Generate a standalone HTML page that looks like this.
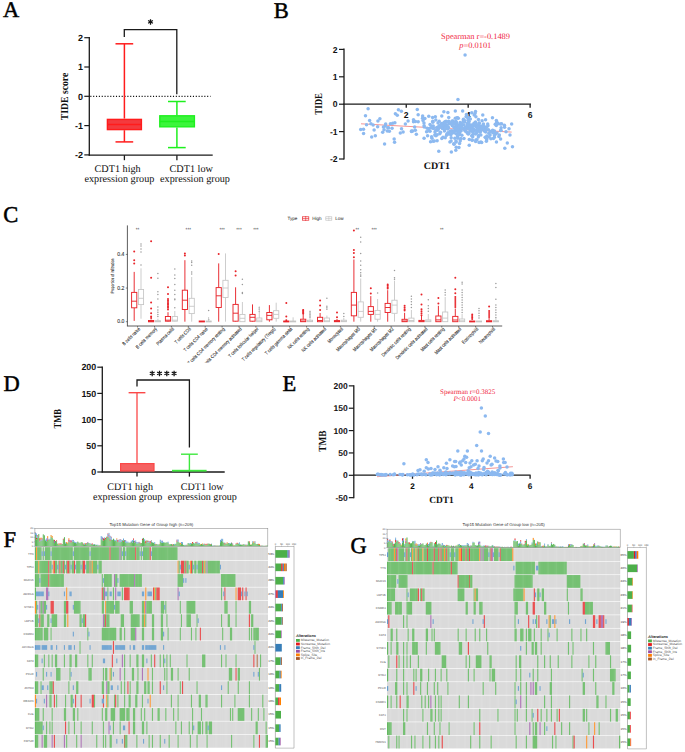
<!DOCTYPE html>
<html><head><meta charset="utf-8"><title>Figure</title>
<style>html,body{margin:0;padding:0;background:#fff;width:685px;height:752px;overflow:hidden}svg{display:block}text{text-rendering:geometricPrecision}</style>
</head><body>
<svg width="685" height="752" viewBox="0 0 685 752"><text x="2.90" y="17.20" font-family='"Liberation Serif", serif' font-size="22.5" font-weight="normal" text-anchor="start" fill="#000" stroke="#000" stroke-width="0.5">A</text>
<line x1="89.30" y1="37.00" x2="89.30" y2="155.80" stroke="#1a1a1a" stroke-width="1.3"/>
<line x1="88.70" y1="155.20" x2="212.70" y2="155.20" stroke="#1a1a1a" stroke-width="1.3"/>
<line x1="84.30" y1="37.70" x2="89.30" y2="37.70" stroke="#1a1a1a" stroke-width="1.2"/>
<text x="83.00" y="40.94" font-family='"Liberation Sans", sans-serif' font-size="9.0" font-weight="bold" text-anchor="end" fill="#111">2</text>
<line x1="84.30" y1="67.00" x2="89.30" y2="67.00" stroke="#1a1a1a" stroke-width="1.2"/>
<text x="83.00" y="70.24" font-family='"Liberation Sans", sans-serif' font-size="9.0" font-weight="bold" text-anchor="end" fill="#111">1</text>
<line x1="84.30" y1="96.30" x2="89.30" y2="96.30" stroke="#1a1a1a" stroke-width="1.2"/>
<text x="83.00" y="99.54" font-family='"Liberation Sans", sans-serif' font-size="9.0" font-weight="bold" text-anchor="end" fill="#111">0</text>
<line x1="84.30" y1="125.60" x2="89.30" y2="125.60" stroke="#1a1a1a" stroke-width="1.2"/>
<text x="83.00" y="128.84" font-family='"Liberation Sans", sans-serif' font-size="9.0" font-weight="bold" text-anchor="end" fill="#111">-1</text>
<line x1="84.30" y1="154.90" x2="89.30" y2="154.90" stroke="#1a1a1a" stroke-width="1.2"/>
<text x="83.00" y="158.14" font-family='"Liberation Sans", sans-serif' font-size="9.0" font-weight="bold" text-anchor="end" fill="#111">-2</text>
<line x1="124.40" y1="155.20" x2="124.40" y2="160.20" stroke="#1a1a1a" stroke-width="1.3"/>
<line x1="176.90" y1="155.20" x2="176.90" y2="160.20" stroke="#1a1a1a" stroke-width="1.3"/>
<line x1="90.30" y1="96.30" x2="210.50" y2="96.30" stroke="#111" stroke-width="1.2" stroke-dasharray="1.1 1.75"/>
<polyline points="124.3,36.9 124.3,29.6 176.8,29.6 176.8,94.3" fill="none" stroke="#1a1a1a" stroke-width="1.3"/>
<path d="M150.50 19.15L150.50 24.65M152.88 20.52L148.12 23.27M152.88 23.27L148.12 20.52" stroke="#111" stroke-width="1.25" stroke-linecap="butt"/>
<line x1="124.40" y1="43.80" x2="124.40" y2="118.60" stroke="#ff1c1c" stroke-width="1.5"/>
<line x1="124.40" y1="130.20" x2="124.40" y2="141.90" stroke="#ff1c1c" stroke-width="1.5"/>
<line x1="115.50" y1="43.80" x2="133.20" y2="43.80" stroke="#ff1c1c" stroke-width="1.5"/>
<line x1="115.50" y1="141.90" x2="133.20" y2="141.90" stroke="#ff1c1c" stroke-width="1.5"/>
<rect x="107.40" y="119.40" width="34.00" height="10.20" fill="#f43a3e" stroke="#ff1c1c" stroke-width="1.4"/>
<line x1="107.40" y1="124.40" x2="141.40" y2="124.40" stroke="#ff1c1c" stroke-width="1.5"/>
<line x1="176.90" y1="101.50" x2="176.90" y2="115.20" stroke="#1ef01e" stroke-width="1.5"/>
<line x1="176.90" y1="127.50" x2="176.90" y2="147.60" stroke="#1ef01e" stroke-width="1.5"/>
<line x1="168.00" y1="101.50" x2="185.70" y2="101.50" stroke="#1ef01e" stroke-width="1.5"/>
<line x1="168.00" y1="147.60" x2="185.70" y2="147.60" stroke="#1ef01e" stroke-width="1.5"/>
<rect x="159.80" y="115.80" width="34.60" height="11.00" fill="#3cf53c" stroke="#1ef01e" stroke-width="1.4"/>
<line x1="159.80" y1="121.60" x2="194.40" y2="121.60" stroke="#1ef01e" stroke-width="1.5"/>
<g transform="translate(64.20 96.50) rotate(-90) scale(0.915 1)"><text x="0.00" y="3.50" font-family='"Liberation Serif", serif' font-size="10.6" font-weight="bold" text-anchor="middle" fill="#111">TIDE score</text></g>
<text x="117.60" y="171.60" font-family='"Liberation Serif", serif' font-size="10.2" font-weight="normal" text-anchor="middle" fill="#111">CDT1 high</text>
<text x="119.40" y="182.30" font-family='"Liberation Serif", serif' font-size="10.2" font-weight="normal" text-anchor="middle" fill="#111">expression group</text>
<text x="191.20" y="171.60" font-family='"Liberation Serif", serif' font-size="10.2" font-weight="normal" text-anchor="middle" fill="#111">CDT1 low</text>
<text x="195.00" y="182.30" font-family='"Liberation Serif", serif' font-size="10.2" font-weight="normal" text-anchor="middle" fill="#111">expression group</text>
<text x="273.80" y="17.50" font-family='"Liberation Serif", serif' font-size="22.5" font-weight="normal" text-anchor="start" fill="#000" stroke="#000" stroke-width="0.5">B</text>
<line x1="344.00" y1="48.60" x2="344.00" y2="159.50" stroke="#1a1a1a" stroke-width="1.3"/>
<line x1="343.40" y1="104.20" x2="531.00" y2="104.20" stroke="#1a1a1a" stroke-width="1.3"/>
<line x1="339.00" y1="49.40" x2="344.00" y2="49.40" stroke="#1a1a1a" stroke-width="1.2"/>
<text x="337.60" y="52.50" font-family='"Liberation Sans", sans-serif' font-size="8.6" font-weight="bold" text-anchor="end" fill="#111">2</text>
<line x1="339.00" y1="76.80" x2="344.00" y2="76.80" stroke="#1a1a1a" stroke-width="1.2"/>
<text x="337.60" y="79.90" font-family='"Liberation Sans", sans-serif' font-size="8.6" font-weight="bold" text-anchor="end" fill="#111">1</text>
<line x1="339.00" y1="104.20" x2="344.00" y2="104.20" stroke="#1a1a1a" stroke-width="1.2"/>
<text x="337.60" y="107.30" font-family='"Liberation Sans", sans-serif' font-size="8.6" font-weight="bold" text-anchor="end" fill="#111">0</text>
<line x1="339.00" y1="131.60" x2="344.00" y2="131.60" stroke="#1a1a1a" stroke-width="1.2"/>
<text x="337.60" y="134.70" font-family='"Liberation Sans", sans-serif' font-size="8.6" font-weight="bold" text-anchor="end" fill="#111">-1</text>
<line x1="339.00" y1="159.00" x2="344.00" y2="159.00" stroke="#1a1a1a" stroke-width="1.2"/>
<text x="337.60" y="162.10" font-family='"Liberation Sans", sans-serif' font-size="8.6" font-weight="bold" text-anchor="end" fill="#111">-2</text>
<line x1="406.24" y1="104.20" x2="406.24" y2="107.80" stroke="#1a1a1a" stroke-width="1.3"/>
<text x="406.24" y="117.90" font-family='"Liberation Sans", sans-serif' font-size="8.6" font-weight="bold" text-anchor="middle" fill="#111">2</text>
<line x1="468.18" y1="104.20" x2="468.18" y2="107.80" stroke="#1a1a1a" stroke-width="1.3"/>
<text x="468.18" y="117.90" font-family='"Liberation Sans", sans-serif' font-size="8.6" font-weight="bold" text-anchor="middle" fill="#111">4</text>
<line x1="530.12" y1="104.20" x2="530.12" y2="107.80" stroke="#1a1a1a" stroke-width="1.3"/>
<text x="530.12" y="117.90" font-family='"Liberation Sans", sans-serif' font-size="8.6" font-weight="bold" text-anchor="middle" fill="#111">6</text>
<g transform="translate(318.30 103.90) rotate(-90) scale(0.83 1)"><text x="0.00" y="3.50" font-family='"Liberation Serif", serif' font-size="10.6" font-weight="bold" text-anchor="middle" fill="#111">TIDE</text></g>
<text x="436.90" y="168.70" font-family='"Liberation Serif", serif' font-size="10.0" font-weight="bold" text-anchor="middle" fill="#111">CDT1</text>
<text x="475.50" y="39.40" font-family='"Liberation Serif", serif' font-size="8.4" font-weight="normal" text-anchor="middle" fill="#f0263e">Spearman r=-0.1489</text>
<text x="475.3" y="48.3" font-family='"Liberation Serif", serif' font-size="8.4" text-anchor="middle" fill="#f0263e"><tspan font-style="italic">p</tspan>=0.0101</text>
<line x1="361.00" y1="123.80" x2="511.70" y2="132.10" stroke="#f07a7a" stroke-width="0.8"/>
<circle cx="379.89" cy="118.70" r="1.75" fill="#8cb9f0"/>
<circle cx="365.48" cy="115.79" r="1.75" fill="#8cb9f0"/>
<circle cx="392.04" cy="128.13" r="1.75" fill="#8cb9f0"/>
<circle cx="390.41" cy="123.86" r="1.75" fill="#8cb9f0"/>
<circle cx="363.48" cy="129.17" r="1.75" fill="#8cb9f0"/>
<circle cx="366.53" cy="124.77" r="1.75" fill="#8cb9f0"/>
<circle cx="385.66" cy="124.03" r="1.75" fill="#8cb9f0"/>
<circle cx="374.12" cy="130.11" r="1.75" fill="#8cb9f0"/>
<circle cx="397.28" cy="115.23" r="1.75" fill="#8cb9f0"/>
<circle cx="384.06" cy="129.83" r="1.75" fill="#8cb9f0"/>
<circle cx="417.27" cy="109.52" r="1.75" fill="#8cb9f0"/>
<circle cx="377.93" cy="121.12" r="1.75" fill="#8cb9f0"/>
<circle cx="369.60" cy="120.56" r="1.75" fill="#8cb9f0"/>
<circle cx="408.09" cy="121.04" r="1.75" fill="#8cb9f0"/>
<circle cx="371.69" cy="137.03" r="1.75" fill="#8cb9f0"/>
<circle cx="382.67" cy="132.26" r="1.75" fill="#8cb9f0"/>
<circle cx="392.72" cy="123.28" r="1.75" fill="#8cb9f0"/>
<circle cx="373.13" cy="124.94" r="1.75" fill="#8cb9f0"/>
<circle cx="400.32" cy="132.96" r="1.75" fill="#8cb9f0"/>
<circle cx="394.88" cy="122.77" r="1.75" fill="#8cb9f0"/>
<circle cx="387.30" cy="130.92" r="1.75" fill="#8cb9f0"/>
<circle cx="401.38" cy="111.28" r="1.75" fill="#8cb9f0"/>
<circle cx="375.32" cy="135.67" r="1.75" fill="#8cb9f0"/>
<circle cx="411.47" cy="130.94" r="1.75" fill="#8cb9f0"/>
<circle cx="403.13" cy="131.92" r="1.75" fill="#8cb9f0"/>
<circle cx="368.10" cy="108.86" r="1.75" fill="#8cb9f0"/>
<circle cx="385.29" cy="125.89" r="1.75" fill="#8cb9f0"/>
<circle cx="389.35" cy="131.15" r="1.75" fill="#8cb9f0"/>
<circle cx="363.58" cy="133.45" r="1.75" fill="#8cb9f0"/>
<circle cx="394.16" cy="139.11" r="1.75" fill="#8cb9f0"/>
<circle cx="411.49" cy="131.39" r="1.75" fill="#8cb9f0"/>
<circle cx="395.39" cy="113.67" r="1.75" fill="#8cb9f0"/>
<circle cx="394.56" cy="142.27" r="1.75" fill="#8cb9f0"/>
<circle cx="415.46" cy="121.56" r="1.75" fill="#8cb9f0"/>
<circle cx="388.50" cy="127.71" r="1.75" fill="#8cb9f0"/>
<circle cx="401.53" cy="128.78" r="1.75" fill="#8cb9f0"/>
<circle cx="398.41" cy="109.85" r="1.75" fill="#8cb9f0"/>
<circle cx="377.64" cy="126.83" r="1.75" fill="#8cb9f0"/>
<circle cx="383.44" cy="127.04" r="1.75" fill="#8cb9f0"/>
<circle cx="387.79" cy="127.75" r="1.75" fill="#8cb9f0"/>
<circle cx="370.96" cy="123.85" r="1.75" fill="#8cb9f0"/>
<circle cx="405.35" cy="124.07" r="1.75" fill="#8cb9f0"/>
<circle cx="472.97" cy="125.59" r="1.75" fill="#8cb9f0"/>
<circle cx="422.55" cy="118.34" r="1.75" fill="#8cb9f0"/>
<circle cx="483.51" cy="126.18" r="1.75" fill="#8cb9f0"/>
<circle cx="412.76" cy="131.02" r="1.75" fill="#8cb9f0"/>
<circle cx="480.78" cy="142.10" r="1.75" fill="#8cb9f0"/>
<circle cx="455.99" cy="121.61" r="1.75" fill="#8cb9f0"/>
<circle cx="428.76" cy="116.36" r="1.75" fill="#8cb9f0"/>
<circle cx="473.77" cy="130.41" r="1.75" fill="#8cb9f0"/>
<circle cx="468.29" cy="124.69" r="1.75" fill="#8cb9f0"/>
<circle cx="463.35" cy="121.07" r="1.75" fill="#8cb9f0"/>
<circle cx="444.46" cy="130.93" r="1.75" fill="#8cb9f0"/>
<circle cx="485.60" cy="129.72" r="1.75" fill="#8cb9f0"/>
<circle cx="439.17" cy="121.37" r="1.75" fill="#8cb9f0"/>
<circle cx="495.84" cy="133.40" r="1.75" fill="#8cb9f0"/>
<circle cx="427.10" cy="128.24" r="1.75" fill="#8cb9f0"/>
<circle cx="456.84" cy="130.67" r="1.75" fill="#8cb9f0"/>
<circle cx="494.37" cy="137.33" r="1.75" fill="#8cb9f0"/>
<circle cx="490.89" cy="138.83" r="1.75" fill="#8cb9f0"/>
<circle cx="441.43" cy="123.62" r="1.75" fill="#8cb9f0"/>
<circle cx="487.70" cy="124.11" r="1.75" fill="#8cb9f0"/>
<circle cx="468.78" cy="128.19" r="1.75" fill="#8cb9f0"/>
<circle cx="464.12" cy="125.01" r="1.75" fill="#8cb9f0"/>
<circle cx="456.18" cy="126.70" r="1.75" fill="#8cb9f0"/>
<circle cx="474.27" cy="129.40" r="1.75" fill="#8cb9f0"/>
<circle cx="478.89" cy="125.73" r="1.75" fill="#8cb9f0"/>
<circle cx="509.01" cy="128.71" r="1.75" fill="#8cb9f0"/>
<circle cx="450.11" cy="130.89" r="1.75" fill="#8cb9f0"/>
<circle cx="460.12" cy="122.45" r="1.75" fill="#8cb9f0"/>
<circle cx="452.31" cy="125.79" r="1.75" fill="#8cb9f0"/>
<circle cx="504.82" cy="148.32" r="1.75" fill="#8cb9f0"/>
<circle cx="433.29" cy="125.92" r="1.75" fill="#8cb9f0"/>
<circle cx="470.06" cy="127.58" r="1.75" fill="#8cb9f0"/>
<circle cx="450.02" cy="123.84" r="1.75" fill="#8cb9f0"/>
<circle cx="467.25" cy="132.67" r="1.75" fill="#8cb9f0"/>
<circle cx="469.02" cy="132.97" r="1.75" fill="#8cb9f0"/>
<circle cx="458.04" cy="130.23" r="1.75" fill="#8cb9f0"/>
<circle cx="458.92" cy="147.41" r="1.75" fill="#8cb9f0"/>
<circle cx="448.68" cy="121.36" r="1.75" fill="#8cb9f0"/>
<circle cx="432.21" cy="128.00" r="1.75" fill="#8cb9f0"/>
<circle cx="483.47" cy="123.95" r="1.75" fill="#8cb9f0"/>
<circle cx="496.46" cy="142.04" r="1.75" fill="#8cb9f0"/>
<circle cx="451.90" cy="130.75" r="1.75" fill="#8cb9f0"/>
<circle cx="475.49" cy="121.98" r="1.75" fill="#8cb9f0"/>
<circle cx="486.74" cy="139.87" r="1.75" fill="#8cb9f0"/>
<circle cx="476.94" cy="139.74" r="1.75" fill="#8cb9f0"/>
<circle cx="464.69" cy="120.80" r="1.75" fill="#8cb9f0"/>
<circle cx="456.83" cy="127.32" r="1.75" fill="#8cb9f0"/>
<circle cx="479.69" cy="128.67" r="1.75" fill="#8cb9f0"/>
<circle cx="458.30" cy="118.19" r="1.75" fill="#8cb9f0"/>
<circle cx="485.76" cy="131.92" r="1.75" fill="#8cb9f0"/>
<circle cx="432.73" cy="121.30" r="1.75" fill="#8cb9f0"/>
<circle cx="454.02" cy="127.60" r="1.75" fill="#8cb9f0"/>
<circle cx="477.47" cy="128.02" r="1.75" fill="#8cb9f0"/>
<circle cx="475.86" cy="139.94" r="1.75" fill="#8cb9f0"/>
<circle cx="423.97" cy="122.97" r="1.75" fill="#8cb9f0"/>
<circle cx="437.17" cy="134.79" r="1.75" fill="#8cb9f0"/>
<circle cx="424.92" cy="118.55" r="1.75" fill="#8cb9f0"/>
<circle cx="478.47" cy="119.50" r="1.75" fill="#8cb9f0"/>
<circle cx="437.78" cy="127.78" r="1.75" fill="#8cb9f0"/>
<circle cx="432.89" cy="122.33" r="1.75" fill="#8cb9f0"/>
<circle cx="498.83" cy="136.59" r="1.75" fill="#8cb9f0"/>
<circle cx="498.13" cy="123.69" r="1.75" fill="#8cb9f0"/>
<circle cx="456.14" cy="142.11" r="1.75" fill="#8cb9f0"/>
<circle cx="494.42" cy="130.95" r="1.75" fill="#8cb9f0"/>
<circle cx="445.88" cy="125.41" r="1.75" fill="#8cb9f0"/>
<circle cx="470.34" cy="118.97" r="1.75" fill="#8cb9f0"/>
<circle cx="435.79" cy="119.92" r="1.75" fill="#8cb9f0"/>
<circle cx="496.37" cy="120.43" r="1.75" fill="#8cb9f0"/>
<circle cx="456.07" cy="133.70" r="1.75" fill="#8cb9f0"/>
<circle cx="485.04" cy="129.09" r="1.75" fill="#8cb9f0"/>
<circle cx="463.44" cy="119.17" r="1.75" fill="#8cb9f0"/>
<circle cx="454.07" cy="144.24" r="1.75" fill="#8cb9f0"/>
<circle cx="451.08" cy="141.08" r="1.75" fill="#8cb9f0"/>
<circle cx="480.22" cy="127.49" r="1.75" fill="#8cb9f0"/>
<circle cx="445.67" cy="128.20" r="1.75" fill="#8cb9f0"/>
<circle cx="480.55" cy="129.14" r="1.75" fill="#8cb9f0"/>
<circle cx="492.48" cy="130.63" r="1.75" fill="#8cb9f0"/>
<circle cx="485.57" cy="119.69" r="1.75" fill="#8cb9f0"/>
<circle cx="499.33" cy="135.11" r="1.75" fill="#8cb9f0"/>
<circle cx="481.69" cy="142.58" r="1.75" fill="#8cb9f0"/>
<circle cx="434.27" cy="141.08" r="1.75" fill="#8cb9f0"/>
<circle cx="486.26" cy="138.37" r="1.75" fill="#8cb9f0"/>
<circle cx="460.13" cy="130.09" r="1.75" fill="#8cb9f0"/>
<circle cx="459.75" cy="132.81" r="1.75" fill="#8cb9f0"/>
<circle cx="466.08" cy="116.77" r="1.75" fill="#8cb9f0"/>
<circle cx="461.51" cy="125.20" r="1.75" fill="#8cb9f0"/>
<circle cx="484.61" cy="131.22" r="1.75" fill="#8cb9f0"/>
<circle cx="430.01" cy="131.25" r="1.75" fill="#8cb9f0"/>
<circle cx="486.37" cy="141.22" r="1.75" fill="#8cb9f0"/>
<circle cx="446.00" cy="121.25" r="1.75" fill="#8cb9f0"/>
<circle cx="479.59" cy="129.59" r="1.75" fill="#8cb9f0"/>
<circle cx="479.89" cy="128.52" r="1.75" fill="#8cb9f0"/>
<circle cx="431.96" cy="138.24" r="1.75" fill="#8cb9f0"/>
<circle cx="445.00" cy="121.79" r="1.75" fill="#8cb9f0"/>
<circle cx="446.78" cy="134.37" r="1.75" fill="#8cb9f0"/>
<circle cx="441.81" cy="138.46" r="1.75" fill="#8cb9f0"/>
<circle cx="457.60" cy="136.75" r="1.75" fill="#8cb9f0"/>
<circle cx="469.23" cy="145.35" r="1.75" fill="#8cb9f0"/>
<circle cx="468.36" cy="133.54" r="1.75" fill="#8cb9f0"/>
<circle cx="413.52" cy="121.75" r="1.75" fill="#8cb9f0"/>
<circle cx="453.78" cy="143.77" r="1.75" fill="#8cb9f0"/>
<circle cx="439.30" cy="125.86" r="1.75" fill="#8cb9f0"/>
<circle cx="449.36" cy="122.96" r="1.75" fill="#8cb9f0"/>
<circle cx="478.50" cy="125.03" r="1.75" fill="#8cb9f0"/>
<circle cx="468.33" cy="120.00" r="1.75" fill="#8cb9f0"/>
<circle cx="476.38" cy="126.41" r="1.75" fill="#8cb9f0"/>
<circle cx="482.10" cy="120.78" r="1.75" fill="#8cb9f0"/>
<circle cx="453.27" cy="131.69" r="1.75" fill="#8cb9f0"/>
<circle cx="507.31" cy="142.91" r="1.75" fill="#8cb9f0"/>
<circle cx="471.76" cy="112.69" r="1.75" fill="#8cb9f0"/>
<circle cx="438.03" cy="123.08" r="1.75" fill="#8cb9f0"/>
<circle cx="506.01" cy="131.63" r="1.75" fill="#8cb9f0"/>
<circle cx="473.99" cy="123.21" r="1.75" fill="#8cb9f0"/>
<circle cx="438.56" cy="128.43" r="1.75" fill="#8cb9f0"/>
<circle cx="467.51" cy="123.45" r="1.75" fill="#8cb9f0"/>
<circle cx="459.60" cy="130.09" r="1.75" fill="#8cb9f0"/>
<circle cx="435.89" cy="130.16" r="1.75" fill="#8cb9f0"/>
<circle cx="481.98" cy="129.05" r="1.75" fill="#8cb9f0"/>
<circle cx="439.83" cy="133.64" r="1.75" fill="#8cb9f0"/>
<circle cx="487.97" cy="125.64" r="1.75" fill="#8cb9f0"/>
<circle cx="475.45" cy="126.16" r="1.75" fill="#8cb9f0"/>
<circle cx="501.12" cy="127.66" r="1.75" fill="#8cb9f0"/>
<circle cx="458.81" cy="125.14" r="1.75" fill="#8cb9f0"/>
<circle cx="413.47" cy="119.64" r="1.75" fill="#8cb9f0"/>
<circle cx="468.29" cy="133.95" r="1.75" fill="#8cb9f0"/>
<circle cx="492.46" cy="117.81" r="1.75" fill="#8cb9f0"/>
<circle cx="426.56" cy="131.86" r="1.75" fill="#8cb9f0"/>
<circle cx="467.47" cy="127.85" r="1.75" fill="#8cb9f0"/>
<circle cx="450.81" cy="135.04" r="1.75" fill="#8cb9f0"/>
<circle cx="511.66" cy="123.95" r="1.75" fill="#8cb9f0"/>
<circle cx="431.59" cy="136.73" r="1.75" fill="#8cb9f0"/>
<circle cx="501.58" cy="123.84" r="1.75" fill="#8cb9f0"/>
<circle cx="504.43" cy="125.19" r="1.75" fill="#8cb9f0"/>
<circle cx="439.37" cy="126.07" r="1.75" fill="#8cb9f0"/>
<circle cx="442.37" cy="128.40" r="1.75" fill="#8cb9f0"/>
<circle cx="473.07" cy="134.33" r="1.75" fill="#8cb9f0"/>
<circle cx="457.44" cy="125.52" r="1.75" fill="#8cb9f0"/>
<circle cx="469.54" cy="124.82" r="1.75" fill="#8cb9f0"/>
<circle cx="465.49" cy="131.23" r="1.75" fill="#8cb9f0"/>
<circle cx="479.50" cy="129.30" r="1.75" fill="#8cb9f0"/>
<circle cx="440.48" cy="132.20" r="1.75" fill="#8cb9f0"/>
<circle cx="460.43" cy="129.54" r="1.75" fill="#8cb9f0"/>
<circle cx="464.23" cy="128.96" r="1.75" fill="#8cb9f0"/>
<circle cx="464.69" cy="129.90" r="1.75" fill="#8cb9f0"/>
<circle cx="430.04" cy="124.56" r="1.75" fill="#8cb9f0"/>
<circle cx="485.89" cy="126.94" r="1.75" fill="#8cb9f0"/>
<circle cx="455.87" cy="125.53" r="1.75" fill="#8cb9f0"/>
<circle cx="437.11" cy="140.75" r="1.75" fill="#8cb9f0"/>
<circle cx="461.88" cy="135.23" r="1.75" fill="#8cb9f0"/>
<circle cx="478.31" cy="137.01" r="1.75" fill="#8cb9f0"/>
<circle cx="435.33" cy="116.87" r="1.75" fill="#8cb9f0"/>
<circle cx="451.21" cy="137.76" r="1.75" fill="#8cb9f0"/>
<circle cx="442.00" cy="124.41" r="1.75" fill="#8cb9f0"/>
<circle cx="472.44" cy="128.11" r="1.75" fill="#8cb9f0"/>
<circle cx="496.28" cy="125.54" r="1.75" fill="#8cb9f0"/>
<circle cx="459.93" cy="124.68" r="1.75" fill="#8cb9f0"/>
<circle cx="500.41" cy="123.91" r="1.75" fill="#8cb9f0"/>
<circle cx="485.17" cy="137.30" r="1.75" fill="#8cb9f0"/>
<circle cx="456.85" cy="123.63" r="1.75" fill="#8cb9f0"/>
<circle cx="453.28" cy="121.15" r="1.75" fill="#8cb9f0"/>
<circle cx="474.84" cy="123.21" r="1.75" fill="#8cb9f0"/>
<circle cx="455.31" cy="111.12" r="1.75" fill="#8cb9f0"/>
<circle cx="490.39" cy="131.59" r="1.75" fill="#8cb9f0"/>
<circle cx="462.63" cy="111.11" r="1.75" fill="#8cb9f0"/>
<circle cx="452.15" cy="122.44" r="1.75" fill="#8cb9f0"/>
<circle cx="484.12" cy="129.79" r="1.75" fill="#8cb9f0"/>
<circle cx="432.24" cy="126.26" r="1.75" fill="#8cb9f0"/>
<circle cx="469.12" cy="121.44" r="1.75" fill="#8cb9f0"/>
<circle cx="479.35" cy="129.46" r="1.75" fill="#8cb9f0"/>
<circle cx="481.06" cy="126.01" r="1.75" fill="#8cb9f0"/>
<circle cx="465.41" cy="128.63" r="1.75" fill="#8cb9f0"/>
<circle cx="454.56" cy="123.83" r="1.75" fill="#8cb9f0"/>
<circle cx="434.97" cy="131.97" r="1.75" fill="#8cb9f0"/>
<circle cx="460.56" cy="138.82" r="1.75" fill="#8cb9f0"/>
<circle cx="449.91" cy="142.09" r="1.75" fill="#8cb9f0"/>
<circle cx="443.94" cy="124.17" r="1.75" fill="#8cb9f0"/>
<circle cx="474.12" cy="129.77" r="1.75" fill="#8cb9f0"/>
<circle cx="454.83" cy="138.25" r="1.75" fill="#8cb9f0"/>
<circle cx="504.59" cy="127.21" r="1.75" fill="#8cb9f0"/>
<circle cx="486.85" cy="136.00" r="1.75" fill="#8cb9f0"/>
<circle cx="455.96" cy="141.06" r="1.75" fill="#8cb9f0"/>
<circle cx="479.29" cy="123.22" r="1.75" fill="#8cb9f0"/>
<circle cx="414.60" cy="127.12" r="1.75" fill="#8cb9f0"/>
<circle cx="475.66" cy="141.54" r="1.75" fill="#8cb9f0"/>
<circle cx="416.34" cy="134.14" r="1.75" fill="#8cb9f0"/>
<circle cx="445.24" cy="137.73" r="1.75" fill="#8cb9f0"/>
<circle cx="461.20" cy="127.12" r="1.75" fill="#8cb9f0"/>
<circle cx="475.75" cy="124.66" r="1.75" fill="#8cb9f0"/>
<circle cx="496.74" cy="122.42" r="1.75" fill="#8cb9f0"/>
<circle cx="428.75" cy="130.85" r="1.75" fill="#8cb9f0"/>
<circle cx="434.83" cy="135.03" r="1.75" fill="#8cb9f0"/>
<circle cx="458.47" cy="128.67" r="1.75" fill="#8cb9f0"/>
<circle cx="472.28" cy="140.19" r="1.75" fill="#8cb9f0"/>
<circle cx="430.54" cy="127.63" r="1.75" fill="#8cb9f0"/>
<circle cx="455.62" cy="130.71" r="1.75" fill="#8cb9f0"/>
<circle cx="458.91" cy="133.93" r="1.75" fill="#8cb9f0"/>
<circle cx="477.38" cy="127.11" r="1.75" fill="#8cb9f0"/>
<circle cx="458.32" cy="133.30" r="1.75" fill="#8cb9f0"/>
<circle cx="456.23" cy="147.25" r="1.75" fill="#8cb9f0"/>
<circle cx="436.73" cy="127.49" r="1.75" fill="#8cb9f0"/>
<circle cx="424.10" cy="125.82" r="1.75" fill="#8cb9f0"/>
<circle cx="464.00" cy="138.39" r="1.75" fill="#8cb9f0"/>
<circle cx="454.38" cy="130.67" r="1.75" fill="#8cb9f0"/>
<circle cx="471.55" cy="125.09" r="1.75" fill="#8cb9f0"/>
<circle cx="459.56" cy="134.58" r="1.75" fill="#8cb9f0"/>
<circle cx="456.95" cy="129.09" r="1.75" fill="#8cb9f0"/>
<circle cx="478.18" cy="127.56" r="1.75" fill="#8cb9f0"/>
<circle cx="442.98" cy="137.30" r="1.75" fill="#8cb9f0"/>
<circle cx="451.42" cy="133.46" r="1.75" fill="#8cb9f0"/>
<circle cx="433.58" cy="128.40" r="1.75" fill="#8cb9f0"/>
<circle cx="448.57" cy="127.54" r="1.75" fill="#8cb9f0"/>
<circle cx="473.08" cy="132.18" r="1.75" fill="#8cb9f0"/>
<circle cx="452.67" cy="120.90" r="1.75" fill="#8cb9f0"/>
<circle cx="463.38" cy="121.28" r="1.75" fill="#8cb9f0"/>
<circle cx="442.28" cy="126.30" r="1.75" fill="#8cb9f0"/>
<circle cx="474.99" cy="113.43" r="1.75" fill="#8cb9f0"/>
<circle cx="468.23" cy="120.37" r="1.75" fill="#8cb9f0"/>
<circle cx="478.95" cy="123.12" r="1.75" fill="#8cb9f0"/>
<circle cx="472.76" cy="130.41" r="1.75" fill="#8cb9f0"/>
<circle cx="472.74" cy="136.72" r="1.75" fill="#8cb9f0"/>
<circle cx="488.98" cy="137.02" r="1.75" fill="#8cb9f0"/>
<circle cx="466.46" cy="114.53" r="1.75" fill="#8cb9f0"/>
<circle cx="455.04" cy="128.42" r="1.75" fill="#8cb9f0"/>
<circle cx="488.53" cy="129.85" r="1.75" fill="#8cb9f0"/>
<circle cx="440.93" cy="126.16" r="1.75" fill="#8cb9f0"/>
<circle cx="474.50" cy="124.55" r="1.75" fill="#8cb9f0"/>
<circle cx="441.78" cy="115.96" r="1.75" fill="#8cb9f0"/>
<circle cx="500.70" cy="130.45" r="1.75" fill="#8cb9f0"/>
<circle cx="466.93" cy="132.01" r="1.75" fill="#8cb9f0"/>
<circle cx="494.60" cy="135.13" r="1.75" fill="#8cb9f0"/>
<circle cx="476.72" cy="132.80" r="1.75" fill="#8cb9f0"/>
<circle cx="443.67" cy="123.13" r="1.75" fill="#8cb9f0"/>
<circle cx="492.66" cy="130.29" r="1.75" fill="#8cb9f0"/>
<circle cx="444.07" cy="122.51" r="1.75" fill="#8cb9f0"/>
<circle cx="459.24" cy="126.61" r="1.75" fill="#8cb9f0"/>
<circle cx="497.22" cy="122.67" r="1.75" fill="#8cb9f0"/>
<circle cx="447.88" cy="112.59" r="1.75" fill="#8cb9f0"/>
<circle cx="460.52" cy="123.41" r="1.75" fill="#8cb9f0"/>
<circle cx="444.80" cy="128.41" r="1.75" fill="#8cb9f0"/>
<circle cx="418.16" cy="114.68" r="1.75" fill="#8cb9f0"/>
<circle cx="493.43" cy="138.58" r="1.75" fill="#8cb9f0"/>
<circle cx="424.08" cy="138.29" r="1.75" fill="#8cb9f0"/>
<circle cx="488.84" cy="133.20" r="1.75" fill="#8cb9f0"/>
<circle cx="458.98" cy="130.87" r="1.75" fill="#8cb9f0"/>
<circle cx="457.51" cy="136.12" r="1.75" fill="#8cb9f0"/>
<circle cx="461.02" cy="138.67" r="1.75" fill="#8cb9f0"/>
<circle cx="458.71" cy="126.60" r="1.75" fill="#8cb9f0"/>
<circle cx="471.73" cy="130.88" r="1.75" fill="#8cb9f0"/>
<circle cx="438.61" cy="126.73" r="1.75" fill="#8cb9f0"/>
<circle cx="448.73" cy="117.55" r="1.75" fill="#8cb9f0"/>
<circle cx="478.98" cy="130.40" r="1.75" fill="#8cb9f0"/>
<circle cx="449.06" cy="133.10" r="1.75" fill="#8cb9f0"/>
<circle cx="437.80" cy="130.21" r="1.75" fill="#8cb9f0"/>
<circle cx="467.56" cy="125.58" r="1.75" fill="#8cb9f0"/>
<circle cx="474.18" cy="115.02" r="1.75" fill="#8cb9f0"/>
<circle cx="443.41" cy="127.95" r="1.75" fill="#8cb9f0"/>
<circle cx="415.34" cy="130.37" r="1.75" fill="#8cb9f0"/>
<circle cx="464.53" cy="127.92" r="1.75" fill="#8cb9f0"/>
<circle cx="470.29" cy="130.86" r="1.75" fill="#8cb9f0"/>
<circle cx="469.28" cy="128.82" r="1.75" fill="#8cb9f0"/>
<circle cx="479.07" cy="142.58" r="1.75" fill="#8cb9f0"/>
<circle cx="439.06" cy="127.86" r="1.75" fill="#8cb9f0"/>
<circle cx="435.51" cy="134.84" r="1.75" fill="#8cb9f0"/>
<circle cx="475.60" cy="133.91" r="1.75" fill="#8cb9f0"/>
<circle cx="475.77" cy="124.36" r="1.75" fill="#8cb9f0"/>
<circle cx="467.84" cy="125.64" r="1.75" fill="#8cb9f0"/>
<circle cx="457.91" cy="138.33" r="1.75" fill="#8cb9f0"/>
<circle cx="459.71" cy="125.65" r="1.75" fill="#8cb9f0"/>
<circle cx="447.65" cy="128.91" r="1.75" fill="#8cb9f0"/>
<circle cx="478.54" cy="135.61" r="1.75" fill="#8cb9f0"/>
<circle cx="475.90" cy="116.72" r="1.75" fill="#8cb9f0"/>
<circle cx="447.04" cy="127.20" r="1.75" fill="#8cb9f0"/>
<circle cx="456.80" cy="118.08" r="1.75" fill="#8cb9f0"/>
<circle cx="468.08" cy="122.98" r="1.75" fill="#8cb9f0"/>
<circle cx="443.77" cy="128.16" r="1.75" fill="#8cb9f0"/>
<circle cx="460.20" cy="140.95" r="1.75" fill="#8cb9f0"/>
<circle cx="495.24" cy="124.17" r="1.75" fill="#8cb9f0"/>
<circle cx="418.18" cy="121.82" r="1.75" fill="#8cb9f0"/>
<circle cx="457.27" cy="125.58" r="1.75" fill="#8cb9f0"/>
<circle cx="469.29" cy="139.45" r="1.75" fill="#8cb9f0"/>
<circle cx="455.32" cy="118.34" r="1.75" fill="#8cb9f0"/>
<circle cx="446.55" cy="135.18" r="1.75" fill="#8cb9f0"/>
<circle cx="427.59" cy="135.70" r="1.75" fill="#8cb9f0"/>
<circle cx="468.54" cy="117.56" r="1.75" fill="#8cb9f0"/>
<circle cx="470.81" cy="127.57" r="1.75" fill="#8cb9f0"/>
<circle cx="447.89" cy="132.85" r="1.75" fill="#8cb9f0"/>
<circle cx="473.20" cy="125.60" r="1.75" fill="#8cb9f0"/>
<circle cx="435.93" cy="135.72" r="1.75" fill="#8cb9f0"/>
<circle cx="467.47" cy="127.41" r="1.75" fill="#8cb9f0"/>
<circle cx="428.87" cy="128.78" r="1.75" fill="#8cb9f0"/>
<circle cx="447.33" cy="125.06" r="1.75" fill="#8cb9f0"/>
<circle cx="457.62" cy="129.26" r="1.75" fill="#8cb9f0"/>
<circle cx="451.90" cy="121.20" r="1.75" fill="#8cb9f0"/>
<circle cx="494.03" cy="132.79" r="1.75" fill="#8cb9f0"/>
<circle cx="480.88" cy="134.89" r="1.75" fill="#8cb9f0"/>
<circle cx="462.18" cy="123.73" r="1.75" fill="#8cb9f0"/>
<circle cx="497.02" cy="133.03" r="1.75" fill="#8cb9f0"/>
<circle cx="458.65" cy="127.37" r="1.75" fill="#8cb9f0"/>
<circle cx="424.25" cy="127.08" r="1.75" fill="#8cb9f0"/>
<circle cx="444.11" cy="125.52" r="1.75" fill="#8cb9f0"/>
<circle cx="433.14" cy="141.13" r="1.75" fill="#8cb9f0"/>
<circle cx="461.36" cy="127.05" r="1.75" fill="#8cb9f0"/>
<circle cx="447.18" cy="122.12" r="1.75" fill="#8cb9f0"/>
<circle cx="453.84" cy="132.65" r="1.75" fill="#8cb9f0"/>
<circle cx="471.98" cy="140.04" r="1.75" fill="#8cb9f0"/>
<circle cx="444.07" cy="128.21" r="1.75" fill="#8cb9f0"/>
<circle cx="480.94" cy="130.81" r="1.75" fill="#8cb9f0"/>
<circle cx="467.89" cy="133.61" r="1.75" fill="#8cb9f0"/>
<circle cx="467.73" cy="117.72" r="1.75" fill="#8cb9f0"/>
<circle cx="443.86" cy="111.85" r="1.75" fill="#8cb9f0"/>
<circle cx="444.88" cy="127.99" r="1.75" fill="#8cb9f0"/>
<circle cx="464.62" cy="121.96" r="1.75" fill="#8cb9f0"/>
<circle cx="430.56" cy="141.86" r="1.75" fill="#8cb9f0"/>
<circle cx="475.08" cy="123.99" r="1.75" fill="#8cb9f0"/>
<circle cx="475.50" cy="111.44" r="1.75" fill="#8cb9f0"/>
<circle cx="465.39" cy="127.27" r="1.75" fill="#8cb9f0"/>
<circle cx="482.88" cy="127.26" r="1.75" fill="#8cb9f0"/>
<circle cx="500.63" cy="139.05" r="1.75" fill="#8cb9f0"/>
<circle cx="451.37" cy="151.99" r="1.75" fill="#8cb9f0"/>
<circle cx="480.06" cy="132.21" r="1.75" fill="#8cb9f0"/>
<circle cx="482.76" cy="115.02" r="1.75" fill="#8cb9f0"/>
<circle cx="460.29" cy="130.53" r="1.75" fill="#8cb9f0"/>
<circle cx="448.37" cy="134.00" r="1.75" fill="#8cb9f0"/>
<circle cx="445.21" cy="123.74" r="1.75" fill="#8cb9f0"/>
<circle cx="461.33" cy="128.38" r="1.75" fill="#8cb9f0"/>
<circle cx="456.25" cy="122.34" r="1.75" fill="#8cb9f0"/>
<circle cx="472.37" cy="130.29" r="1.75" fill="#8cb9f0"/>
<circle cx="476.49" cy="130.54" r="1.75" fill="#8cb9f0"/>
<circle cx="432.59" cy="117.59" r="1.75" fill="#8cb9f0"/>
<circle cx="471.68" cy="135.85" r="1.75" fill="#8cb9f0"/>
<circle cx="486.50" cy="127.58" r="1.75" fill="#8cb9f0"/>
<circle cx="422.65" cy="116.09" r="1.75" fill="#8cb9f0"/>
<circle cx="468.49" cy="123.04" r="1.75" fill="#8cb9f0"/>
<circle cx="465.22" cy="130.03" r="1.75" fill="#8cb9f0"/>
<circle cx="423.04" cy="120.48" r="1.75" fill="#8cb9f0"/>
<circle cx="461.17" cy="130.79" r="1.75" fill="#8cb9f0"/>
<circle cx="468.91" cy="128.63" r="1.75" fill="#8cb9f0"/>
<circle cx="476.76" cy="132.05" r="1.75" fill="#8cb9f0"/>
<circle cx="459.56" cy="143.40" r="1.75" fill="#8cb9f0"/>
<circle cx="450.21" cy="123.71" r="1.75" fill="#8cb9f0"/>
<circle cx="492.73" cy="132.71" r="1.75" fill="#8cb9f0"/>
<circle cx="457.51" cy="117.82" r="1.75" fill="#8cb9f0"/>
<circle cx="452.57" cy="123.42" r="1.75" fill="#8cb9f0"/>
<circle cx="500.98" cy="130.31" r="1.75" fill="#8cb9f0"/>
<circle cx="490.08" cy="134.97" r="1.75" fill="#8cb9f0"/>
<circle cx="465.08" cy="54.88" r="1.75" fill="#8cb9f0"/>
<circle cx="457.96" cy="99.54" r="1.75" fill="#8cb9f0"/>
<circle cx="512.47" cy="146.67" r="1.75" fill="#8cb9f0"/>
<circle cx="360.71" cy="129.41" r="1.75" fill="#8cb9f0"/>
<circle cx="384.56" cy="143.93" r="1.75" fill="#8cb9f0"/>
<circle cx="438.76" cy="151.33" r="1.75" fill="#8cb9f0"/>
<circle cx="455.79" cy="150.23" r="1.75" fill="#8cb9f0"/>
<circle cx="509.99" cy="134.89" r="1.75" fill="#8cb9f0"/>
<text x="3.30" y="221.90" font-family='"Liberation Serif", serif' font-size="22.5" font-weight="normal" text-anchor="start" fill="#000" stroke="#000" stroke-width="0.5">C</text>
<line x1="127.40" y1="225.40" x2="127.40" y2="326.40" stroke="#333" stroke-width="0.8"/>
<line x1="127.40" y1="326.00" x2="502.20" y2="326.00" stroke="#333" stroke-width="0.8"/>
<line x1="125.80" y1="321.70" x2="127.40" y2="321.70" stroke="#333" stroke-width="0.6"/>
<g transform="translate(124.4 323.45) scale(1 1.12)"><text x="0.00" y="0.00" font-family='"Liberation Sans", sans-serif' font-size="5.1" font-weight="normal" text-anchor="end" fill="#333" stroke="#333" stroke-width="0.1">0.0</text></g>
<line x1="125.80" y1="288.06" x2="127.40" y2="288.06" stroke="#333" stroke-width="0.6"/>
<g transform="translate(124.4 289.81) scale(1 1.12)"><text x="0.00" y="0.00" font-family='"Liberation Sans", sans-serif' font-size="5.1" font-weight="normal" text-anchor="end" fill="#333" stroke="#333" stroke-width="0.1">0.2</text></g>
<line x1="125.80" y1="254.42" x2="127.40" y2="254.42" stroke="#333" stroke-width="0.6"/>
<g transform="translate(124.4 256.17) scale(1 1.12)"><text x="0.00" y="0.00" font-family='"Liberation Sans", sans-serif' font-size="5.1" font-weight="normal" text-anchor="end" fill="#333" stroke="#333" stroke-width="0.1">0.4</text></g>
<g transform="translate(113.8 276.0) rotate(-90) scale(1 1.35)"><text x="0.00" y="0.00" font-family='"Liberation Sans", sans-serif' font-size="3.4" font-weight="normal" text-anchor="middle" fill="#1a1a1a" stroke="#1a1a1a" stroke-width="0.08">Proportion of infiltration</text></g>
<text x="287.40" y="219.90" font-family='"Liberation Sans", sans-serif' font-size="4.6" font-weight="normal" text-anchor="start" fill="#222">Type</text>
<rect x="302.60" y="216.80" width="6.20" height="3.40" fill="#fff" stroke="#e8242a" stroke-width="0.7"/>
<line x1="305.70" y1="216.00" x2="305.70" y2="221.00" stroke="#e8242a" stroke-width="0.6"/>
<line x1="302.60" y1="218.50" x2="308.80" y2="218.50" stroke="#e8242a" stroke-width="0.6"/>
<text x="312.20" y="219.90" font-family='"Liberation Sans", sans-serif' font-size="4.6" font-weight="normal" text-anchor="start" fill="#222">High</text>
<rect x="325.80" y="216.80" width="6.00" height="3.40" fill="#fff" stroke="#c4c4c4" stroke-width="0.7"/>
<line x1="328.80" y1="216.00" x2="328.80" y2="221.00" stroke="#c4c4c4" stroke-width="0.6"/>
<line x1="325.80" y1="218.50" x2="331.80" y2="218.50" stroke="#c4c4c4" stroke-width="0.6"/>
<text x="335.20" y="219.90" font-family='"Liberation Sans", sans-serif' font-size="4.6" font-weight="normal" text-anchor="start" fill="#222">Low</text>
<circle cx="141.00" cy="265.00" r="0.75" fill="#9a9a9a"/>
<circle cx="141.00" cy="252.00" r="0.75" fill="#9a9a9a"/>
<circle cx="141.00" cy="249.00" r="0.75" fill="#9a9a9a"/>
<circle cx="141.00" cy="246.00" r="0.75" fill="#9a9a9a"/>
<circle cx="141.00" cy="244.00" r="0.75" fill="#9a9a9a"/>
<line x1="141.00" y1="268.30" x2="141.00" y2="289.50" stroke="#c4c4c4" stroke-width="0.85"/>
<line x1="141.00" y1="304.60" x2="141.00" y2="318.70" stroke="#c4c4c4" stroke-width="0.85"/>
<rect x="138.40" y="289.50" width="5.20" height="15.10" fill="#fff" stroke="#c4c4c4" stroke-width="0.85"/>
<line x1="138.40" y1="298.30" x2="143.60" y2="298.30" stroke="#c4c4c4" stroke-width="0.85"/>
<circle cx="134.20" cy="251.50" r="1.0" fill="#e8242a"/>
<circle cx="134.20" cy="260.20" r="1.0" fill="#e8242a"/>
<circle cx="134.20" cy="263.60" r="1.0" fill="#e8242a"/>
<line x1="134.20" y1="271.90" x2="134.20" y2="292.40" stroke="#e8242a" stroke-width="0.95"/>
<line x1="134.20" y1="307.80" x2="134.20" y2="320.90" stroke="#e8242a" stroke-width="0.95"/>
<rect x="131.60" y="292.40" width="5.20" height="15.40" fill="#fff" stroke="#e8242a" stroke-width="0.95"/>
<line x1="131.60" y1="301.20" x2="136.80" y2="301.20" stroke="#e8242a" stroke-width="0.95"/>
<line x1="137.60" y1="326.00" x2="137.60" y2="327.60" stroke="#333" stroke-width="0.6"/>
<text x="137.60" y="230.60" font-family='"Liberation Sans", sans-serif' font-size="4.6" font-weight="normal" text-anchor="middle" fill="#333">**</text>
<circle cx="157.90" cy="273.40" r="0.75" fill="#9a9a9a"/>
<circle cx="157.90" cy="278.20" r="0.75" fill="#9a9a9a"/>
<circle cx="157.90" cy="291.70" r="0.75" fill="#9a9a9a"/>
<circle cx="157.90" cy="294.60" r="0.75" fill="#9a9a9a"/>
<circle cx="157.90" cy="299.00" r="0.75" fill="#9a9a9a"/>
<circle cx="157.90" cy="307.00" r="0.75" fill="#9a9a9a"/>
<circle cx="157.90" cy="310.00" r="0.75" fill="#9a9a9a"/>
<circle cx="157.90" cy="312.20" r="0.75" fill="#9a9a9a"/>
<circle cx="157.90" cy="314.40" r="0.75" fill="#9a9a9a"/>
<circle cx="157.90" cy="316.50" r="0.75" fill="#9a9a9a"/>
<line x1="157.90" y1="318.70" x2="157.90" y2="320.70" stroke="#c4c4c4" stroke-width="0.85"/>
<line x1="157.90" y1="321.80" x2="157.90" y2="321.70" stroke="#c4c4c4" stroke-width="0.85"/>
<rect x="155.30" y="320.70" width="5.20" height="1.10" fill="#fff" stroke="#c4c4c4" stroke-width="0.85"/>
<line x1="155.30" y1="321.40" x2="160.50" y2="321.40" stroke="#c4c4c4" stroke-width="0.85"/>
<circle cx="151.10" cy="241.20" r="1.0" fill="#e8242a"/>
<circle cx="151.10" cy="277.80" r="1.0" fill="#e8242a"/>
<circle cx="151.10" cy="302.40" r="1.0" fill="#e8242a"/>
<circle cx="151.10" cy="308.50" r="1.0" fill="#e8242a"/>
<circle cx="151.10" cy="313.30" r="1.0" fill="#e8242a"/>
<circle cx="151.10" cy="316.50" r="1.0" fill="#e8242a"/>
<circle cx="151.10" cy="318.00" r="1.0" fill="#e8242a"/>
<line x1="151.10" y1="319.50" x2="151.10" y2="320.50" stroke="#e8242a" stroke-width="0.95"/>
<line x1="151.10" y1="321.80" x2="151.10" y2="321.70" stroke="#e8242a" stroke-width="0.95"/>
<rect x="148.50" y="320.50" width="5.20" height="1.30" fill="#fff" stroke="#e8242a" stroke-width="0.95"/>
<line x1="148.50" y1="321.40" x2="153.70" y2="321.40" stroke="#e8242a" stroke-width="0.95"/>
<line x1="154.50" y1="326.00" x2="154.50" y2="327.60" stroke="#333" stroke-width="0.6"/>
<circle cx="174.80" cy="269.00" r="0.75" fill="#9a9a9a"/>
<circle cx="174.80" cy="274.90" r="0.75" fill="#9a9a9a"/>
<circle cx="174.80" cy="278.50" r="0.75" fill="#9a9a9a"/>
<circle cx="174.80" cy="284.40" r="0.75" fill="#9a9a9a"/>
<circle cx="174.80" cy="290.20" r="0.75" fill="#9a9a9a"/>
<circle cx="174.80" cy="294.60" r="0.75" fill="#9a9a9a"/>
<circle cx="174.80" cy="299.00" r="0.75" fill="#9a9a9a"/>
<circle cx="174.80" cy="299.70" r="0.75" fill="#9a9a9a"/>
<circle cx="174.80" cy="307.80" r="0.75" fill="#9a9a9a"/>
<line x1="174.80" y1="311.00" x2="174.80" y2="316.50" stroke="#c4c4c4" stroke-width="0.85"/>
<line x1="174.80" y1="321.20" x2="174.80" y2="321.70" stroke="#c4c4c4" stroke-width="0.85"/>
<rect x="172.20" y="316.50" width="5.20" height="4.70" fill="#fff" stroke="#c4c4c4" stroke-width="0.85"/>
<line x1="172.20" y1="320.20" x2="177.40" y2="320.20" stroke="#c4c4c4" stroke-width="0.85"/>
<circle cx="168.00" cy="287.30" r="1.0" fill="#e8242a"/>
<circle cx="168.00" cy="293.90" r="1.0" fill="#e8242a"/>
<circle cx="168.00" cy="299.00" r="1.0" fill="#e8242a"/>
<circle cx="168.00" cy="300.50" r="1.0" fill="#e8242a"/>
<circle cx="168.00" cy="301.90" r="1.0" fill="#e8242a"/>
<circle cx="168.00" cy="303.40" r="1.0" fill="#e8242a"/>
<circle cx="168.00" cy="304.80" r="1.0" fill="#e8242a"/>
<circle cx="168.00" cy="306.30" r="1.0" fill="#e8242a"/>
<circle cx="168.00" cy="307.80" r="1.0" fill="#e8242a"/>
<circle cx="168.00" cy="309.50" r="1.0" fill="#e8242a"/>
<line x1="168.00" y1="312.20" x2="168.00" y2="316.50" stroke="#e8242a" stroke-width="0.95"/>
<line x1="168.00" y1="321.20" x2="168.00" y2="321.70" stroke="#e8242a" stroke-width="0.95"/>
<rect x="165.40" y="316.50" width="5.20" height="4.70" fill="#fff" stroke="#e8242a" stroke-width="0.95"/>
<line x1="165.40" y1="320.20" x2="170.60" y2="320.20" stroke="#e8242a" stroke-width="0.95"/>
<line x1="171.40" y1="326.00" x2="171.40" y2="327.60" stroke="#333" stroke-width="0.6"/>
<circle cx="191.70" cy="261.00" r="0.75" fill="#9a9a9a"/>
<circle cx="191.70" cy="262.40" r="0.75" fill="#9a9a9a"/>
<circle cx="191.70" cy="265.30" r="0.75" fill="#9a9a9a"/>
<circle cx="191.70" cy="272.00" r="0.75" fill="#9a9a9a"/>
<circle cx="191.70" cy="274.10" r="0.75" fill="#9a9a9a"/>
<line x1="191.70" y1="277.00" x2="191.70" y2="298.30" stroke="#c4c4c4" stroke-width="0.85"/>
<line x1="191.70" y1="313.60" x2="191.70" y2="321.70" stroke="#c4c4c4" stroke-width="0.85"/>
<rect x="189.10" y="298.30" width="5.20" height="15.30" fill="#fff" stroke="#c4c4c4" stroke-width="0.85"/>
<line x1="189.10" y1="306.30" x2="194.30" y2="306.30" stroke="#c4c4c4" stroke-width="0.85"/>
<circle cx="184.90" cy="253.60" r="1.0" fill="#e8242a"/>
<circle cx="184.90" cy="255.50" r="1.0" fill="#e8242a"/>
<line x1="184.90" y1="260.20" x2="184.90" y2="290.20" stroke="#e8242a" stroke-width="0.95"/>
<line x1="184.90" y1="309.50" x2="184.90" y2="321.70" stroke="#e8242a" stroke-width="0.95"/>
<rect x="182.30" y="290.20" width="5.20" height="19.30" fill="#fff" stroke="#e8242a" stroke-width="0.95"/>
<line x1="182.30" y1="300.20" x2="187.50" y2="300.20" stroke="#e8242a" stroke-width="0.95"/>
<line x1="188.30" y1="326.00" x2="188.30" y2="327.60" stroke="#333" stroke-width="0.6"/>
<text x="188.30" y="230.60" font-family='"Liberation Sans", sans-serif' font-size="4.6" font-weight="normal" text-anchor="middle" fill="#333">***</text>
<circle cx="208.60" cy="310.40" r="0.75" fill="#9a9a9a"/>
<circle cx="208.60" cy="319.50" r="0.75" fill="#9a9a9a"/>
<line x1="208.60" y1="317.00" x2="208.60" y2="321.00" stroke="#c4c4c4" stroke-width="0.85"/>
<line x1="208.60" y1="321.90" x2="208.60" y2="321.70" stroke="#c4c4c4" stroke-width="0.85"/>
<rect x="206.00" y="321.00" width="5.20" height="0.90" fill="#fff" stroke="#c4c4c4" stroke-width="0.85"/>
<line x1="206.00" y1="321.50" x2="211.20" y2="321.50" stroke="#c4c4c4" stroke-width="0.85"/>
<line x1="201.80" y1="321.70" x2="201.80" y2="321.00" stroke="#e8242a" stroke-width="0.95"/>
<line x1="201.80" y1="321.90" x2="201.80" y2="321.70" stroke="#e8242a" stroke-width="0.95"/>
<rect x="199.20" y="321.00" width="5.20" height="0.90" fill="#fff" stroke="#e8242a" stroke-width="0.95"/>
<line x1="199.20" y1="321.50" x2="204.40" y2="321.50" stroke="#e8242a" stroke-width="0.95"/>
<line x1="205.20" y1="326.00" x2="205.20" y2="327.60" stroke="#333" stroke-width="0.6"/>
<line x1="225.50" y1="253.40" x2="225.50" y2="280.30" stroke="#c4c4c4" stroke-width="0.85"/>
<line x1="225.50" y1="297.50" x2="225.50" y2="321.70" stroke="#c4c4c4" stroke-width="0.85"/>
<rect x="222.90" y="280.30" width="5.20" height="17.20" fill="#fff" stroke="#c4c4c4" stroke-width="0.85"/>
<line x1="222.90" y1="288.00" x2="228.10" y2="288.00" stroke="#c4c4c4" stroke-width="0.85"/>
<circle cx="218.70" cy="253.90" r="1.0" fill="#e8242a"/>
<line x1="218.70" y1="263.40" x2="218.70" y2="287.60" stroke="#e8242a" stroke-width="0.95"/>
<line x1="218.70" y1="307.50" x2="218.70" y2="321.70" stroke="#e8242a" stroke-width="0.95"/>
<rect x="216.10" y="287.60" width="5.20" height="19.90" fill="#fff" stroke="#e8242a" stroke-width="0.95"/>
<line x1="216.10" y1="295.80" x2="221.30" y2="295.80" stroke="#e8242a" stroke-width="0.95"/>
<line x1="222.10" y1="326.00" x2="222.10" y2="327.60" stroke="#333" stroke-width="0.6"/>
<text x="222.10" y="230.60" font-family='"Liberation Sans", sans-serif' font-size="4.6" font-weight="normal" text-anchor="middle" fill="#333">***</text>
<circle cx="242.40" cy="279.20" r="0.75" fill="#9a9a9a"/>
<circle cx="242.40" cy="284.40" r="0.75" fill="#9a9a9a"/>
<circle cx="242.40" cy="292.40" r="0.75" fill="#9a9a9a"/>
<circle cx="242.40" cy="293.60" r="0.75" fill="#9a9a9a"/>
<line x1="242.40" y1="302.00" x2="242.40" y2="314.40" stroke="#c4c4c4" stroke-width="0.85"/>
<line x1="242.40" y1="321.70" x2="242.40" y2="321.70" stroke="#c4c4c4" stroke-width="0.85"/>
<rect x="239.80" y="314.40" width="5.20" height="7.30" fill="#fff" stroke="#c4c4c4" stroke-width="0.85"/>
<line x1="239.80" y1="318.30" x2="245.00" y2="318.30" stroke="#c4c4c4" stroke-width="0.85"/>
<circle cx="235.60" cy="271.20" r="1.0" fill="#e8242a"/>
<circle cx="235.60" cy="275.60" r="1.0" fill="#e8242a"/>
<line x1="235.60" y1="287.30" x2="235.60" y2="304.40" stroke="#e8242a" stroke-width="0.95"/>
<line x1="235.60" y1="321.20" x2="235.60" y2="321.70" stroke="#e8242a" stroke-width="0.95"/>
<rect x="233.00" y="304.40" width="5.20" height="16.80" fill="#fff" stroke="#e8242a" stroke-width="0.95"/>
<line x1="233.00" y1="313.20" x2="238.20" y2="313.20" stroke="#e8242a" stroke-width="0.95"/>
<line x1="239.00" y1="326.00" x2="239.00" y2="327.60" stroke="#333" stroke-width="0.6"/>
<text x="239.00" y="230.60" font-family='"Liberation Sans", sans-serif' font-size="4.6" font-weight="normal" text-anchor="middle" fill="#333">***</text>
<circle cx="259.30" cy="307.80" r="0.75" fill="#9a9a9a"/>
<circle cx="259.30" cy="309.20" r="0.75" fill="#9a9a9a"/>
<circle cx="259.30" cy="311.40" r="0.75" fill="#9a9a9a"/>
<line x1="259.30" y1="306.30" x2="259.30" y2="318.00" stroke="#c4c4c4" stroke-width="0.85"/>
<line x1="259.30" y1="321.70" x2="259.30" y2="321.70" stroke="#c4c4c4" stroke-width="0.85"/>
<rect x="256.70" y="318.00" width="5.20" height="3.70" fill="#fff" stroke="#c4c4c4" stroke-width="0.85"/>
<line x1="256.70" y1="320.20" x2="261.90" y2="320.20" stroke="#c4c4c4" stroke-width="0.85"/>
<line x1="252.50" y1="304.40" x2="252.50" y2="314.40" stroke="#e8242a" stroke-width="0.95"/>
<line x1="252.50" y1="321.20" x2="252.50" y2="321.70" stroke="#e8242a" stroke-width="0.95"/>
<rect x="249.90" y="314.40" width="5.20" height="6.80" fill="#fff" stroke="#e8242a" stroke-width="0.95"/>
<line x1="249.90" y1="317.30" x2="255.10" y2="317.30" stroke="#e8242a" stroke-width="0.95"/>
<line x1="255.90" y1="326.00" x2="255.90" y2="327.60" stroke="#333" stroke-width="0.6"/>
<text x="255.90" y="230.60" font-family='"Liberation Sans", sans-serif' font-size="4.6" font-weight="normal" text-anchor="middle" fill="#333">***</text>
<line x1="276.20" y1="302.70" x2="276.20" y2="310.70" stroke="#c4c4c4" stroke-width="0.85"/>
<line x1="276.20" y1="318.30" x2="276.20" y2="321.70" stroke="#c4c4c4" stroke-width="0.85"/>
<rect x="273.60" y="310.70" width="5.20" height="7.60" fill="#fff" stroke="#c4c4c4" stroke-width="0.85"/>
<line x1="273.60" y1="314.40" x2="278.80" y2="314.40" stroke="#c4c4c4" stroke-width="0.85"/>
<line x1="269.40" y1="305.10" x2="269.40" y2="312.50" stroke="#e8242a" stroke-width="0.95"/>
<line x1="269.40" y1="319.80" x2="269.40" y2="321.70" stroke="#e8242a" stroke-width="0.95"/>
<rect x="266.80" y="312.50" width="5.20" height="7.30" fill="#fff" stroke="#e8242a" stroke-width="0.95"/>
<line x1="266.80" y1="315.40" x2="272.00" y2="315.40" stroke="#e8242a" stroke-width="0.95"/>
<line x1="272.80" y1="326.00" x2="272.80" y2="327.60" stroke="#333" stroke-width="0.6"/>
<line x1="293.10" y1="317.30" x2="293.10" y2="321.00" stroke="#c4c4c4" stroke-width="0.85"/>
<line x1="293.10" y1="321.90" x2="293.10" y2="321.70" stroke="#c4c4c4" stroke-width="0.85"/>
<rect x="290.50" y="321.00" width="5.20" height="0.90" fill="#fff" stroke="#c4c4c4" stroke-width="0.85"/>
<line x1="290.50" y1="321.50" x2="295.70" y2="321.50" stroke="#c4c4c4" stroke-width="0.85"/>
<circle cx="286.30" cy="303.10" r="1.0" fill="#e8242a"/>
<circle cx="286.30" cy="316.50" r="1.0" fill="#e8242a"/>
<circle cx="286.30" cy="320.20" r="1.0" fill="#e8242a"/>
<line x1="286.30" y1="321.70" x2="286.30" y2="321.00" stroke="#e8242a" stroke-width="0.95"/>
<line x1="286.30" y1="321.90" x2="286.30" y2="321.70" stroke="#e8242a" stroke-width="0.95"/>
<rect x="283.70" y="321.00" width="5.20" height="0.90" fill="#fff" stroke="#e8242a" stroke-width="0.95"/>
<line x1="283.70" y1="321.50" x2="288.90" y2="321.50" stroke="#e8242a" stroke-width="0.95"/>
<line x1="289.70" y1="326.00" x2="289.70" y2="327.60" stroke="#333" stroke-width="0.6"/>
<circle cx="310.00" cy="311.40" r="0.75" fill="#9a9a9a"/>
<circle cx="310.00" cy="313.00" r="0.75" fill="#9a9a9a"/>
<circle cx="310.00" cy="314.40" r="0.75" fill="#9a9a9a"/>
<circle cx="310.00" cy="316.00" r="0.75" fill="#9a9a9a"/>
<circle cx="310.00" cy="317.30" r="0.75" fill="#9a9a9a"/>
<line x1="310.00" y1="310.70" x2="310.00" y2="320.20" stroke="#c4c4c4" stroke-width="0.85"/>
<line x1="310.00" y1="321.70" x2="310.00" y2="321.70" stroke="#c4c4c4" stroke-width="0.85"/>
<rect x="307.40" y="320.20" width="5.20" height="1.50" fill="#fff" stroke="#c4c4c4" stroke-width="0.85"/>
<line x1="307.40" y1="321.20" x2="312.60" y2="321.20" stroke="#c4c4c4" stroke-width="0.85"/>
<circle cx="303.20" cy="309.90" r="1.0" fill="#e8242a"/>
<circle cx="303.20" cy="311.00" r="1.0" fill="#e8242a"/>
<circle cx="303.20" cy="312.20" r="1.0" fill="#e8242a"/>
<circle cx="303.20" cy="313.60" r="1.0" fill="#e8242a"/>
<line x1="303.20" y1="309.20" x2="303.20" y2="319.20" stroke="#e8242a" stroke-width="0.95"/>
<line x1="303.20" y1="321.70" x2="303.20" y2="321.70" stroke="#e8242a" stroke-width="0.95"/>
<rect x="300.60" y="319.20" width="5.20" height="2.50" fill="#fff" stroke="#e8242a" stroke-width="0.95"/>
<line x1="300.60" y1="321.00" x2="305.80" y2="321.00" stroke="#e8242a" stroke-width="0.95"/>
<line x1="306.60" y1="326.00" x2="306.60" y2="327.60" stroke="#333" stroke-width="0.6"/>
<circle cx="326.90" cy="298.30" r="0.75" fill="#9a9a9a"/>
<circle cx="326.90" cy="306.30" r="0.75" fill="#9a9a9a"/>
<circle cx="326.90" cy="307.80" r="0.75" fill="#9a9a9a"/>
<circle cx="326.90" cy="309.20" r="0.75" fill="#9a9a9a"/>
<line x1="326.90" y1="315.60" x2="326.90" y2="318.00" stroke="#c4c4c4" stroke-width="0.85"/>
<line x1="326.90" y1="321.70" x2="326.90" y2="321.70" stroke="#c4c4c4" stroke-width="0.85"/>
<rect x="324.30" y="318.00" width="5.20" height="3.70" fill="#fff" stroke="#c4c4c4" stroke-width="0.85"/>
<line x1="324.30" y1="320.80" x2="329.50" y2="320.80" stroke="#c4c4c4" stroke-width="0.85"/>
<circle cx="320.10" cy="300.50" r="1.0" fill="#e8242a"/>
<circle cx="320.10" cy="305.60" r="1.0" fill="#e8242a"/>
<circle cx="320.10" cy="310.00" r="1.0" fill="#e8242a"/>
<line x1="320.10" y1="313.00" x2="320.10" y2="317.30" stroke="#e8242a" stroke-width="0.95"/>
<line x1="320.10" y1="321.70" x2="320.10" y2="321.70" stroke="#e8242a" stroke-width="0.95"/>
<rect x="317.50" y="317.30" width="5.20" height="4.40" fill="#fff" stroke="#e8242a" stroke-width="0.95"/>
<line x1="317.50" y1="320.50" x2="322.70" y2="320.50" stroke="#e8242a" stroke-width="0.95"/>
<line x1="323.50" y1="326.00" x2="323.50" y2="327.60" stroke="#333" stroke-width="0.6"/>
<circle cx="343.80" cy="313.60" r="0.75" fill="#9a9a9a"/>
<circle cx="343.80" cy="316.50" r="0.75" fill="#9a9a9a"/>
<line x1="343.80" y1="318.00" x2="343.80" y2="320.20" stroke="#c4c4c4" stroke-width="0.85"/>
<line x1="343.80" y1="321.70" x2="343.80" y2="321.70" stroke="#c4c4c4" stroke-width="0.85"/>
<rect x="341.20" y="320.20" width="5.20" height="1.50" fill="#fff" stroke="#c4c4c4" stroke-width="0.85"/>
<line x1="341.20" y1="321.20" x2="346.40" y2="321.20" stroke="#c4c4c4" stroke-width="0.85"/>
<circle cx="337.00" cy="312.50" r="1.0" fill="#e8242a"/>
<circle cx="337.00" cy="317.30" r="1.0" fill="#e8242a"/>
<line x1="337.00" y1="319.00" x2="337.00" y2="320.60" stroke="#e8242a" stroke-width="0.95"/>
<line x1="337.00" y1="321.70" x2="337.00" y2="321.70" stroke="#e8242a" stroke-width="0.95"/>
<rect x="334.40" y="320.60" width="5.20" height="1.10" fill="#fff" stroke="#e8242a" stroke-width="0.95"/>
<line x1="334.40" y1="321.30" x2="339.60" y2="321.30" stroke="#e8242a" stroke-width="0.95"/>
<line x1="340.40" y1="326.00" x2="340.40" y2="327.60" stroke="#333" stroke-width="0.6"/>
<circle cx="360.70" cy="237.30" r="0.75" fill="#9a9a9a"/>
<circle cx="360.70" cy="241.90" r="0.75" fill="#9a9a9a"/>
<circle cx="360.70" cy="253.60" r="0.75" fill="#9a9a9a"/>
<circle cx="360.70" cy="261.00" r="0.75" fill="#9a9a9a"/>
<circle cx="360.70" cy="265.30" r="0.75" fill="#9a9a9a"/>
<circle cx="360.70" cy="269.70" r="0.75" fill="#9a9a9a"/>
<circle cx="360.70" cy="272.70" r="0.75" fill="#9a9a9a"/>
<circle cx="360.70" cy="274.90" r="0.75" fill="#9a9a9a"/>
<circle cx="360.70" cy="276.30" r="0.75" fill="#9a9a9a"/>
<line x1="360.70" y1="278.50" x2="360.70" y2="301.90" stroke="#c4c4c4" stroke-width="0.85"/>
<line x1="360.70" y1="317.30" x2="360.70" y2="321.70" stroke="#c4c4c4" stroke-width="0.85"/>
<rect x="358.10" y="301.90" width="5.20" height="15.40" fill="#fff" stroke="#c4c4c4" stroke-width="0.85"/>
<line x1="358.10" y1="311.40" x2="363.30" y2="311.40" stroke="#c4c4c4" stroke-width="0.85"/>
<circle cx="353.90" cy="230.50" r="1.0" fill="#e8242a"/>
<circle cx="353.90" cy="250.00" r="1.0" fill="#e8242a"/>
<circle cx="353.90" cy="252.90" r="1.0" fill="#e8242a"/>
<circle cx="353.90" cy="257.30" r="1.0" fill="#e8242a"/>
<line x1="353.90" y1="259.50" x2="353.90" y2="292.40" stroke="#e8242a" stroke-width="0.95"/>
<line x1="353.90" y1="315.80" x2="353.90" y2="321.70" stroke="#e8242a" stroke-width="0.95"/>
<rect x="351.30" y="292.40" width="5.20" height="23.40" fill="#fff" stroke="#e8242a" stroke-width="0.95"/>
<line x1="351.30" y1="305.10" x2="356.50" y2="305.10" stroke="#e8242a" stroke-width="0.95"/>
<line x1="357.30" y1="326.00" x2="357.30" y2="327.60" stroke="#333" stroke-width="0.6"/>
<text x="357.30" y="230.60" font-family='"Liberation Sans", sans-serif' font-size="4.6" font-weight="normal" text-anchor="middle" fill="#333">**</text>
<circle cx="377.60" cy="293.10" r="0.75" fill="#9a9a9a"/>
<line x1="377.60" y1="299.00" x2="377.60" y2="310.40" stroke="#c4c4c4" stroke-width="0.85"/>
<line x1="377.60" y1="319.20" x2="377.60" y2="321.70" stroke="#c4c4c4" stroke-width="0.85"/>
<rect x="375.00" y="310.40" width="5.20" height="8.80" fill="#fff" stroke="#c4c4c4" stroke-width="0.85"/>
<line x1="375.00" y1="314.40" x2="380.20" y2="314.40" stroke="#c4c4c4" stroke-width="0.85"/>
<circle cx="370.80" cy="288.30" r="1.0" fill="#e8242a"/>
<circle cx="370.80" cy="293.60" r="1.0" fill="#e8242a"/>
<line x1="370.80" y1="296.10" x2="370.80" y2="306.60" stroke="#e8242a" stroke-width="0.95"/>
<line x1="370.80" y1="314.40" x2="370.80" y2="321.70" stroke="#e8242a" stroke-width="0.95"/>
<rect x="368.20" y="306.60" width="5.20" height="7.80" fill="#fff" stroke="#e8242a" stroke-width="0.95"/>
<line x1="368.20" y1="311.40" x2="373.40" y2="311.40" stroke="#e8242a" stroke-width="0.95"/>
<line x1="374.20" y1="326.00" x2="374.20" y2="327.60" stroke="#333" stroke-width="0.6"/>
<text x="374.20" y="230.60" font-family='"Liberation Sans", sans-serif' font-size="4.6" font-weight="normal" text-anchor="middle" fill="#333">***</text>
<circle cx="394.50" cy="270.50" r="0.75" fill="#9a9a9a"/>
<circle cx="394.50" cy="277.80" r="0.75" fill="#9a9a9a"/>
<circle cx="394.50" cy="279.20" r="0.75" fill="#9a9a9a"/>
<line x1="394.50" y1="280.70" x2="394.50" y2="300.20" stroke="#c4c4c4" stroke-width="0.85"/>
<line x1="394.50" y1="313.30" x2="394.50" y2="321.70" stroke="#c4c4c4" stroke-width="0.85"/>
<rect x="391.90" y="300.20" width="5.20" height="13.10" fill="#fff" stroke="#c4c4c4" stroke-width="0.85"/>
<line x1="391.90" y1="305.10" x2="397.10" y2="305.10" stroke="#c4c4c4" stroke-width="0.85"/>
<circle cx="387.70" cy="284.40" r="1.0" fill="#e8242a"/>
<circle cx="387.70" cy="285.80" r="1.0" fill="#e8242a"/>
<circle cx="387.70" cy="287.30" r="1.0" fill="#e8242a"/>
<circle cx="387.70" cy="288.60" r="1.0" fill="#e8242a"/>
<line x1="387.70" y1="290.20" x2="387.70" y2="303.40" stroke="#e8242a" stroke-width="0.95"/>
<line x1="387.70" y1="312.50" x2="387.70" y2="321.70" stroke="#e8242a" stroke-width="0.95"/>
<rect x="385.10" y="303.40" width="5.20" height="9.10" fill="#fff" stroke="#e8242a" stroke-width="0.95"/>
<line x1="385.10" y1="307.50" x2="390.30" y2="307.50" stroke="#e8242a" stroke-width="0.95"/>
<line x1="391.10" y1="326.00" x2="391.10" y2="327.60" stroke="#333" stroke-width="0.6"/>
<circle cx="411.40" cy="296.20" r="0.75" fill="#9a9a9a"/>
<circle cx="411.40" cy="299.00" r="0.75" fill="#9a9a9a"/>
<circle cx="411.40" cy="301.80" r="0.75" fill="#9a9a9a"/>
<circle cx="411.40" cy="304.60" r="0.75" fill="#9a9a9a"/>
<circle cx="411.40" cy="307.40" r="0.75" fill="#9a9a9a"/>
<line x1="411.40" y1="310.00" x2="411.40" y2="318.10" stroke="#c4c4c4" stroke-width="0.85"/>
<line x1="411.40" y1="321.70" x2="411.40" y2="321.70" stroke="#c4c4c4" stroke-width="0.85"/>
<rect x="408.80" y="318.10" width="5.20" height="3.60" fill="#fff" stroke="#c4c4c4" stroke-width="0.85"/>
<line x1="408.80" y1="320.50" x2="414.00" y2="320.50" stroke="#c4c4c4" stroke-width="0.85"/>
<circle cx="404.60" cy="305.80" r="1.0" fill="#e8242a"/>
<circle cx="404.60" cy="307.50" r="1.0" fill="#e8242a"/>
<circle cx="404.60" cy="309.20" r="1.0" fill="#e8242a"/>
<circle cx="404.60" cy="310.50" r="1.0" fill="#e8242a"/>
<line x1="404.60" y1="312.80" x2="404.60" y2="319.30" stroke="#e8242a" stroke-width="0.95"/>
<line x1="404.60" y1="321.70" x2="404.60" y2="321.70" stroke="#e8242a" stroke-width="0.95"/>
<rect x="402.00" y="319.30" width="5.20" height="2.40" fill="#fff" stroke="#e8242a" stroke-width="0.95"/>
<line x1="402.00" y1="321.00" x2="407.20" y2="321.00" stroke="#e8242a" stroke-width="0.95"/>
<line x1="408.00" y1="326.00" x2="408.00" y2="327.60" stroke="#333" stroke-width="0.6"/>
<circle cx="428.30" cy="299.70" r="0.75" fill="#9a9a9a"/>
<circle cx="428.30" cy="305.80" r="0.75" fill="#9a9a9a"/>
<circle cx="428.30" cy="308.50" r="0.75" fill="#9a9a9a"/>
<circle cx="428.30" cy="311.20" r="0.75" fill="#9a9a9a"/>
<line x1="428.30" y1="314.00" x2="428.30" y2="319.90" stroke="#c4c4c4" stroke-width="0.85"/>
<line x1="428.30" y1="321.70" x2="428.30" y2="321.70" stroke="#c4c4c4" stroke-width="0.85"/>
<rect x="425.70" y="319.90" width="5.20" height="1.80" fill="#fff" stroke="#c4c4c4" stroke-width="0.85"/>
<line x1="425.70" y1="321.00" x2="430.90" y2="321.00" stroke="#c4c4c4" stroke-width="0.85"/>
<circle cx="421.50" cy="294.50" r="1.0" fill="#e8242a"/>
<circle cx="421.50" cy="304.40" r="1.0" fill="#e8242a"/>
<circle cx="421.50" cy="309.30" r="1.0" fill="#e8242a"/>
<circle cx="421.50" cy="311.30" r="1.0" fill="#e8242a"/>
<circle cx="421.50" cy="313.30" r="1.0" fill="#e8242a"/>
<circle cx="421.50" cy="315.20" r="1.0" fill="#e8242a"/>
<line x1="421.50" y1="316.00" x2="421.50" y2="320.40" stroke="#e8242a" stroke-width="0.95"/>
<line x1="421.50" y1="321.70" x2="421.50" y2="321.70" stroke="#e8242a" stroke-width="0.95"/>
<rect x="418.90" y="320.40" width="5.20" height="1.30" fill="#fff" stroke="#e8242a" stroke-width="0.95"/>
<line x1="418.90" y1="321.20" x2="424.10" y2="321.20" stroke="#e8242a" stroke-width="0.95"/>
<line x1="424.90" y1="326.00" x2="424.90" y2="327.60" stroke="#333" stroke-width="0.6"/>
<circle cx="445.20" cy="290.00" r="0.75" fill="#9a9a9a"/>
<circle cx="445.20" cy="292.50" r="0.75" fill="#9a9a9a"/>
<circle cx="445.20" cy="295.00" r="0.75" fill="#9a9a9a"/>
<line x1="445.20" y1="297.00" x2="445.20" y2="312.00" stroke="#c4c4c4" stroke-width="0.85"/>
<line x1="445.20" y1="321.70" x2="445.20" y2="321.70" stroke="#c4c4c4" stroke-width="0.85"/>
<rect x="442.60" y="312.00" width="5.20" height="9.70" fill="#fff" stroke="#c4c4c4" stroke-width="0.85"/>
<line x1="442.60" y1="318.10" x2="447.80" y2="318.10" stroke="#c4c4c4" stroke-width="0.85"/>
<circle cx="438.40" cy="298.00" r="1.0" fill="#e8242a"/>
<circle cx="438.40" cy="303.60" r="1.0" fill="#e8242a"/>
<line x1="438.40" y1="305.80" x2="438.40" y2="316.00" stroke="#e8242a" stroke-width="0.95"/>
<line x1="438.40" y1="321.70" x2="438.40" y2="321.70" stroke="#e8242a" stroke-width="0.95"/>
<rect x="435.80" y="316.00" width="5.20" height="5.70" fill="#fff" stroke="#e8242a" stroke-width="0.95"/>
<line x1="435.80" y1="319.90" x2="441.00" y2="319.90" stroke="#e8242a" stroke-width="0.95"/>
<line x1="441.80" y1="326.00" x2="441.80" y2="327.60" stroke="#333" stroke-width="0.6"/>
<text x="441.80" y="230.60" font-family='"Liberation Sans", sans-serif' font-size="4.6" font-weight="normal" text-anchor="middle" fill="#333">**</text>
<circle cx="462.10" cy="282.20" r="0.75" fill="#9a9a9a"/>
<circle cx="462.10" cy="284.00" r="0.75" fill="#9a9a9a"/>
<circle cx="462.10" cy="290.00" r="0.75" fill="#9a9a9a"/>
<circle cx="462.10" cy="292.50" r="0.75" fill="#9a9a9a"/>
<circle cx="462.10" cy="295.00" r="0.75" fill="#9a9a9a"/>
<circle cx="462.10" cy="297.50" r="0.75" fill="#9a9a9a"/>
<circle cx="462.10" cy="300.00" r="0.75" fill="#9a9a9a"/>
<circle cx="462.10" cy="302.50" r="0.75" fill="#9a9a9a"/>
<circle cx="462.10" cy="305.00" r="0.75" fill="#9a9a9a"/>
<circle cx="462.10" cy="307.50" r="0.75" fill="#9a9a9a"/>
<circle cx="462.10" cy="310.00" r="0.75" fill="#9a9a9a"/>
<circle cx="462.10" cy="312.50" r="0.75" fill="#9a9a9a"/>
<line x1="462.10" y1="314.00" x2="462.10" y2="319.00" stroke="#c4c4c4" stroke-width="0.85"/>
<line x1="462.10" y1="321.70" x2="462.10" y2="321.70" stroke="#c4c4c4" stroke-width="0.85"/>
<rect x="459.50" y="319.00" width="5.20" height="2.70" fill="#fff" stroke="#c4c4c4" stroke-width="0.85"/>
<line x1="459.50" y1="320.80" x2="464.70" y2="320.80" stroke="#c4c4c4" stroke-width="0.85"/>
<circle cx="455.30" cy="277.80" r="1.0" fill="#e8242a"/>
<circle cx="455.30" cy="289.20" r="1.0" fill="#e8242a"/>
<circle cx="455.30" cy="293.20" r="1.0" fill="#e8242a"/>
<circle cx="455.30" cy="297.00" r="1.0" fill="#e8242a"/>
<circle cx="455.30" cy="299.00" r="1.0" fill="#e8242a"/>
<circle cx="455.30" cy="301.00" r="1.0" fill="#e8242a"/>
<circle cx="455.30" cy="303.00" r="1.0" fill="#e8242a"/>
<circle cx="455.30" cy="305.00" r="1.0" fill="#e8242a"/>
<circle cx="455.30" cy="307.00" r="1.0" fill="#e8242a"/>
<line x1="455.30" y1="308.50" x2="455.30" y2="316.40" stroke="#e8242a" stroke-width="0.95"/>
<line x1="455.30" y1="321.70" x2="455.30" y2="321.70" stroke="#e8242a" stroke-width="0.95"/>
<rect x="452.70" y="316.40" width="5.20" height="5.30" fill="#fff" stroke="#e8242a" stroke-width="0.95"/>
<line x1="452.70" y1="320.00" x2="457.90" y2="320.00" stroke="#e8242a" stroke-width="0.95"/>
<line x1="458.70" y1="326.00" x2="458.70" y2="327.60" stroke="#333" stroke-width="0.6"/>
<circle cx="479.00" cy="308.50" r="0.75" fill="#9a9a9a"/>
<circle cx="479.00" cy="310.80" r="0.75" fill="#9a9a9a"/>
<circle cx="479.00" cy="313.30" r="0.75" fill="#9a9a9a"/>
<circle cx="479.00" cy="315.70" r="0.75" fill="#9a9a9a"/>
<circle cx="479.00" cy="318.00" r="0.75" fill="#9a9a9a"/>
<line x1="479.00" y1="321.70" x2="479.00" y2="321.00" stroke="#c4c4c4" stroke-width="0.85"/>
<line x1="479.00" y1="321.90" x2="479.00" y2="321.70" stroke="#c4c4c4" stroke-width="0.85"/>
<rect x="476.40" y="321.00" width="5.20" height="0.90" fill="#fff" stroke="#c4c4c4" stroke-width="0.85"/>
<line x1="476.40" y1="321.50" x2="481.60" y2="321.50" stroke="#c4c4c4" stroke-width="0.85"/>
<circle cx="472.20" cy="314.50" r="1.0" fill="#e8242a"/>
<circle cx="472.20" cy="316.00" r="1.0" fill="#e8242a"/>
<circle cx="472.20" cy="317.50" r="1.0" fill="#e8242a"/>
<circle cx="472.20" cy="319.00" r="1.0" fill="#e8242a"/>
<line x1="472.20" y1="321.70" x2="472.20" y2="321.00" stroke="#e8242a" stroke-width="0.95"/>
<line x1="472.20" y1="321.90" x2="472.20" y2="321.70" stroke="#e8242a" stroke-width="0.95"/>
<rect x="469.60" y="321.00" width="5.20" height="0.90" fill="#fff" stroke="#e8242a" stroke-width="0.95"/>
<line x1="469.60" y1="321.50" x2="474.80" y2="321.50" stroke="#e8242a" stroke-width="0.95"/>
<line x1="475.60" y1="326.00" x2="475.60" y2="327.60" stroke="#333" stroke-width="0.6"/>
<circle cx="495.90" cy="283.40" r="0.75" fill="#9a9a9a"/>
<circle cx="495.90" cy="287.40" r="0.75" fill="#9a9a9a"/>
<circle cx="495.90" cy="299.20" r="0.75" fill="#9a9a9a"/>
<circle cx="495.90" cy="305.00" r="0.75" fill="#9a9a9a"/>
<circle cx="495.90" cy="307.50" r="0.75" fill="#9a9a9a"/>
<circle cx="495.90" cy="310.00" r="0.75" fill="#9a9a9a"/>
<circle cx="495.90" cy="312.50" r="0.75" fill="#9a9a9a"/>
<circle cx="495.90" cy="315.00" r="0.75" fill="#9a9a9a"/>
<circle cx="495.90" cy="317.50" r="0.75" fill="#9a9a9a"/>
<line x1="495.90" y1="318.00" x2="495.90" y2="320.70" stroke="#c4c4c4" stroke-width="0.85"/>
<line x1="495.90" y1="321.80" x2="495.90" y2="321.70" stroke="#c4c4c4" stroke-width="0.85"/>
<rect x="493.30" y="320.70" width="5.20" height="1.10" fill="#fff" stroke="#c4c4c4" stroke-width="0.85"/>
<line x1="493.30" y1="321.50" x2="498.50" y2="321.50" stroke="#c4c4c4" stroke-width="0.85"/>
<circle cx="489.10" cy="306.40" r="1.0" fill="#e8242a"/>
<circle cx="489.10" cy="311.00" r="1.0" fill="#e8242a"/>
<circle cx="489.10" cy="313.00" r="1.0" fill="#e8242a"/>
<circle cx="489.10" cy="315.00" r="1.0" fill="#e8242a"/>
<circle cx="489.10" cy="317.00" r="1.0" fill="#e8242a"/>
<line x1="489.10" y1="318.00" x2="489.10" y2="320.70" stroke="#e8242a" stroke-width="0.95"/>
<line x1="489.10" y1="321.80" x2="489.10" y2="321.70" stroke="#e8242a" stroke-width="0.95"/>
<rect x="486.50" y="320.70" width="5.20" height="1.10" fill="#fff" stroke="#e8242a" stroke-width="0.95"/>
<line x1="486.50" y1="321.50" x2="491.70" y2="321.50" stroke="#e8242a" stroke-width="0.95"/>
<line x1="492.50" y1="326.00" x2="492.50" y2="327.60" stroke="#333" stroke-width="0.6"/>
<clipPath id="clc"><rect x="0" y="0" width="685" height="362.8"/></clipPath><g clip-path="url(#clc)"><g transform="translate(140.60 329.4) rotate(-45) scale(1 1.22)"><text x="0.00" y="0.00" font-family='"Liberation Sans", sans-serif' font-size="4.1" font-weight="normal" text-anchor="end" fill="#1a1a1a" stroke="#1a1a1a" stroke-width="0.06">B cells naive</text></g><g transform="translate(157.50 329.4) rotate(-45) scale(1 1.22)"><text x="0.00" y="0.00" font-family='"Liberation Sans", sans-serif' font-size="4.1" font-weight="normal" text-anchor="end" fill="#1a1a1a" stroke="#1a1a1a" stroke-width="0.06">B cells memory</text></g><g transform="translate(174.40 329.4) rotate(-45) scale(1 1.22)"><text x="0.00" y="0.00" font-family='"Liberation Sans", sans-serif' font-size="4.1" font-weight="normal" text-anchor="end" fill="#1a1a1a" stroke="#1a1a1a" stroke-width="0.06">Plasma cells</text></g><g transform="translate(191.30 329.4) rotate(-45) scale(1 1.22)"><text x="0.00" y="0.00" font-family='"Liberation Sans", sans-serif' font-size="4.1" font-weight="normal" text-anchor="end" fill="#1a1a1a" stroke="#1a1a1a" stroke-width="0.06">T cells CD8</text></g><g transform="translate(208.20 329.4) rotate(-45) scale(1 1.22)"><text x="0.00" y="0.00" font-family='"Liberation Sans", sans-serif' font-size="4.1" font-weight="normal" text-anchor="end" fill="#1a1a1a" stroke="#1a1a1a" stroke-width="0.06">T cells CD4 naive</text></g><g transform="translate(225.10 329.4) rotate(-45) scale(1 1.22)"><text x="0.00" y="0.00" font-family='"Liberation Sans", sans-serif' font-size="4.1" font-weight="normal" text-anchor="end" fill="#1a1a1a" stroke="#1a1a1a" stroke-width="0.06">T cells CD4 memory resting</text></g><g transform="translate(242.00 329.4) rotate(-45) scale(1 1.22)"><text x="0.00" y="0.00" font-family='"Liberation Sans", sans-serif' font-size="4.1" font-weight="normal" text-anchor="end" fill="#1a1a1a" stroke="#1a1a1a" stroke-width="0.06">T cells CD4 memory activated</text></g><g transform="translate(258.90 329.4) rotate(-45) scale(1 1.22)"><text x="0.00" y="0.00" font-family='"Liberation Sans", sans-serif' font-size="4.1" font-weight="normal" text-anchor="end" fill="#1a1a1a" stroke="#1a1a1a" stroke-width="0.06">T cells follicular helper</text></g><g transform="translate(275.80 329.4) rotate(-45) scale(1 1.22)"><text x="0.00" y="0.00" font-family='"Liberation Sans", sans-serif' font-size="4.1" font-weight="normal" text-anchor="end" fill="#1a1a1a" stroke="#1a1a1a" stroke-width="0.06">T cells regulatory (Tregs)</text></g><g transform="translate(292.70 329.4) rotate(-45) scale(1 1.22)"><text x="0.00" y="0.00" font-family='"Liberation Sans", sans-serif' font-size="4.1" font-weight="normal" text-anchor="end" fill="#1a1a1a" stroke="#1a1a1a" stroke-width="0.06">T cells gamma delta</text></g><g transform="translate(309.60 329.4) rotate(-45) scale(1 1.22)"><text x="0.00" y="0.00" font-family='"Liberation Sans", sans-serif' font-size="4.1" font-weight="normal" text-anchor="end" fill="#1a1a1a" stroke="#1a1a1a" stroke-width="0.06">NK cells resting</text></g><g transform="translate(326.50 329.4) rotate(-45) scale(1 1.22)"><text x="0.00" y="0.00" font-family='"Liberation Sans", sans-serif' font-size="4.1" font-weight="normal" text-anchor="end" fill="#1a1a1a" stroke="#1a1a1a" stroke-width="0.06">NK cells activated</text></g><g transform="translate(343.40 329.4) rotate(-45) scale(1 1.22)"><text x="0.00" y="0.00" font-family='"Liberation Sans", sans-serif' font-size="4.1" font-weight="normal" text-anchor="end" fill="#1a1a1a" stroke="#1a1a1a" stroke-width="0.06">Monocytes</text></g><g transform="translate(360.30 329.4) rotate(-45) scale(1 1.22)"><text x="0.00" y="0.00" font-family='"Liberation Sans", sans-serif' font-size="4.1" font-weight="normal" text-anchor="end" fill="#1a1a1a" stroke="#1a1a1a" stroke-width="0.06">Macrophages M0</text></g><g transform="translate(377.20 329.4) rotate(-45) scale(1 1.22)"><text x="0.00" y="0.00" font-family='"Liberation Sans", sans-serif' font-size="4.1" font-weight="normal" text-anchor="end" fill="#1a1a1a" stroke="#1a1a1a" stroke-width="0.06">Macrophages M1</text></g><g transform="translate(394.10 329.4) rotate(-45) scale(1 1.22)"><text x="0.00" y="0.00" font-family='"Liberation Sans", sans-serif' font-size="4.1" font-weight="normal" text-anchor="end" fill="#1a1a1a" stroke="#1a1a1a" stroke-width="0.06">Macrophages M2</text></g><g transform="translate(411.00 329.4) rotate(-45) scale(1 1.22)"><text x="0.00" y="0.00" font-family='"Liberation Sans", sans-serif' font-size="4.1" font-weight="normal" text-anchor="end" fill="#1a1a1a" stroke="#1a1a1a" stroke-width="0.06">Dendritic cells resting</text></g><g transform="translate(427.90 329.4) rotate(-45) scale(1 1.22)"><text x="0.00" y="0.00" font-family='"Liberation Sans", sans-serif' font-size="4.1" font-weight="normal" text-anchor="end" fill="#1a1a1a" stroke="#1a1a1a" stroke-width="0.06">Dendritic cells activated</text></g><g transform="translate(444.80 329.4) rotate(-45) scale(1 1.22)"><text x="0.00" y="0.00" font-family='"Liberation Sans", sans-serif' font-size="4.1" font-weight="normal" text-anchor="end" fill="#1a1a1a" stroke="#1a1a1a" stroke-width="0.06">Mast cells resting</text></g><g transform="translate(461.70 329.4) rotate(-45) scale(1 1.22)"><text x="0.00" y="0.00" font-family='"Liberation Sans", sans-serif' font-size="4.1" font-weight="normal" text-anchor="end" fill="#1a1a1a" stroke="#1a1a1a" stroke-width="0.06">Mast cells activated</text></g><g transform="translate(478.60 329.4) rotate(-45) scale(1 1.22)"><text x="0.00" y="0.00" font-family='"Liberation Sans", sans-serif' font-size="4.1" font-weight="normal" text-anchor="end" fill="#1a1a1a" stroke="#1a1a1a" stroke-width="0.06">Eosinophils</text></g><g transform="translate(495.50 329.4) rotate(-45) scale(1 1.22)"><text x="0.00" y="0.00" font-family='"Liberation Sans", sans-serif' font-size="4.1" font-weight="normal" text-anchor="end" fill="#1a1a1a" stroke="#1a1a1a" stroke-width="0.06">Neutrophils</text></g></g>
<text x="3.50" y="390.80" font-family='"Liberation Serif", serif' font-size="22.5" font-weight="normal" text-anchor="start" fill="#000" stroke="#000" stroke-width="0.5">D</text>
<line x1="102.30" y1="366.60" x2="102.30" y2="472.60" stroke="#1a1a1a" stroke-width="1.3"/>
<line x1="101.70" y1="472.00" x2="224.70" y2="472.00" stroke="#1a1a1a" stroke-width="1.3"/>
<line x1="97.30" y1="367.20" x2="102.30" y2="367.20" stroke="#1a1a1a" stroke-width="1.2"/>
<text x="96.20" y="370.40" font-family='"Liberation Sans", sans-serif' font-size="8.9" font-weight="bold" text-anchor="end" fill="#111">200</text>
<line x1="97.30" y1="393.40" x2="102.30" y2="393.40" stroke="#1a1a1a" stroke-width="1.2"/>
<text x="96.20" y="396.60" font-family='"Liberation Sans", sans-serif' font-size="8.9" font-weight="bold" text-anchor="end" fill="#111">150</text>
<line x1="97.30" y1="419.60" x2="102.30" y2="419.60" stroke="#1a1a1a" stroke-width="1.2"/>
<text x="96.20" y="422.80" font-family='"Liberation Sans", sans-serif' font-size="8.9" font-weight="bold" text-anchor="end" fill="#111">100</text>
<line x1="97.30" y1="445.80" x2="102.30" y2="445.80" stroke="#1a1a1a" stroke-width="1.2"/>
<text x="96.20" y="449.00" font-family='"Liberation Sans", sans-serif' font-size="8.9" font-weight="bold" text-anchor="end" fill="#111">50</text>
<line x1="97.30" y1="472.00" x2="102.30" y2="472.00" stroke="#1a1a1a" stroke-width="1.2"/>
<text x="96.20" y="475.20" font-family='"Liberation Sans", sans-serif' font-size="8.9" font-weight="bold" text-anchor="end" fill="#111">0</text>
<line x1="137.00" y1="472.00" x2="137.00" y2="476.60" stroke="#1a1a1a" stroke-width="1.3"/>
<line x1="189.40" y1="472.00" x2="189.40" y2="476.60" stroke="#1a1a1a" stroke-width="1.3"/>
<polyline points="137.0,386.6 137.0,380.0 189.4,380.0 189.4,447.4" fill="none" stroke="#1a1a1a" stroke-width="1.3"/>
<path d="M152.20 370.65L152.20 376.15M154.58 372.02L149.82 374.77M154.58 374.77L149.82 372.02" stroke="#111" stroke-width="1.25" stroke-linecap="butt"/>
<path d="M159.50 370.65L159.50 376.15M161.88 372.02L157.12 374.77M161.88 374.77L157.12 372.02" stroke="#111" stroke-width="1.25" stroke-linecap="butt"/>
<path d="M166.80 370.65L166.80 376.15M169.18 372.02L164.42 374.77M169.18 374.77L164.42 372.02" stroke="#111" stroke-width="1.25" stroke-linecap="butt"/>
<path d="M174.10 370.65L174.10 376.15M176.48 372.02L171.72 374.77M176.48 374.77L171.72 372.02" stroke="#111" stroke-width="1.25" stroke-linecap="butt"/>
<line x1="137.00" y1="392.70" x2="137.00" y2="463.20" stroke="#fb4848" stroke-width="1.3"/>
<line x1="128.60" y1="392.70" x2="145.40" y2="392.70" stroke="#fb4848" stroke-width="1.4"/>
<rect x="120.60" y="463.60" width="33.40" height="7.40" fill="#f56262" stroke="#fb4848" stroke-width="1.2"/>
<line x1="189.40" y1="454.20" x2="189.40" y2="470.50" stroke="#3ee83e" stroke-width="1.4"/>
<line x1="181.00" y1="454.20" x2="197.80" y2="454.20" stroke="#3ee83e" stroke-width="1.4"/>
<rect x="172.00" y="469.80" width="34.60" height="1.80" fill="#3ee83e"/>
<g transform="translate(57.70 418.80) rotate(-90) scale(0.8 1)"><text x="0.00" y="3.53" font-family='"Liberation Serif", serif' font-size="10.7" font-weight="bold" text-anchor="middle" fill="#111">TMB</text></g>
<text x="130.10" y="490.20" font-family='"Liberation Serif", serif' font-size="10.1" font-weight="normal" text-anchor="middle" fill="#111">CDT1 high</text>
<text x="127.70" y="500.40" font-family='"Liberation Serif", serif' font-size="10.1" font-weight="normal" text-anchor="middle" fill="#111">expression group</text>
<text x="202.20" y="490.20" font-family='"Liberation Serif", serif' font-size="10.1" font-weight="normal" text-anchor="middle" fill="#111">CDT1 low</text>
<text x="202.30" y="500.40" font-family='"Liberation Serif", serif' font-size="10.1" font-weight="normal" text-anchor="middle" fill="#111">expression group</text>
<text x="282.60" y="391.00" font-family='"Liberation Serif", serif' font-size="22.5" font-weight="normal" text-anchor="start" fill="#000" stroke="#000" stroke-width="0.5">E</text>
<line x1="353.80" y1="385.30" x2="353.80" y2="498.30" stroke="#1a1a1a" stroke-width="1.3"/>
<line x1="353.20" y1="475.20" x2="530.60" y2="475.20" stroke="#1a1a1a" stroke-width="1.3"/>
<line x1="348.80" y1="385.86" x2="353.80" y2="385.86" stroke="#1a1a1a" stroke-width="1.2"/>
<text x="347.80" y="388.92" font-family='"Liberation Sans", sans-serif' font-size="8.5" font-weight="bold" text-anchor="end" fill="#111">200</text>
<line x1="348.80" y1="408.22" x2="353.80" y2="408.22" stroke="#1a1a1a" stroke-width="1.2"/>
<text x="347.80" y="411.28" font-family='"Liberation Sans", sans-serif' font-size="8.5" font-weight="bold" text-anchor="end" fill="#111">150</text>
<line x1="348.80" y1="430.58" x2="353.80" y2="430.58" stroke="#1a1a1a" stroke-width="1.2"/>
<text x="347.80" y="433.64" font-family='"Liberation Sans", sans-serif' font-size="8.5" font-weight="bold" text-anchor="end" fill="#111">100</text>
<line x1="348.80" y1="452.94" x2="353.80" y2="452.94" stroke="#1a1a1a" stroke-width="1.2"/>
<text x="347.80" y="456.00" font-family='"Liberation Sans", sans-serif' font-size="8.5" font-weight="bold" text-anchor="end" fill="#111">50</text>
<line x1="348.80" y1="475.30" x2="353.80" y2="475.30" stroke="#1a1a1a" stroke-width="1.2"/>
<text x="347.80" y="478.36" font-family='"Liberation Sans", sans-serif' font-size="8.5" font-weight="bold" text-anchor="end" fill="#111">0</text>
<line x1="348.80" y1="497.66" x2="353.80" y2="497.66" stroke="#1a1a1a" stroke-width="1.2"/>
<text x="347.80" y="500.72" font-family='"Liberation Sans", sans-serif' font-size="8.5" font-weight="bold" text-anchor="end" fill="#111">-50</text>
<line x1="412.50" y1="475.20" x2="412.50" y2="478.80" stroke="#1a1a1a" stroke-width="1.3"/>
<text x="412.50" y="489.40" font-family='"Liberation Sans", sans-serif' font-size="8.2" font-weight="bold" text-anchor="middle" fill="#111">2</text>
<line x1="471.30" y1="475.20" x2="471.30" y2="478.80" stroke="#1a1a1a" stroke-width="1.3"/>
<text x="471.30" y="489.40" font-family='"Liberation Sans", sans-serif' font-size="8.2" font-weight="bold" text-anchor="middle" fill="#111">4</text>
<line x1="530.10" y1="475.20" x2="530.10" y2="478.80" stroke="#1a1a1a" stroke-width="1.3"/>
<text x="530.10" y="489.40" font-family='"Liberation Sans", sans-serif' font-size="8.2" font-weight="bold" text-anchor="middle" fill="#111">6</text>
<g transform="translate(322.60 441.20) rotate(-90) scale(0.85 1)"><text x="0.00" y="3.60" font-family='"Liberation Serif", serif' font-size="10.9" font-weight="bold" text-anchor="middle" fill="#111">TMB</text></g>
<text x="441.40" y="503.00" font-family='"Liberation Serif", serif' font-size="9.4" font-weight="bold" text-anchor="middle" fill="#111">CDT1</text>
<text x="467.70" y="393.60" font-family='"Liberation Serif", serif' font-size="7.0" font-weight="normal" text-anchor="middle" fill="#f0263e">Spearman r=0.3825</text>
<text x="467.2" y="400.9" font-family='"Liberation Serif", serif' font-size="7.0" text-anchor="middle" fill="#f0263e"><tspan font-style="italic">P</tspan>&lt;0.0001</text>
<line x1="377.00" y1="476.70" x2="512.90" y2="466.70" stroke="#f07a7a" stroke-width="0.8"/>
<circle cx="452.13" cy="473.44" r="1.75" fill="#8cb9f0"/>
<circle cx="456.71" cy="474.15" r="1.75" fill="#8cb9f0"/>
<circle cx="460.66" cy="473.10" r="1.75" fill="#8cb9f0"/>
<circle cx="417.26" cy="474.31" r="1.75" fill="#8cb9f0"/>
<circle cx="486.11" cy="474.84" r="1.75" fill="#8cb9f0"/>
<circle cx="461.97" cy="472.78" r="1.75" fill="#8cb9f0"/>
<circle cx="460.96" cy="474.85" r="1.75" fill="#8cb9f0"/>
<circle cx="471.20" cy="474.05" r="1.75" fill="#8cb9f0"/>
<circle cx="380.09" cy="474.87" r="1.75" fill="#8cb9f0"/>
<circle cx="435.91" cy="473.96" r="1.75" fill="#8cb9f0"/>
<circle cx="445.74" cy="472.69" r="1.75" fill="#8cb9f0"/>
<circle cx="413.83" cy="475.00" r="1.75" fill="#8cb9f0"/>
<circle cx="510.12" cy="474.92" r="1.75" fill="#8cb9f0"/>
<circle cx="461.66" cy="473.96" r="1.75" fill="#8cb9f0"/>
<circle cx="385.55" cy="474.94" r="1.75" fill="#8cb9f0"/>
<circle cx="445.87" cy="472.02" r="1.75" fill="#8cb9f0"/>
<circle cx="504.24" cy="473.93" r="1.75" fill="#8cb9f0"/>
<circle cx="468.05" cy="470.69" r="1.75" fill="#8cb9f0"/>
<circle cx="385.93" cy="474.72" r="1.75" fill="#8cb9f0"/>
<circle cx="471.11" cy="473.78" r="1.75" fill="#8cb9f0"/>
<circle cx="421.23" cy="474.12" r="1.75" fill="#8cb9f0"/>
<circle cx="409.51" cy="474.80" r="1.75" fill="#8cb9f0"/>
<circle cx="384.15" cy="474.90" r="1.75" fill="#8cb9f0"/>
<circle cx="454.84" cy="474.04" r="1.75" fill="#8cb9f0"/>
<circle cx="472.64" cy="473.47" r="1.75" fill="#8cb9f0"/>
<circle cx="433.22" cy="473.35" r="1.75" fill="#8cb9f0"/>
<circle cx="412.69" cy="474.05" r="1.75" fill="#8cb9f0"/>
<circle cx="496.34" cy="474.49" r="1.75" fill="#8cb9f0"/>
<circle cx="429.62" cy="474.53" r="1.75" fill="#8cb9f0"/>
<circle cx="510.55" cy="473.22" r="1.75" fill="#8cb9f0"/>
<circle cx="411.13" cy="474.93" r="1.75" fill="#8cb9f0"/>
<circle cx="385.98" cy="474.53" r="1.75" fill="#8cb9f0"/>
<circle cx="455.25" cy="474.91" r="1.75" fill="#8cb9f0"/>
<circle cx="437.64" cy="472.88" r="1.75" fill="#8cb9f0"/>
<circle cx="439.39" cy="474.79" r="1.75" fill="#8cb9f0"/>
<circle cx="473.21" cy="474.17" r="1.75" fill="#8cb9f0"/>
<circle cx="474.89" cy="473.92" r="1.75" fill="#8cb9f0"/>
<circle cx="476.56" cy="474.04" r="1.75" fill="#8cb9f0"/>
<circle cx="462.68" cy="473.43" r="1.75" fill="#8cb9f0"/>
<circle cx="390.12" cy="474.51" r="1.75" fill="#8cb9f0"/>
<circle cx="506.92" cy="474.82" r="1.75" fill="#8cb9f0"/>
<circle cx="488.03" cy="472.56" r="1.75" fill="#8cb9f0"/>
<circle cx="464.32" cy="474.06" r="1.75" fill="#8cb9f0"/>
<circle cx="482.39" cy="474.53" r="1.75" fill="#8cb9f0"/>
<circle cx="486.22" cy="473.27" r="1.75" fill="#8cb9f0"/>
<circle cx="500.76" cy="474.92" r="1.75" fill="#8cb9f0"/>
<circle cx="436.62" cy="474.73" r="1.75" fill="#8cb9f0"/>
<circle cx="399.97" cy="474.53" r="1.75" fill="#8cb9f0"/>
<circle cx="425.25" cy="474.49" r="1.75" fill="#8cb9f0"/>
<circle cx="499.94" cy="474.72" r="1.75" fill="#8cb9f0"/>
<circle cx="457.56" cy="474.56" r="1.75" fill="#8cb9f0"/>
<circle cx="378.43" cy="474.30" r="1.75" fill="#8cb9f0"/>
<circle cx="449.72" cy="472.80" r="1.75" fill="#8cb9f0"/>
<circle cx="475.35" cy="474.70" r="1.75" fill="#8cb9f0"/>
<circle cx="511.91" cy="473.25" r="1.75" fill="#8cb9f0"/>
<circle cx="480.59" cy="472.93" r="1.75" fill="#8cb9f0"/>
<circle cx="446.90" cy="474.07" r="1.75" fill="#8cb9f0"/>
<circle cx="469.18" cy="471.65" r="1.75" fill="#8cb9f0"/>
<circle cx="483.76" cy="473.82" r="1.75" fill="#8cb9f0"/>
<circle cx="486.77" cy="473.46" r="1.75" fill="#8cb9f0"/>
<circle cx="446.51" cy="473.61" r="1.75" fill="#8cb9f0"/>
<circle cx="495.52" cy="473.92" r="1.75" fill="#8cb9f0"/>
<circle cx="493.85" cy="473.27" r="1.75" fill="#8cb9f0"/>
<circle cx="475.97" cy="473.53" r="1.75" fill="#8cb9f0"/>
<circle cx="456.45" cy="472.75" r="1.75" fill="#8cb9f0"/>
<circle cx="457.77" cy="473.69" r="1.75" fill="#8cb9f0"/>
<circle cx="407.31" cy="474.80" r="1.75" fill="#8cb9f0"/>
<circle cx="443.55" cy="473.94" r="1.75" fill="#8cb9f0"/>
<circle cx="416.94" cy="474.80" r="1.75" fill="#8cb9f0"/>
<circle cx="471.94" cy="474.09" r="1.75" fill="#8cb9f0"/>
<circle cx="455.27" cy="473.57" r="1.75" fill="#8cb9f0"/>
<circle cx="452.85" cy="472.95" r="1.75" fill="#8cb9f0"/>
<circle cx="434.60" cy="473.81" r="1.75" fill="#8cb9f0"/>
<circle cx="422.23" cy="474.47" r="1.75" fill="#8cb9f0"/>
<circle cx="394.52" cy="474.53" r="1.75" fill="#8cb9f0"/>
<circle cx="489.85" cy="473.57" r="1.75" fill="#8cb9f0"/>
<circle cx="439.78" cy="474.84" r="1.75" fill="#8cb9f0"/>
<circle cx="413.42" cy="474.68" r="1.75" fill="#8cb9f0"/>
<circle cx="432.30" cy="473.71" r="1.75" fill="#8cb9f0"/>
<circle cx="490.12" cy="473.70" r="1.75" fill="#8cb9f0"/>
<circle cx="459.72" cy="474.82" r="1.75" fill="#8cb9f0"/>
<circle cx="494.70" cy="472.63" r="1.75" fill="#8cb9f0"/>
<circle cx="476.90" cy="474.00" r="1.75" fill="#8cb9f0"/>
<circle cx="394.48" cy="474.11" r="1.75" fill="#8cb9f0"/>
<circle cx="379.36" cy="474.81" r="1.75" fill="#8cb9f0"/>
<circle cx="382.38" cy="474.65" r="1.75" fill="#8cb9f0"/>
<circle cx="438.72" cy="474.27" r="1.75" fill="#8cb9f0"/>
<circle cx="487.58" cy="471.31" r="1.75" fill="#8cb9f0"/>
<circle cx="475.82" cy="473.31" r="1.75" fill="#8cb9f0"/>
<circle cx="377.46" cy="474.16" r="1.75" fill="#8cb9f0"/>
<circle cx="413.04" cy="474.85" r="1.75" fill="#8cb9f0"/>
<circle cx="470.83" cy="472.86" r="1.75" fill="#8cb9f0"/>
<circle cx="464.11" cy="472.83" r="1.75" fill="#8cb9f0"/>
<circle cx="492.18" cy="471.90" r="1.75" fill="#8cb9f0"/>
<circle cx="494.62" cy="473.82" r="1.75" fill="#8cb9f0"/>
<circle cx="485.62" cy="473.72" r="1.75" fill="#8cb9f0"/>
<circle cx="456.53" cy="472.97" r="1.75" fill="#8cb9f0"/>
<circle cx="440.99" cy="472.79" r="1.75" fill="#8cb9f0"/>
<circle cx="474.18" cy="474.49" r="1.75" fill="#8cb9f0"/>
<circle cx="445.97" cy="473.07" r="1.75" fill="#8cb9f0"/>
<circle cx="498.40" cy="470.73" r="1.75" fill="#8cb9f0"/>
<circle cx="460.60" cy="474.65" r="1.75" fill="#8cb9f0"/>
<circle cx="449.30" cy="474.11" r="1.75" fill="#8cb9f0"/>
<circle cx="435.96" cy="473.86" r="1.75" fill="#8cb9f0"/>
<circle cx="470.91" cy="473.20" r="1.75" fill="#8cb9f0"/>
<circle cx="486.04" cy="472.42" r="1.75" fill="#8cb9f0"/>
<circle cx="421.56" cy="474.62" r="1.75" fill="#8cb9f0"/>
<circle cx="475.93" cy="474.31" r="1.75" fill="#8cb9f0"/>
<circle cx="461.04" cy="472.05" r="1.75" fill="#8cb9f0"/>
<circle cx="492.15" cy="474.39" r="1.75" fill="#8cb9f0"/>
<circle cx="481.35" cy="474.43" r="1.75" fill="#8cb9f0"/>
<circle cx="459.12" cy="472.55" r="1.75" fill="#8cb9f0"/>
<circle cx="426.05" cy="474.85" r="1.75" fill="#8cb9f0"/>
<circle cx="459.85" cy="473.58" r="1.75" fill="#8cb9f0"/>
<circle cx="480.19" cy="474.37" r="1.75" fill="#8cb9f0"/>
<circle cx="494.29" cy="474.62" r="1.75" fill="#8cb9f0"/>
<circle cx="476.27" cy="473.15" r="1.75" fill="#8cb9f0"/>
<circle cx="463.88" cy="474.77" r="1.75" fill="#8cb9f0"/>
<circle cx="445.85" cy="474.84" r="1.75" fill="#8cb9f0"/>
<circle cx="444.40" cy="474.30" r="1.75" fill="#8cb9f0"/>
<circle cx="493.05" cy="474.22" r="1.75" fill="#8cb9f0"/>
<circle cx="506.13" cy="473.90" r="1.75" fill="#8cb9f0"/>
<circle cx="393.27" cy="474.80" r="1.75" fill="#8cb9f0"/>
<circle cx="486.94" cy="473.56" r="1.75" fill="#8cb9f0"/>
<circle cx="402.04" cy="474.64" r="1.75" fill="#8cb9f0"/>
<circle cx="478.33" cy="474.63" r="1.75" fill="#8cb9f0"/>
<circle cx="482.31" cy="474.85" r="1.75" fill="#8cb9f0"/>
<circle cx="469.44" cy="474.36" r="1.75" fill="#8cb9f0"/>
<circle cx="486.54" cy="473.00" r="1.75" fill="#8cb9f0"/>
<circle cx="445.42" cy="473.45" r="1.75" fill="#8cb9f0"/>
<circle cx="402.89" cy="474.44" r="1.75" fill="#8cb9f0"/>
<circle cx="432.22" cy="474.68" r="1.75" fill="#8cb9f0"/>
<circle cx="475.99" cy="474.11" r="1.75" fill="#8cb9f0"/>
<circle cx="450.58" cy="473.53" r="1.75" fill="#8cb9f0"/>
<circle cx="434.88" cy="473.01" r="1.75" fill="#8cb9f0"/>
<circle cx="476.74" cy="473.75" r="1.75" fill="#8cb9f0"/>
<circle cx="418.84" cy="473.92" r="1.75" fill="#8cb9f0"/>
<circle cx="483.66" cy="469.51" r="1.75" fill="#8cb9f0"/>
<circle cx="478.84" cy="474.14" r="1.75" fill="#8cb9f0"/>
<circle cx="467.41" cy="474.29" r="1.75" fill="#8cb9f0"/>
<circle cx="433.75" cy="473.69" r="1.75" fill="#8cb9f0"/>
<circle cx="430.78" cy="474.88" r="1.75" fill="#8cb9f0"/>
<circle cx="468.80" cy="474.73" r="1.75" fill="#8cb9f0"/>
<circle cx="478.68" cy="474.85" r="1.75" fill="#8cb9f0"/>
<circle cx="469.33" cy="473.15" r="1.75" fill="#8cb9f0"/>
<circle cx="471.15" cy="474.44" r="1.75" fill="#8cb9f0"/>
<circle cx="381.09" cy="474.39" r="1.75" fill="#8cb9f0"/>
<circle cx="459.56" cy="474.40" r="1.75" fill="#8cb9f0"/>
<circle cx="490.27" cy="474.20" r="1.75" fill="#8cb9f0"/>
<circle cx="476.82" cy="474.69" r="1.75" fill="#8cb9f0"/>
<circle cx="505.40" cy="472.41" r="1.75" fill="#8cb9f0"/>
<circle cx="439.51" cy="474.37" r="1.75" fill="#8cb9f0"/>
<circle cx="441.01" cy="474.10" r="1.75" fill="#8cb9f0"/>
<circle cx="471.34" cy="474.45" r="1.75" fill="#8cb9f0"/>
<circle cx="476.55" cy="474.18" r="1.75" fill="#8cb9f0"/>
<circle cx="402.54" cy="474.67" r="1.75" fill="#8cb9f0"/>
<circle cx="497.47" cy="473.39" r="1.75" fill="#8cb9f0"/>
<circle cx="455.73" cy="472.02" r="1.75" fill="#8cb9f0"/>
<circle cx="443.43" cy="473.80" r="1.75" fill="#8cb9f0"/>
<circle cx="507.53" cy="474.69" r="1.75" fill="#8cb9f0"/>
<circle cx="499.94" cy="474.91" r="1.75" fill="#8cb9f0"/>
<circle cx="429.85" cy="474.05" r="1.75" fill="#8cb9f0"/>
<circle cx="494.18" cy="474.09" r="1.75" fill="#8cb9f0"/>
<circle cx="432.67" cy="472.92" r="1.75" fill="#8cb9f0"/>
<circle cx="422.47" cy="474.52" r="1.75" fill="#8cb9f0"/>
<circle cx="377.44" cy="474.53" r="1.75" fill="#8cb9f0"/>
<circle cx="492.73" cy="474.58" r="1.75" fill="#8cb9f0"/>
<circle cx="465.73" cy="473.25" r="1.75" fill="#8cb9f0"/>
<circle cx="511.98" cy="474.18" r="1.75" fill="#8cb9f0"/>
<circle cx="456.76" cy="472.47" r="1.75" fill="#8cb9f0"/>
<circle cx="498.10" cy="474.69" r="1.75" fill="#8cb9f0"/>
<circle cx="467.07" cy="473.42" r="1.75" fill="#8cb9f0"/>
<circle cx="402.58" cy="474.83" r="1.75" fill="#8cb9f0"/>
<circle cx="499.17" cy="474.50" r="1.75" fill="#8cb9f0"/>
<circle cx="410.57" cy="474.93" r="1.75" fill="#8cb9f0"/>
<circle cx="499.35" cy="474.93" r="1.75" fill="#8cb9f0"/>
<circle cx="494.34" cy="474.03" r="1.75" fill="#8cb9f0"/>
<circle cx="440.16" cy="473.99" r="1.75" fill="#8cb9f0"/>
<circle cx="443.39" cy="474.58" r="1.75" fill="#8cb9f0"/>
<circle cx="463.09" cy="473.32" r="1.75" fill="#8cb9f0"/>
<circle cx="480.86" cy="474.15" r="1.75" fill="#8cb9f0"/>
<circle cx="481.50" cy="473.81" r="1.75" fill="#8cb9f0"/>
<circle cx="461.32" cy="474.93" r="1.75" fill="#8cb9f0"/>
<circle cx="381.82" cy="474.91" r="1.75" fill="#8cb9f0"/>
<circle cx="478.63" cy="472.43" r="1.75" fill="#8cb9f0"/>
<circle cx="497.94" cy="470.54" r="1.75" fill="#8cb9f0"/>
<circle cx="488.43" cy="471.96" r="1.75" fill="#8cb9f0"/>
<circle cx="440.95" cy="473.49" r="1.75" fill="#8cb9f0"/>
<circle cx="403.90" cy="463.80" r="1.75" fill="#8cb9f0"/>
<circle cx="426.30" cy="459.80" r="1.75" fill="#8cb9f0"/>
<circle cx="428.00" cy="462.40" r="1.75" fill="#8cb9f0"/>
<circle cx="426.30" cy="467.70" r="1.75" fill="#8cb9f0"/>
<circle cx="428.40" cy="468.90" r="1.75" fill="#8cb9f0"/>
<circle cx="424.20" cy="471.20" r="1.75" fill="#8cb9f0"/>
<circle cx="443.80" cy="467.70" r="1.75" fill="#8cb9f0"/>
<circle cx="446.40" cy="463.30" r="1.75" fill="#8cb9f0"/>
<circle cx="447.00" cy="468.50" r="1.75" fill="#8cb9f0"/>
<circle cx="449.90" cy="459.80" r="1.75" fill="#8cb9f0"/>
<circle cx="452.60" cy="465.90" r="1.75" fill="#8cb9f0"/>
<circle cx="454.30" cy="466.80" r="1.75" fill="#8cb9f0"/>
<circle cx="455.70" cy="461.50" r="1.75" fill="#8cb9f0"/>
<circle cx="457.80" cy="451.00" r="1.75" fill="#8cb9f0"/>
<circle cx="459.60" cy="463.00" r="1.75" fill="#8cb9f0"/>
<circle cx="461.30" cy="465.00" r="1.75" fill="#8cb9f0"/>
<circle cx="462.70" cy="460.70" r="1.75" fill="#8cb9f0"/>
<circle cx="464.00" cy="458.90" r="1.75" fill="#8cb9f0"/>
<circle cx="464.80" cy="456.30" r="1.75" fill="#8cb9f0"/>
<circle cx="466.60" cy="457.20" r="1.75" fill="#8cb9f0"/>
<circle cx="467.40" cy="451.00" r="1.75" fill="#8cb9f0"/>
<circle cx="465.70" cy="462.40" r="1.75" fill="#8cb9f0"/>
<circle cx="469.20" cy="467.70" r="1.75" fill="#8cb9f0"/>
<circle cx="471.00" cy="466.80" r="1.75" fill="#8cb9f0"/>
<circle cx="471.80" cy="460.70" r="1.75" fill="#8cb9f0"/>
<circle cx="473.60" cy="465.00" r="1.75" fill="#8cb9f0"/>
<circle cx="475.30" cy="464.20" r="1.75" fill="#8cb9f0"/>
<circle cx="477.10" cy="460.70" r="1.75" fill="#8cb9f0"/>
<circle cx="476.70" cy="445.40" r="1.75" fill="#8cb9f0"/>
<circle cx="478.00" cy="468.50" r="1.75" fill="#8cb9f0"/>
<circle cx="480.20" cy="432.10" r="1.75" fill="#8cb9f0"/>
<circle cx="481.50" cy="451.00" r="1.75" fill="#8cb9f0"/>
<circle cx="482.30" cy="460.70" r="1.75" fill="#8cb9f0"/>
<circle cx="483.20" cy="458.90" r="1.75" fill="#8cb9f0"/>
<circle cx="488.50" cy="433.50" r="1.75" fill="#8cb9f0"/>
<circle cx="490.20" cy="456.30" r="1.75" fill="#8cb9f0"/>
<circle cx="488.50" cy="460.70" r="1.75" fill="#8cb9f0"/>
<circle cx="491.10" cy="465.00" r="1.75" fill="#8cb9f0"/>
<circle cx="492.00" cy="464.20" r="1.75" fill="#8cb9f0"/>
<circle cx="494.60" cy="458.00" r="1.75" fill="#8cb9f0"/>
<circle cx="496.00" cy="461.00" r="1.75" fill="#8cb9f0"/>
<circle cx="497.80" cy="461.50" r="1.75" fill="#8cb9f0"/>
<circle cx="499.90" cy="465.90" r="1.75" fill="#8cb9f0"/>
<circle cx="503.40" cy="458.90" r="1.75" fill="#8cb9f0"/>
<circle cx="503.70" cy="462.40" r="1.75" fill="#8cb9f0"/>
<circle cx="505.10" cy="462.40" r="1.75" fill="#8cb9f0"/>
<circle cx="512.10" cy="474.70" r="1.75" fill="#8cb9f0"/>
<circle cx="481.40" cy="408.10" r="1.75" fill="#8cb9f0"/>
<circle cx="485.30" cy="416.00" r="1.75" fill="#8cb9f0"/>
<circle cx="454.60" cy="461.50" r="1.75" fill="#8cb9f0"/>
<circle cx="460.30" cy="462.00" r="1.75" fill="#8cb9f0"/>
<circle cx="456.00" cy="466.50" r="1.75" fill="#8cb9f0"/>
<circle cx="470.00" cy="463.00" r="1.75" fill="#8cb9f0"/>
<circle cx="487.00" cy="462.90" r="1.75" fill="#8cb9f0"/>
<circle cx="479.00" cy="466.00" r="1.75" fill="#8cb9f0"/>
<circle cx="484.00" cy="467.50" r="1.75" fill="#8cb9f0"/>
<circle cx="500.00" cy="468.00" r="1.75" fill="#8cb9f0"/>
<circle cx="507.00" cy="467.00" r="1.75" fill="#8cb9f0"/>
<circle cx="418.00" cy="470.50" r="1.75" fill="#8cb9f0"/>
<circle cx="435.00" cy="469.50" r="1.75" fill="#8cb9f0"/>
<circle cx="440.00" cy="470.20" r="1.75" fill="#8cb9f0"/>
<circle cx="438.00" cy="466.80" r="1.75" fill="#8cb9f0"/>
<circle cx="420.00" cy="469.80" r="1.75" fill="#8cb9f0"/>
<circle cx="431.00" cy="468.50" r="1.75" fill="#8cb9f0"/>
<text x="3.50" y="546.60" font-family='"Liberation Serif", serif' font-size="22.5" font-weight="normal" text-anchor="start" fill="#000" stroke="#000" stroke-width="0.5">F</text>
<rect x="34.90" y="547.30" width="232.90" height="12.75" fill="#d0d0d0"/>
<rect x="34.90" y="547.30" width="1.11" height="12.75" fill="#4daf4a"/>
<rect x="36.01" y="547.30" width="1.11" height="12.75" fill="#ff7f00"/>
<rect x="37.13" y="547.30" width="4.46" height="12.75" fill="#4daf4a"/>
<rect x="42.70" y="547.30" width="1.11" height="12.75" fill="#4daf4a"/>
<rect x="44.93" y="547.30" width="5.57" height="12.75" fill="#4daf4a"/>
<rect x="51.62" y="547.30" width="21.17" height="12.75" fill="#4daf4a"/>
<rect x="73.90" y="547.30" width="15.60" height="12.75" fill="#4daf4a"/>
<rect x="90.62" y="547.30" width="18.94" height="12.75" fill="#4daf4a"/>
<rect x="109.56" y="547.30" width="1.11" height="12.75" fill="#e41a1c"/>
<rect x="110.68" y="547.30" width="8.91" height="12.75" fill="#4daf4a"/>
<rect x="119.59" y="547.30" width="1.11" height="12.75" fill="#984ea3"/>
<rect x="120.71" y="547.30" width="1.11" height="12.75" fill="#4daf4a"/>
<rect x="122.93" y="547.30" width="2.23" height="12.75" fill="#4daf4a"/>
<rect x="126.28" y="547.30" width="8.91" height="12.75" fill="#4daf4a"/>
<rect x="135.19" y="547.30" width="1.11" height="12.75" fill="#e41a1c"/>
<rect x="136.31" y="547.30" width="3.34" height="12.75" fill="#4daf4a"/>
<rect x="140.76" y="547.30" width="1.11" height="12.75" fill="#4daf4a"/>
<rect x="142.99" y="547.30" width="6.69" height="12.75" fill="#4daf4a"/>
<rect x="149.68" y="547.30" width="1.11" height="12.75" fill="#e41a1c"/>
<rect x="151.91" y="547.30" width="25.63" height="12.75" fill="#4daf4a"/>
<rect x="41.59" y="551.32" width="1.11" height="4.72" fill="#4a8cc6"/>
<rect x="43.81" y="551.32" width="1.11" height="4.72" fill="#4a8cc6"/>
<rect x="50.50" y="551.32" width="1.11" height="4.72" fill="#4a8cc6"/>
<rect x="72.79" y="551.32" width="1.11" height="4.72" fill="#4a8cc6"/>
<rect x="89.50" y="551.32" width="1.11" height="4.72" fill="#4a8cc6"/>
<rect x="121.82" y="551.32" width="1.11" height="4.72" fill="#4a8cc6"/>
<rect x="125.16" y="551.32" width="1.11" height="4.72" fill="#4a8cc6"/>
<rect x="139.65" y="551.32" width="1.11" height="4.72" fill="#4a8cc6"/>
<rect x="141.88" y="551.32" width="1.11" height="4.72" fill="#4a8cc6"/>
<rect x="150.79" y="551.32" width="1.11" height="4.72" fill="#4a8cc6"/>
<rect x="34.90" y="560.70" width="232.90" height="12.75" fill="#d0d0d0"/>
<rect x="34.90" y="560.70" width="3.34" height="12.75" fill="#4daf4a"/>
<rect x="38.24" y="560.70" width="1.11" height="12.75" fill="#ff7f00"/>
<rect x="39.36" y="560.70" width="8.91" height="12.75" fill="#4daf4a"/>
<rect x="48.27" y="560.70" width="1.11" height="12.75" fill="#e41a1c"/>
<rect x="49.39" y="560.70" width="2.23" height="12.75" fill="#4daf4a"/>
<rect x="52.73" y="560.70" width="1.11" height="12.75" fill="#ff7f00"/>
<rect x="53.84" y="560.70" width="1.11" height="12.75" fill="#e41a1c"/>
<rect x="54.96" y="560.70" width="2.23" height="12.75" fill="#4daf4a"/>
<rect x="58.30" y="560.70" width="1.11" height="12.75" fill="#4daf4a"/>
<rect x="59.42" y="560.70" width="1.11" height="12.75" fill="#e41a1c"/>
<rect x="60.53" y="560.70" width="2.23" height="12.75" fill="#4daf4a"/>
<rect x="62.76" y="560.70" width="1.11" height="12.75" fill="#e41a1c"/>
<rect x="63.87" y="560.70" width="1.11" height="12.75" fill="#4daf4a"/>
<rect x="66.10" y="560.70" width="1.11" height="12.75" fill="#4daf4a"/>
<rect x="67.22" y="560.70" width="2.23" height="12.75" fill="#e41a1c"/>
<rect x="69.44" y="560.70" width="1.11" height="12.75" fill="#4daf4a"/>
<rect x="71.67" y="560.70" width="2.23" height="12.75" fill="#4daf4a"/>
<rect x="73.90" y="560.70" width="1.11" height="12.75" fill="#e41a1c"/>
<rect x="76.13" y="560.70" width="4.46" height="12.75" fill="#4daf4a"/>
<rect x="81.70" y="560.70" width="1.11" height="12.75" fill="#4daf4a"/>
<rect x="82.82" y="560.70" width="2.23" height="12.75" fill="#e41a1c"/>
<rect x="86.16" y="560.70" width="3.34" height="12.75" fill="#4daf4a"/>
<rect x="89.50" y="560.70" width="1.11" height="12.75" fill="#a65628"/>
<rect x="90.62" y="560.70" width="1.11" height="12.75" fill="#4daf4a"/>
<rect x="91.73" y="560.70" width="1.11" height="12.75" fill="#ff7f00"/>
<rect x="92.85" y="560.70" width="4.46" height="12.75" fill="#4daf4a"/>
<rect x="98.42" y="560.70" width="3.34" height="12.75" fill="#4daf4a"/>
<rect x="177.54" y="560.70" width="1.11" height="12.75" fill="#ff7f00"/>
<rect x="178.65" y="560.70" width="1.11" height="12.75" fill="#4daf4a"/>
<rect x="180.88" y="560.70" width="3.34" height="12.75" fill="#e41a1c"/>
<rect x="184.22" y="560.70" width="1.11" height="12.75" fill="#4daf4a"/>
<rect x="185.34" y="560.70" width="1.11" height="12.75" fill="#e41a1c"/>
<rect x="186.45" y="560.70" width="2.23" height="12.75" fill="#4daf4a"/>
<rect x="189.80" y="560.70" width="1.11" height="12.75" fill="#ff7f00"/>
<rect x="190.91" y="560.70" width="1.11" height="12.75" fill="#e41a1c"/>
<rect x="192.02" y="560.70" width="1.11" height="12.75" fill="#4daf4a"/>
<rect x="194.25" y="560.70" width="2.23" height="12.75" fill="#4daf4a"/>
<rect x="197.60" y="560.70" width="4.46" height="12.75" fill="#4daf4a"/>
<rect x="202.05" y="560.70" width="1.11" height="12.75" fill="#e41a1c"/>
<rect x="203.17" y="560.70" width="1.11" height="12.75" fill="#4daf4a"/>
<rect x="204.28" y="560.70" width="1.11" height="12.75" fill="#ff7f00"/>
<rect x="205.40" y="560.70" width="1.11" height="12.75" fill="#4daf4a"/>
<rect x="206.51" y="560.70" width="1.11" height="12.75" fill="#984ea3"/>
<rect x="207.62" y="560.70" width="12.26" height="12.75" fill="#4daf4a"/>
<rect x="51.62" y="564.72" width="1.11" height="4.72" fill="#4a8cc6"/>
<rect x="57.19" y="564.72" width="1.11" height="4.72" fill="#4a8cc6"/>
<rect x="64.99" y="564.72" width="1.11" height="4.72" fill="#4a8cc6"/>
<rect x="70.56" y="564.72" width="1.11" height="4.72" fill="#4a8cc6"/>
<rect x="75.02" y="564.72" width="1.11" height="4.72" fill="#4a8cc6"/>
<rect x="80.59" y="564.72" width="1.11" height="4.72" fill="#4a8cc6"/>
<rect x="85.05" y="564.72" width="1.11" height="4.72" fill="#4a8cc6"/>
<rect x="97.30" y="564.72" width="1.11" height="4.72" fill="#4a8cc6"/>
<rect x="179.77" y="564.72" width="1.11" height="4.72" fill="#4a8cc6"/>
<rect x="188.68" y="564.72" width="1.11" height="4.72" fill="#4a8cc6"/>
<rect x="193.14" y="564.72" width="1.11" height="4.72" fill="#4a8cc6"/>
<rect x="196.48" y="564.72" width="1.11" height="4.72" fill="#4a8cc6"/>
<rect x="219.88" y="564.72" width="1.11" height="4.72" fill="#4a8cc6"/>
<rect x="34.90" y="574.10" width="232.90" height="12.75" fill="#d0d0d0"/>
<rect x="34.90" y="574.10" width="4.46" height="12.75" fill="#4daf4a"/>
<rect x="40.47" y="574.10" width="7.80" height="12.75" fill="#4daf4a"/>
<rect x="48.27" y="574.10" width="1.11" height="12.75" fill="#e41a1c"/>
<rect x="49.39" y="574.10" width="14.49" height="12.75" fill="#4daf4a"/>
<rect x="101.76" y="574.10" width="1.11" height="12.75" fill="#4daf4a"/>
<rect x="103.99" y="574.10" width="7.80" height="12.75" fill="#4daf4a"/>
<rect x="114.02" y="574.10" width="1.11" height="12.75" fill="#984ea3"/>
<rect x="115.13" y="574.10" width="2.23" height="12.75" fill="#4daf4a"/>
<rect x="119.59" y="574.10" width="14.49" height="12.75" fill="#4daf4a"/>
<rect x="134.08" y="574.10" width="1.11" height="12.75" fill="#984ea3"/>
<rect x="135.19" y="574.10" width="6.69" height="12.75" fill="#4daf4a"/>
<rect x="177.54" y="574.10" width="5.57" height="12.75" fill="#4daf4a"/>
<rect x="221.00" y="574.10" width="14.49" height="12.75" fill="#4daf4a"/>
<rect x="39.36" y="578.12" width="1.11" height="4.72" fill="#4a8cc6"/>
<rect x="102.88" y="578.12" width="1.11" height="4.72" fill="#4a8cc6"/>
<rect x="117.36" y="578.12" width="1.11" height="4.72" fill="#4a8cc6"/>
<rect x="183.11" y="578.12" width="1.11" height="4.72" fill="#4a8cc6"/>
<rect x="185.34" y="578.12" width="1.11" height="4.72" fill="#4a8cc6"/>
<rect x="34.90" y="587.50" width="232.90" height="12.75" fill="#d0d0d0"/>
<rect x="34.90" y="587.50" width="1.11" height="12.75" fill="#4daf4a"/>
<rect x="46.04" y="587.50" width="2.23" height="12.75" fill="#984ea3"/>
<rect x="66.10" y="587.50" width="1.11" height="12.75" fill="#ff7f00"/>
<rect x="101.76" y="587.50" width="1.11" height="12.75" fill="#e41a1c"/>
<rect x="102.88" y="587.50" width="1.11" height="12.75" fill="#4daf4a"/>
<rect x="103.99" y="587.50" width="1.11" height="12.75" fill="#984ea3"/>
<rect x="107.33" y="587.50" width="1.11" height="12.75" fill="#4daf4a"/>
<rect x="112.90" y="587.50" width="1.11" height="12.75" fill="#4daf4a"/>
<rect x="115.13" y="587.50" width="1.11" height="12.75" fill="#984ea3"/>
<rect x="121.82" y="587.50" width="1.11" height="12.75" fill="#4daf4a"/>
<rect x="124.05" y="587.50" width="5.57" height="12.75" fill="#e41a1c"/>
<rect x="145.22" y="587.50" width="1.11" height="12.75" fill="#ff7f00"/>
<rect x="153.02" y="587.50" width="1.11" height="12.75" fill="#e41a1c"/>
<rect x="154.14" y="587.50" width="1.11" height="12.75" fill="#ff7f00"/>
<rect x="155.25" y="587.50" width="1.11" height="12.75" fill="#4daf4a"/>
<rect x="156.36" y="587.50" width="3.34" height="12.75" fill="#e41a1c"/>
<rect x="177.54" y="587.50" width="1.11" height="12.75" fill="#984ea3"/>
<rect x="221.00" y="587.50" width="1.11" height="12.75" fill="#4daf4a"/>
<rect x="224.34" y="587.50" width="1.11" height="12.75" fill="#e41a1c"/>
<rect x="235.48" y="587.50" width="1.11" height="12.75" fill="#ff7f00"/>
<rect x="237.71" y="587.50" width="3.34" height="12.75" fill="#e41a1c"/>
<rect x="242.17" y="587.50" width="1.11" height="12.75" fill="#e41a1c"/>
<rect x="245.51" y="587.50" width="1.11" height="12.75" fill="#e41a1c"/>
<rect x="36.01" y="591.52" width="7.80" height="4.72" fill="#4a8cc6"/>
<rect x="48.27" y="591.52" width="1.11" height="4.72" fill="#4a8cc6"/>
<rect x="63.87" y="591.52" width="1.11" height="4.72" fill="#4a8cc6"/>
<rect x="69.44" y="591.52" width="2.23" height="4.72" fill="#4a8cc6"/>
<rect x="105.10" y="591.52" width="2.23" height="4.72" fill="#4a8cc6"/>
<rect x="109.56" y="591.52" width="2.23" height="4.72" fill="#4a8cc6"/>
<rect x="117.36" y="591.52" width="3.34" height="4.72" fill="#4a8cc6"/>
<rect x="141.88" y="591.52" width="2.23" height="4.72" fill="#4a8cc6"/>
<rect x="147.45" y="591.52" width="4.46" height="4.72" fill="#4a8cc6"/>
<rect x="178.65" y="591.52" width="1.11" height="4.72" fill="#4a8cc6"/>
<rect x="223.23" y="591.52" width="1.11" height="4.72" fill="#4a8cc6"/>
<rect x="241.06" y="591.52" width="1.11" height="4.72" fill="#4a8cc6"/>
<rect x="244.40" y="591.52" width="1.11" height="4.72" fill="#4a8cc6"/>
<rect x="246.63" y="591.52" width="1.11" height="4.72" fill="#4a8cc6"/>
<rect x="34.90" y="600.90" width="232.90" height="12.75" fill="#d0d0d0"/>
<rect x="34.90" y="600.90" width="1.11" height="12.75" fill="#ff7f00"/>
<rect x="36.01" y="600.90" width="1.11" height="12.75" fill="#4daf4a"/>
<rect x="39.36" y="600.90" width="1.11" height="12.75" fill="#984ea3"/>
<rect x="40.47" y="600.90" width="2.23" height="12.75" fill="#4daf4a"/>
<rect x="42.70" y="600.90" width="1.11" height="12.75" fill="#984ea3"/>
<rect x="43.81" y="600.90" width="2.23" height="12.75" fill="#4daf4a"/>
<rect x="50.50" y="600.90" width="3.34" height="12.75" fill="#e41a1c"/>
<rect x="63.87" y="600.90" width="2.23" height="12.75" fill="#4daf4a"/>
<rect x="66.10" y="600.90" width="2.23" height="12.75" fill="#e41a1c"/>
<rect x="73.90" y="600.90" width="6.69" height="12.75" fill="#4daf4a"/>
<rect x="101.76" y="600.90" width="2.23" height="12.75" fill="#4daf4a"/>
<rect x="105.10" y="600.90" width="1.11" height="12.75" fill="#ff7f00"/>
<rect x="106.22" y="600.90" width="7.80" height="12.75" fill="#4daf4a"/>
<rect x="115.13" y="600.90" width="4.46" height="12.75" fill="#4daf4a"/>
<rect x="129.62" y="600.90" width="3.34" height="12.75" fill="#4daf4a"/>
<rect x="141.88" y="600.90" width="2.23" height="12.75" fill="#4daf4a"/>
<rect x="144.11" y="600.90" width="1.11" height="12.75" fill="#ff7f00"/>
<rect x="145.22" y="600.90" width="1.11" height="12.75" fill="#984ea3"/>
<rect x="146.34" y="600.90" width="5.57" height="12.75" fill="#4daf4a"/>
<rect x="160.82" y="600.90" width="3.34" height="12.75" fill="#4daf4a"/>
<rect x="165.28" y="600.90" width="1.11" height="12.75" fill="#4daf4a"/>
<rect x="179.77" y="600.90" width="1.11" height="12.75" fill="#4daf4a"/>
<rect x="186.45" y="600.90" width="8.91" height="12.75" fill="#4daf4a"/>
<rect x="224.34" y="600.90" width="3.34" height="12.75" fill="#4daf4a"/>
<rect x="235.48" y="600.90" width="1.11" height="12.75" fill="#4daf4a"/>
<rect x="248.86" y="600.90" width="2.23" height="12.75" fill="#4daf4a"/>
<rect x="37.13" y="604.92" width="1.11" height="4.72" fill="#4a8cc6"/>
<rect x="46.04" y="604.92" width="1.11" height="4.72" fill="#4a8cc6"/>
<rect x="72.79" y="604.92" width="1.11" height="4.72" fill="#4a8cc6"/>
<rect x="114.02" y="604.92" width="1.11" height="4.72" fill="#4a8cc6"/>
<rect x="164.17" y="604.92" width="1.11" height="4.72" fill="#4a8cc6"/>
<rect x="34.90" y="614.30" width="232.90" height="12.75" fill="#d0d0d0"/>
<rect x="34.90" y="614.30" width="3.34" height="12.75" fill="#4daf4a"/>
<rect x="39.36" y="614.30" width="1.11" height="12.75" fill="#e41a1c"/>
<rect x="40.47" y="614.30" width="3.34" height="12.75" fill="#4daf4a"/>
<rect x="47.16" y="614.30" width="2.23" height="12.75" fill="#4daf4a"/>
<rect x="51.62" y="614.30" width="5.57" height="12.75" fill="#4daf4a"/>
<rect x="63.87" y="614.30" width="2.23" height="12.75" fill="#4daf4a"/>
<rect x="67.22" y="614.30" width="1.11" height="12.75" fill="#ff7f00"/>
<rect x="79.47" y="614.30" width="2.23" height="12.75" fill="#4daf4a"/>
<rect x="82.82" y="614.30" width="2.23" height="12.75" fill="#4daf4a"/>
<rect x="85.05" y="614.30" width="1.11" height="12.75" fill="#e41a1c"/>
<rect x="102.88" y="614.30" width="1.11" height="12.75" fill="#984ea3"/>
<rect x="103.99" y="614.30" width="1.11" height="12.75" fill="#4daf4a"/>
<rect x="105.10" y="614.30" width="1.11" height="12.75" fill="#e41a1c"/>
<rect x="106.22" y="614.30" width="3.34" height="12.75" fill="#4daf4a"/>
<rect x="120.71" y="614.30" width="3.34" height="12.75" fill="#4daf4a"/>
<rect x="130.73" y="614.30" width="8.91" height="12.75" fill="#4daf4a"/>
<rect x="141.88" y="614.30" width="2.23" height="12.75" fill="#4daf4a"/>
<rect x="144.11" y="614.30" width="1.11" height="12.75" fill="#ff7f00"/>
<rect x="145.22" y="614.30" width="1.11" height="12.75" fill="#4daf4a"/>
<rect x="151.91" y="614.30" width="2.23" height="12.75" fill="#4daf4a"/>
<rect x="160.82" y="614.30" width="2.23" height="12.75" fill="#4daf4a"/>
<rect x="166.39" y="614.30" width="1.11" height="12.75" fill="#4daf4a"/>
<rect x="180.88" y="614.30" width="1.11" height="12.75" fill="#4daf4a"/>
<rect x="186.45" y="614.30" width="4.46" height="12.75" fill="#4daf4a"/>
<rect x="196.48" y="614.30" width="1.11" height="12.75" fill="#4daf4a"/>
<rect x="221.00" y="614.30" width="1.11" height="12.75" fill="#4daf4a"/>
<rect x="227.68" y="614.30" width="2.23" height="12.75" fill="#4daf4a"/>
<rect x="235.48" y="614.30" width="1.11" height="12.75" fill="#4daf4a"/>
<rect x="248.86" y="614.30" width="1.11" height="12.75" fill="#e41a1c"/>
<rect x="251.08" y="614.30" width="2.23" height="12.75" fill="#4daf4a"/>
<rect x="38.24" y="618.32" width="1.11" height="4.72" fill="#4a8cc6"/>
<rect x="50.50" y="618.32" width="1.11" height="4.72" fill="#4a8cc6"/>
<rect x="81.70" y="618.32" width="1.11" height="4.72" fill="#4a8cc6"/>
<rect x="197.60" y="618.32" width="1.11" height="4.72" fill="#4a8cc6"/>
<rect x="34.90" y="627.70" width="232.90" height="12.75" fill="#d0d0d0"/>
<rect x="34.90" y="627.70" width="7.80" height="12.75" fill="#4daf4a"/>
<rect x="43.81" y="627.70" width="4.46" height="12.75" fill="#4daf4a"/>
<rect x="50.50" y="627.70" width="1.11" height="12.75" fill="#4daf4a"/>
<rect x="87.27" y="627.70" width="1.11" height="12.75" fill="#4daf4a"/>
<rect x="101.76" y="627.70" width="14.49" height="12.75" fill="#4daf4a"/>
<rect x="119.59" y="627.70" width="2.23" height="12.75" fill="#4daf4a"/>
<rect x="124.05" y="627.70" width="1.11" height="12.75" fill="#4daf4a"/>
<rect x="130.73" y="627.70" width="4.46" height="12.75" fill="#4daf4a"/>
<rect x="135.19" y="627.70" width="1.11" height="12.75" fill="#984ea3"/>
<rect x="141.88" y="627.70" width="2.23" height="12.75" fill="#4daf4a"/>
<rect x="151.91" y="627.70" width="2.23" height="12.75" fill="#4daf4a"/>
<rect x="160.82" y="627.70" width="2.23" height="12.75" fill="#4daf4a"/>
<rect x="167.51" y="627.70" width="1.11" height="12.75" fill="#4daf4a"/>
<rect x="179.77" y="627.70" width="1.11" height="12.75" fill="#4daf4a"/>
<rect x="190.91" y="627.70" width="1.11" height="12.75" fill="#4daf4a"/>
<rect x="195.37" y="627.70" width="1.11" height="12.75" fill="#4daf4a"/>
<rect x="199.82" y="627.70" width="1.11" height="12.75" fill="#e41a1c"/>
<rect x="222.11" y="627.70" width="1.11" height="12.75" fill="#4daf4a"/>
<rect x="229.91" y="627.70" width="2.23" height="12.75" fill="#4daf4a"/>
<rect x="248.86" y="627.70" width="1.11" height="12.75" fill="#4daf4a"/>
<rect x="251.08" y="627.70" width="1.11" height="12.75" fill="#4daf4a"/>
<rect x="253.31" y="627.70" width="5.57" height="12.75" fill="#4daf4a"/>
<rect x="72.79" y="631.72" width="1.11" height="4.72" fill="#4a8cc6"/>
<rect x="88.39" y="631.72" width="1.11" height="4.72" fill="#4a8cc6"/>
<rect x="163.05" y="631.72" width="1.11" height="4.72" fill="#4a8cc6"/>
<rect x="34.90" y="641.10" width="232.90" height="12.75" fill="#d0d0d0"/>
<rect x="79.47" y="641.10" width="1.11" height="12.75" fill="#4daf4a"/>
<rect x="112.90" y="641.10" width="1.11" height="12.75" fill="#e41a1c"/>
<rect x="254.43" y="641.10" width="1.11" height="12.75" fill="#4daf4a"/>
<rect x="34.90" y="645.12" width="5.57" height="4.72" fill="#4a8cc6"/>
<rect x="41.59" y="645.12" width="5.57" height="4.72" fill="#4a8cc6"/>
<rect x="50.50" y="645.12" width="2.23" height="4.72" fill="#4a8cc6"/>
<rect x="56.07" y="645.12" width="1.11" height="4.72" fill="#4a8cc6"/>
<rect x="63.87" y="645.12" width="1.11" height="4.72" fill="#4a8cc6"/>
<rect x="68.33" y="645.12" width="3.34" height="4.72" fill="#4a8cc6"/>
<rect x="73.90" y="645.12" width="1.11" height="4.72" fill="#4a8cc6"/>
<rect x="89.50" y="645.12" width="1.11" height="4.72" fill="#4a8cc6"/>
<rect x="101.76" y="645.12" width="10.03" height="4.72" fill="#4a8cc6"/>
<rect x="115.13" y="645.12" width="10.03" height="4.72" fill="#4a8cc6"/>
<rect x="129.62" y="645.12" width="1.11" height="4.72" fill="#4a8cc6"/>
<rect x="132.96" y="645.12" width="2.23" height="4.72" fill="#4a8cc6"/>
<rect x="141.88" y="645.12" width="2.23" height="4.72" fill="#4a8cc6"/>
<rect x="145.22" y="645.12" width="11.14" height="4.72" fill="#4a8cc6"/>
<rect x="163.05" y="645.12" width="1.11" height="4.72" fill="#4a8cc6"/>
<rect x="219.88" y="645.12" width="1.11" height="4.72" fill="#4a8cc6"/>
<rect x="224.34" y="645.12" width="1.11" height="4.72" fill="#4a8cc6"/>
<rect x="253.31" y="645.12" width="1.11" height="4.72" fill="#4a8cc6"/>
<rect x="34.90" y="654.50" width="232.90" height="12.75" fill="#d0d0d0"/>
<rect x="34.90" y="654.50" width="3.34" height="12.75" fill="#4daf4a"/>
<rect x="43.81" y="654.50" width="1.11" height="12.75" fill="#4daf4a"/>
<rect x="48.27" y="654.50" width="1.11" height="12.75" fill="#4daf4a"/>
<rect x="51.62" y="654.50" width="1.11" height="12.75" fill="#4daf4a"/>
<rect x="54.96" y="654.50" width="2.23" height="12.75" fill="#4daf4a"/>
<rect x="63.87" y="654.50" width="1.11" height="12.75" fill="#4daf4a"/>
<rect x="69.44" y="654.50" width="2.23" height="12.75" fill="#4daf4a"/>
<rect x="75.02" y="654.50" width="2.23" height="12.75" fill="#4daf4a"/>
<rect x="87.27" y="654.50" width="1.11" height="12.75" fill="#4daf4a"/>
<rect x="91.73" y="654.50" width="1.11" height="12.75" fill="#4daf4a"/>
<rect x="111.79" y="654.50" width="1.11" height="12.75" fill="#e41a1c"/>
<rect x="121.82" y="654.50" width="1.11" height="12.75" fill="#984ea3"/>
<rect x="124.05" y="654.50" width="1.11" height="12.75" fill="#4daf4a"/>
<rect x="129.62" y="654.50" width="1.11" height="12.75" fill="#4daf4a"/>
<rect x="136.31" y="654.50" width="2.23" height="12.75" fill="#4daf4a"/>
<rect x="141.88" y="654.50" width="2.23" height="12.75" fill="#4daf4a"/>
<rect x="150.79" y="654.50" width="1.11" height="12.75" fill="#4daf4a"/>
<rect x="154.14" y="654.50" width="1.11" height="12.75" fill="#e41a1c"/>
<rect x="159.71" y="654.50" width="1.11" height="12.75" fill="#4daf4a"/>
<rect x="163.05" y="654.50" width="1.11" height="12.75" fill="#4daf4a"/>
<rect x="166.39" y="654.50" width="1.11" height="12.75" fill="#4daf4a"/>
<rect x="169.74" y="654.50" width="1.11" height="12.75" fill="#4daf4a"/>
<rect x="186.45" y="654.50" width="1.11" height="12.75" fill="#4daf4a"/>
<rect x="202.05" y="654.50" width="3.34" height="12.75" fill="#4daf4a"/>
<rect x="221.00" y="654.50" width="1.11" height="12.75" fill="#4daf4a"/>
<rect x="225.45" y="654.50" width="1.11" height="12.75" fill="#4daf4a"/>
<rect x="235.48" y="654.50" width="1.11" height="12.75" fill="#4daf4a"/>
<rect x="253.31" y="654.50" width="1.11" height="12.75" fill="#e41a1c"/>
<rect x="256.66" y="654.50" width="1.11" height="12.75" fill="#a65628"/>
<rect x="260.00" y="654.50" width="1.11" height="12.75" fill="#4daf4a"/>
<rect x="41.59" y="658.52" width="1.11" height="4.72" fill="#4a8cc6"/>
<rect x="102.88" y="658.52" width="2.23" height="4.72" fill="#4a8cc6"/>
<rect x="116.25" y="658.52" width="1.11" height="4.72" fill="#4a8cc6"/>
<rect x="146.34" y="658.52" width="1.11" height="4.72" fill="#4a8cc6"/>
<rect x="164.17" y="658.52" width="1.11" height="4.72" fill="#4a8cc6"/>
<rect x="34.90" y="667.90" width="232.90" height="12.75" fill="#d0d0d0"/>
<rect x="42.70" y="667.90" width="1.11" height="12.75" fill="#4daf4a"/>
<rect x="56.07" y="667.90" width="4.46" height="12.75" fill="#4daf4a"/>
<rect x="69.44" y="667.90" width="1.11" height="12.75" fill="#4daf4a"/>
<rect x="88.39" y="667.90" width="3.34" height="12.75" fill="#4daf4a"/>
<rect x="102.88" y="667.90" width="1.11" height="12.75" fill="#4daf4a"/>
<rect x="105.10" y="667.90" width="2.23" height="12.75" fill="#4daf4a"/>
<rect x="109.56" y="667.90" width="1.11" height="12.75" fill="#ff7f00"/>
<rect x="110.68" y="667.90" width="1.11" height="12.75" fill="#4daf4a"/>
<rect x="119.59" y="667.90" width="1.11" height="12.75" fill="#984ea3"/>
<rect x="124.05" y="667.90" width="1.11" height="12.75" fill="#4daf4a"/>
<rect x="131.85" y="667.90" width="2.23" height="12.75" fill="#4daf4a"/>
<rect x="137.42" y="667.90" width="1.11" height="12.75" fill="#4daf4a"/>
<rect x="141.88" y="667.90" width="1.11" height="12.75" fill="#984ea3"/>
<rect x="147.45" y="667.90" width="1.11" height="12.75" fill="#ff7f00"/>
<rect x="151.91" y="667.90" width="1.11" height="12.75" fill="#4daf4a"/>
<rect x="164.17" y="667.90" width="1.11" height="12.75" fill="#4daf4a"/>
<rect x="166.39" y="667.90" width="1.11" height="12.75" fill="#4daf4a"/>
<rect x="170.85" y="667.90" width="2.23" height="12.75" fill="#4daf4a"/>
<rect x="177.54" y="667.90" width="1.11" height="12.75" fill="#4daf4a"/>
<rect x="188.68" y="667.90" width="1.11" height="12.75" fill="#4daf4a"/>
<rect x="228.80" y="667.90" width="3.34" height="12.75" fill="#4daf4a"/>
<rect x="235.48" y="667.90" width="1.11" height="12.75" fill="#e41a1c"/>
<rect x="237.71" y="667.90" width="2.23" height="12.75" fill="#4daf4a"/>
<rect x="258.89" y="667.90" width="1.11" height="12.75" fill="#4daf4a"/>
<rect x="36.01" y="671.92" width="1.11" height="4.72" fill="#4a8cc6"/>
<rect x="46.04" y="671.92" width="1.11" height="4.72" fill="#4a8cc6"/>
<rect x="50.50" y="671.92" width="1.11" height="4.72" fill="#4a8cc6"/>
<rect x="70.56" y="671.92" width="1.11" height="4.72" fill="#4a8cc6"/>
<rect x="112.90" y="671.92" width="1.11" height="4.72" fill="#4a8cc6"/>
<rect x="253.31" y="671.92" width="1.11" height="4.72" fill="#4a8cc6"/>
<rect x="257.77" y="671.92" width="1.11" height="4.72" fill="#4a8cc6"/>
<rect x="34.90" y="681.30" width="232.90" height="12.75" fill="#d0d0d0"/>
<rect x="34.90" y="681.30" width="3.34" height="12.75" fill="#4daf4a"/>
<rect x="40.47" y="681.30" width="1.11" height="12.75" fill="#4daf4a"/>
<rect x="49.39" y="681.30" width="3.34" height="12.75" fill="#4daf4a"/>
<rect x="52.73" y="681.30" width="1.11" height="12.75" fill="#e41a1c"/>
<rect x="68.33" y="681.30" width="1.11" height="12.75" fill="#4daf4a"/>
<rect x="76.13" y="681.30" width="2.23" height="12.75" fill="#4daf4a"/>
<rect x="101.76" y="681.30" width="2.23" height="12.75" fill="#4daf4a"/>
<rect x="106.22" y="681.30" width="1.11" height="12.75" fill="#984ea3"/>
<rect x="107.33" y="681.30" width="2.23" height="12.75" fill="#4daf4a"/>
<rect x="120.71" y="681.30" width="1.11" height="12.75" fill="#4daf4a"/>
<rect x="124.05" y="681.30" width="1.11" height="12.75" fill="#4daf4a"/>
<rect x="127.39" y="681.30" width="1.11" height="12.75" fill="#e41a1c"/>
<rect x="129.62" y="681.30" width="1.11" height="12.75" fill="#4daf4a"/>
<rect x="136.31" y="681.30" width="2.23" height="12.75" fill="#4daf4a"/>
<rect x="144.11" y="681.30" width="2.23" height="12.75" fill="#4daf4a"/>
<rect x="147.45" y="681.30" width="2.23" height="12.75" fill="#4daf4a"/>
<rect x="151.91" y="681.30" width="1.11" height="12.75" fill="#4daf4a"/>
<rect x="159.71" y="681.30" width="1.11" height="12.75" fill="#e41a1c"/>
<rect x="166.39" y="681.30" width="1.11" height="12.75" fill="#4daf4a"/>
<rect x="179.77" y="681.30" width="1.11" height="12.75" fill="#4daf4a"/>
<rect x="181.99" y="681.30" width="1.11" height="12.75" fill="#e41a1c"/>
<rect x="196.48" y="681.30" width="1.11" height="12.75" fill="#4daf4a"/>
<rect x="227.68" y="681.30" width="1.11" height="12.75" fill="#4daf4a"/>
<rect x="237.71" y="681.30" width="1.11" height="12.75" fill="#4daf4a"/>
<rect x="248.86" y="681.30" width="1.11" height="12.75" fill="#4daf4a"/>
<rect x="41.59" y="685.32" width="2.23" height="4.72" fill="#4a8cc6"/>
<rect x="47.16" y="685.32" width="1.11" height="4.72" fill="#4a8cc6"/>
<rect x="72.79" y="685.32" width="1.11" height="4.72" fill="#4a8cc6"/>
<rect x="110.68" y="685.32" width="2.23" height="4.72" fill="#4a8cc6"/>
<rect x="117.36" y="685.32" width="1.11" height="4.72" fill="#4a8cc6"/>
<rect x="163.05" y="685.32" width="1.11" height="4.72" fill="#4a8cc6"/>
<rect x="221.00" y="685.32" width="1.11" height="4.72" fill="#4a8cc6"/>
<rect x="34.90" y="694.70" width="232.90" height="12.75" fill="#d0d0d0"/>
<rect x="34.90" y="694.70" width="1.11" height="12.75" fill="#ff7f00"/>
<rect x="46.04" y="694.70" width="1.11" height="12.75" fill="#984ea3"/>
<rect x="49.39" y="694.70" width="2.23" height="12.75" fill="#4daf4a"/>
<rect x="53.84" y="694.70" width="1.11" height="12.75" fill="#e41a1c"/>
<rect x="56.07" y="694.70" width="1.11" height="12.75" fill="#4daf4a"/>
<rect x="64.99" y="694.70" width="1.11" height="12.75" fill="#4daf4a"/>
<rect x="70.56" y="694.70" width="2.23" height="12.75" fill="#4daf4a"/>
<rect x="75.02" y="694.70" width="1.11" height="12.75" fill="#e41a1c"/>
<rect x="80.59" y="694.70" width="1.11" height="12.75" fill="#e41a1c"/>
<rect x="91.73" y="694.70" width="2.23" height="12.75" fill="#e41a1c"/>
<rect x="93.96" y="694.70" width="1.11" height="12.75" fill="#4daf4a"/>
<rect x="102.88" y="694.70" width="1.11" height="12.75" fill="#e41a1c"/>
<rect x="106.22" y="694.70" width="1.11" height="12.75" fill="#ff7f00"/>
<rect x="107.33" y="694.70" width="1.11" height="12.75" fill="#4daf4a"/>
<rect x="114.02" y="694.70" width="1.11" height="12.75" fill="#4daf4a"/>
<rect x="115.13" y="694.70" width="1.11" height="12.75" fill="#e41a1c"/>
<rect x="117.36" y="694.70" width="1.11" height="12.75" fill="#4daf4a"/>
<rect x="124.05" y="694.70" width="1.11" height="12.75" fill="#4daf4a"/>
<rect x="128.51" y="694.70" width="2.23" height="12.75" fill="#4daf4a"/>
<rect x="135.19" y="694.70" width="2.23" height="12.75" fill="#4daf4a"/>
<rect x="141.88" y="694.70" width="1.11" height="12.75" fill="#4daf4a"/>
<rect x="149.68" y="694.70" width="1.11" height="12.75" fill="#ff7f00"/>
<rect x="170.85" y="694.70" width="1.11" height="12.75" fill="#4daf4a"/>
<rect x="177.54" y="694.70" width="1.11" height="12.75" fill="#4daf4a"/>
<rect x="190.91" y="694.70" width="1.11" height="12.75" fill="#4daf4a"/>
<rect x="198.71" y="694.70" width="2.23" height="12.75" fill="#4daf4a"/>
<rect x="205.40" y="694.70" width="2.23" height="12.75" fill="#4daf4a"/>
<rect x="221.00" y="694.70" width="1.11" height="12.75" fill="#4daf4a"/>
<rect x="234.37" y="694.70" width="1.11" height="12.75" fill="#4daf4a"/>
<rect x="248.86" y="694.70" width="1.11" height="12.75" fill="#4daf4a"/>
<rect x="262.23" y="694.70" width="1.11" height="12.75" fill="#4daf4a"/>
<rect x="36.01" y="698.72" width="1.11" height="4.72" fill="#4a8cc6"/>
<rect x="43.81" y="698.72" width="1.11" height="4.72" fill="#4a8cc6"/>
<rect x="72.79" y="698.72" width="1.11" height="4.72" fill="#4a8cc6"/>
<rect x="89.50" y="698.72" width="1.11" height="4.72" fill="#4a8cc6"/>
<rect x="101.76" y="698.72" width="2.23" height="4.72" fill="#4a8cc6"/>
<rect x="147.45" y="698.72" width="1.11" height="4.72" fill="#4a8cc6"/>
<rect x="34.90" y="708.10" width="232.90" height="12.75" fill="#d0d0d0"/>
<rect x="34.90" y="708.10" width="4.46" height="12.75" fill="#4daf4a"/>
<rect x="42.70" y="708.10" width="1.11" height="12.75" fill="#4daf4a"/>
<rect x="51.62" y="708.10" width="1.11" height="12.75" fill="#4daf4a"/>
<rect x="63.87" y="708.10" width="2.23" height="12.75" fill="#4daf4a"/>
<rect x="72.79" y="708.10" width="2.23" height="12.75" fill="#4daf4a"/>
<rect x="77.25" y="708.10" width="1.11" height="12.75" fill="#4daf4a"/>
<rect x="101.76" y="708.10" width="1.11" height="12.75" fill="#4daf4a"/>
<rect x="105.10" y="708.10" width="2.23" height="12.75" fill="#4daf4a"/>
<rect x="110.68" y="708.10" width="4.46" height="12.75" fill="#4daf4a"/>
<rect x="119.59" y="708.10" width="5.57" height="12.75" fill="#4daf4a"/>
<rect x="126.28" y="708.10" width="3.34" height="12.75" fill="#4daf4a"/>
<rect x="132.96" y="708.10" width="2.23" height="12.75" fill="#4daf4a"/>
<rect x="140.76" y="708.10" width="1.11" height="12.75" fill="#4daf4a"/>
<rect x="144.11" y="708.10" width="1.11" height="12.75" fill="#4daf4a"/>
<rect x="151.91" y="708.10" width="1.11" height="12.75" fill="#4daf4a"/>
<rect x="157.48" y="708.10" width="2.23" height="12.75" fill="#4daf4a"/>
<rect x="165.28" y="708.10" width="1.11" height="12.75" fill="#4daf4a"/>
<rect x="173.08" y="708.10" width="1.11" height="12.75" fill="#4daf4a"/>
<rect x="177.54" y="708.10" width="1.11" height="12.75" fill="#4daf4a"/>
<rect x="192.02" y="708.10" width="1.11" height="12.75" fill="#4daf4a"/>
<rect x="200.94" y="708.10" width="1.11" height="12.75" fill="#4daf4a"/>
<rect x="229.91" y="708.10" width="1.11" height="12.75" fill="#4daf4a"/>
<rect x="232.14" y="708.10" width="1.11" height="12.75" fill="#4daf4a"/>
<rect x="237.71" y="708.10" width="6.69" height="12.75" fill="#4daf4a"/>
<rect x="251.08" y="708.10" width="1.11" height="12.75" fill="#4daf4a"/>
<rect x="257.77" y="708.10" width="1.11" height="12.75" fill="#4daf4a"/>
<rect x="263.34" y="708.10" width="1.11" height="12.75" fill="#4daf4a"/>
<rect x="34.90" y="721.50" width="232.90" height="12.75" fill="#d0d0d0"/>
<rect x="34.90" y="721.50" width="7.80" height="12.75" fill="#4daf4a"/>
<rect x="46.04" y="721.50" width="1.11" height="12.75" fill="#4daf4a"/>
<rect x="49.39" y="721.50" width="1.11" height="12.75" fill="#4daf4a"/>
<rect x="51.62" y="721.50" width="1.11" height="12.75" fill="#4daf4a"/>
<rect x="64.99" y="721.50" width="1.11" height="12.75" fill="#e41a1c"/>
<rect x="68.33" y="721.50" width="1.11" height="12.75" fill="#4daf4a"/>
<rect x="73.90" y="721.50" width="1.11" height="12.75" fill="#4daf4a"/>
<rect x="80.59" y="721.50" width="1.11" height="12.75" fill="#4daf4a"/>
<rect x="91.73" y="721.50" width="1.11" height="12.75" fill="#4daf4a"/>
<rect x="102.88" y="721.50" width="1.11" height="12.75" fill="#4daf4a"/>
<rect x="108.45" y="721.50" width="1.11" height="12.75" fill="#984ea3"/>
<rect x="112.90" y="721.50" width="1.11" height="12.75" fill="#4daf4a"/>
<rect x="119.59" y="721.50" width="1.11" height="12.75" fill="#4daf4a"/>
<rect x="128.51" y="721.50" width="1.11" height="12.75" fill="#e41a1c"/>
<rect x="132.96" y="721.50" width="2.23" height="12.75" fill="#4daf4a"/>
<rect x="141.88" y="721.50" width="2.23" height="12.75" fill="#4daf4a"/>
<rect x="146.34" y="721.50" width="1.11" height="12.75" fill="#4daf4a"/>
<rect x="175.31" y="721.50" width="1.11" height="12.75" fill="#4daf4a"/>
<rect x="180.88" y="721.50" width="1.11" height="12.75" fill="#4daf4a"/>
<rect x="188.68" y="721.50" width="1.11" height="12.75" fill="#4daf4a"/>
<rect x="192.02" y="721.50" width="1.11" height="12.75" fill="#4daf4a"/>
<rect x="197.60" y="721.50" width="3.34" height="12.75" fill="#4daf4a"/>
<rect x="202.05" y="721.50" width="1.11" height="12.75" fill="#4daf4a"/>
<rect x="205.40" y="721.50" width="2.23" height="12.75" fill="#4daf4a"/>
<rect x="208.74" y="721.50" width="3.34" height="12.75" fill="#4daf4a"/>
<rect x="255.54" y="721.50" width="2.23" height="12.75" fill="#4daf4a"/>
<rect x="265.57" y="721.50" width="1.11" height="12.75" fill="#4daf4a"/>
<rect x="42.70" y="725.52" width="1.11" height="4.72" fill="#4a8cc6"/>
<rect x="109.56" y="725.52" width="1.11" height="4.72" fill="#4a8cc6"/>
<rect x="122.93" y="725.52" width="2.23" height="4.72" fill="#4a8cc6"/>
<rect x="193.14" y="725.52" width="1.11" height="4.72" fill="#4a8cc6"/>
<rect x="207.62" y="725.52" width="1.11" height="4.72" fill="#4a8cc6"/>
<rect x="34.90" y="734.90" width="232.90" height="12.75" fill="#d0d0d0"/>
<rect x="34.90" y="734.90" width="3.34" height="12.75" fill="#4daf4a"/>
<rect x="41.59" y="734.90" width="1.11" height="12.75" fill="#984ea3"/>
<rect x="43.81" y="734.90" width="3.34" height="12.75" fill="#4daf4a"/>
<rect x="51.62" y="734.90" width="1.11" height="12.75" fill="#984ea3"/>
<rect x="53.84" y="734.90" width="1.11" height="12.75" fill="#e41a1c"/>
<rect x="63.87" y="734.90" width="1.11" height="12.75" fill="#984ea3"/>
<rect x="66.10" y="734.90" width="1.11" height="12.75" fill="#4daf4a"/>
<rect x="76.13" y="734.90" width="1.11" height="12.75" fill="#4daf4a"/>
<rect x="80.59" y="734.90" width="1.11" height="12.75" fill="#984ea3"/>
<rect x="96.19" y="734.90" width="1.11" height="12.75" fill="#4daf4a"/>
<rect x="102.88" y="734.90" width="1.11" height="12.75" fill="#4daf4a"/>
<rect x="105.10" y="734.90" width="1.11" height="12.75" fill="#4daf4a"/>
<rect x="109.56" y="734.90" width="2.23" height="12.75" fill="#4daf4a"/>
<rect x="124.05" y="734.90" width="1.11" height="12.75" fill="#a65628"/>
<rect x="125.16" y="734.90" width="2.23" height="12.75" fill="#4daf4a"/>
<rect x="136.31" y="734.90" width="1.11" height="12.75" fill="#4daf4a"/>
<rect x="148.56" y="734.90" width="1.11" height="12.75" fill="#4daf4a"/>
<rect x="151.91" y="734.90" width="1.11" height="12.75" fill="#4daf4a"/>
<rect x="159.71" y="734.90" width="1.11" height="12.75" fill="#4daf4a"/>
<rect x="168.62" y="734.90" width="1.11" height="12.75" fill="#4daf4a"/>
<rect x="177.54" y="734.90" width="1.11" height="12.75" fill="#4daf4a"/>
<rect x="189.80" y="734.90" width="1.11" height="12.75" fill="#4daf4a"/>
<rect x="196.48" y="734.90" width="1.11" height="12.75" fill="#4daf4a"/>
<rect x="206.51" y="734.90" width="1.11" height="12.75" fill="#4daf4a"/>
<rect x="231.03" y="734.90" width="1.11" height="12.75" fill="#4daf4a"/>
<rect x="253.31" y="734.90" width="1.11" height="12.75" fill="#4daf4a"/>
<rect x="258.89" y="734.90" width="1.11" height="12.75" fill="#e41a1c"/>
<rect x="265.57" y="734.90" width="2.23" height="12.75" fill="#4daf4a"/>
<rect x="116.25" y="738.92" width="1.11" height="4.72" fill="#4a8cc6"/>
<rect x="121.82" y="738.92" width="1.11" height="4.72" fill="#4a8cc6"/>
<rect x="142.99" y="738.92" width="1.11" height="4.72" fill="#4a8cc6"/>
<rect x="164.17" y="738.92" width="1.11" height="4.72" fill="#4a8cc6"/>
<path d="M36.01 547.30V747.65 M37.13 547.30V747.65 M38.24 547.30V747.65 M39.36 547.30V747.65 M40.47 547.30V747.65 M41.59 547.30V747.65 M42.70 547.30V747.65 M43.81 547.30V747.65 M44.93 547.30V747.65 M46.04 547.30V747.65 M47.16 547.30V747.65 M48.27 547.30V747.65 M49.39 547.30V747.65 M50.50 547.30V747.65 M51.62 547.30V747.65 M52.73 547.30V747.65 M53.84 547.30V747.65 M54.96 547.30V747.65 M56.07 547.30V747.65 M57.19 547.30V747.65 M58.30 547.30V747.65 M59.42 547.30V747.65 M60.53 547.30V747.65 M61.64 547.30V747.65 M62.76 547.30V747.65 M63.87 547.30V747.65 M64.99 547.30V747.65 M66.10 547.30V747.65 M67.22 547.30V747.65 M68.33 547.30V747.65 M69.44 547.30V747.65 M70.56 547.30V747.65 M71.67 547.30V747.65 M72.79 547.30V747.65 M73.90 547.30V747.65 M75.02 547.30V747.65 M76.13 547.30V747.65 M77.25 547.30V747.65 M78.36 547.30V747.65 M79.47 547.30V747.65 M80.59 547.30V747.65 M81.70 547.30V747.65 M82.82 547.30V747.65 M83.93 547.30V747.65 M85.05 547.30V747.65 M86.16 547.30V747.65 M87.27 547.30V747.65 M88.39 547.30V747.65 M89.50 547.30V747.65 M90.62 547.30V747.65 M91.73 547.30V747.65 M92.85 547.30V747.65 M93.96 547.30V747.65 M95.08 547.30V747.65 M96.19 547.30V747.65 M97.30 547.30V747.65 M98.42 547.30V747.65 M99.53 547.30V747.65 M100.65 547.30V747.65 M101.76 547.30V747.65 M102.88 547.30V747.65 M103.99 547.30V747.65 M105.10 547.30V747.65 M106.22 547.30V747.65 M107.33 547.30V747.65 M108.45 547.30V747.65 M109.56 547.30V747.65 M110.68 547.30V747.65 M111.79 547.30V747.65 M112.90 547.30V747.65 M114.02 547.30V747.65 M115.13 547.30V747.65 M116.25 547.30V747.65 M117.36 547.30V747.65 M118.48 547.30V747.65 M119.59 547.30V747.65 M120.71 547.30V747.65 M121.82 547.30V747.65 M122.93 547.30V747.65 M124.05 547.30V747.65 M125.16 547.30V747.65 M126.28 547.30V747.65 M127.39 547.30V747.65 M128.51 547.30V747.65 M129.62 547.30V747.65 M130.73 547.30V747.65 M131.85 547.30V747.65 M132.96 547.30V747.65 M134.08 547.30V747.65 M135.19 547.30V747.65 M136.31 547.30V747.65 M137.42 547.30V747.65 M138.53 547.30V747.65 M139.65 547.30V747.65 M140.76 547.30V747.65 M141.88 547.30V747.65 M142.99 547.30V747.65 M144.11 547.30V747.65 M145.22 547.30V747.65 M146.34 547.30V747.65 M147.45 547.30V747.65 M148.56 547.30V747.65 M149.68 547.30V747.65 M150.79 547.30V747.65 M151.91 547.30V747.65 M153.02 547.30V747.65 M154.14 547.30V747.65 M155.25 547.30V747.65 M156.36 547.30V747.65 M157.48 547.30V747.65 M158.59 547.30V747.65 M159.71 547.30V747.65 M160.82 547.30V747.65 M161.94 547.30V747.65 M163.05 547.30V747.65 M164.17 547.30V747.65 M165.28 547.30V747.65 M166.39 547.30V747.65 M167.51 547.30V747.65 M168.62 547.30V747.65 M169.74 547.30V747.65 M170.85 547.30V747.65 M171.97 547.30V747.65 M173.08 547.30V747.65 M174.19 547.30V747.65 M175.31 547.30V747.65 M176.42 547.30V747.65 M177.54 547.30V747.65 M178.65 547.30V747.65 M179.77 547.30V747.65 M180.88 547.30V747.65 M181.99 547.30V747.65 M183.11 547.30V747.65 M184.22 547.30V747.65 M185.34 547.30V747.65 M186.45 547.30V747.65 M187.57 547.30V747.65 M188.68 547.30V747.65 M189.80 547.30V747.65 M190.91 547.30V747.65 M192.02 547.30V747.65 M193.14 547.30V747.65 M194.25 547.30V747.65 M195.37 547.30V747.65 M196.48 547.30V747.65 M197.60 547.30V747.65 M198.71 547.30V747.65 M199.82 547.30V747.65 M200.94 547.30V747.65 M202.05 547.30V747.65 M203.17 547.30V747.65 M204.28 547.30V747.65 M205.40 547.30V747.65 M206.51 547.30V747.65 M207.62 547.30V747.65 M208.74 547.30V747.65 M209.85 547.30V747.65 M210.97 547.30V747.65 M212.08 547.30V747.65 M213.20 547.30V747.65 M214.31 547.30V747.65 M215.43 547.30V747.65 M216.54 547.30V747.65 M217.65 547.30V747.65 M218.77 547.30V747.65 M219.88 547.30V747.65 M221.00 547.30V747.65 M222.11 547.30V747.65 M223.23 547.30V747.65 M224.34 547.30V747.65 M225.45 547.30V747.65 M226.57 547.30V747.65 M227.68 547.30V747.65 M228.80 547.30V747.65 M229.91 547.30V747.65 M231.03 547.30V747.65 M232.14 547.30V747.65 M233.26 547.30V747.65 M234.37 547.30V747.65 M235.48 547.30V747.65 M236.60 547.30V747.65 M237.71 547.30V747.65 M238.83 547.30V747.65 M239.94 547.30V747.65 M241.06 547.30V747.65 M242.17 547.30V747.65 M243.28 547.30V747.65 M244.40 547.30V747.65 M245.51 547.30V747.65 M246.63 547.30V747.65 M247.74 547.30V747.65 M248.86 547.30V747.65 M249.97 547.30V747.65 M251.08 547.30V747.65 M252.20 547.30V747.65 M253.31 547.30V747.65 M254.43 547.30V747.65 M255.54 547.30V747.65 M256.66 547.30V747.65 M257.77 547.30V747.65 M258.89 547.30V747.65 M260.00 547.30V747.65 M261.11 547.30V747.65 M262.23 547.30V747.65 M263.34 547.30V747.65 M264.46 547.30V747.65 M265.57 547.30V747.65 M266.69 547.30V747.65" stroke="#fff" stroke-width="0.32" stroke-opacity="0.9"/>
<rect x="35.00" y="534.93" width="0.91" height="11.37" fill="#4daf4a"/>
<rect x="35.00" y="532.62" width="0.91" height="2.31" fill="#5b9bd5"/>
<rect x="35.00" y="532.40" width="0.91" height="0.22" fill="#e41a1c"/>
<rect x="36.11" y="539.32" width="0.91" height="6.98" fill="#4daf4a"/>
<rect x="36.11" y="537.77" width="0.91" height="1.55" fill="#e41a1c"/>
<rect x="36.11" y="536.36" width="0.91" height="1.41" fill="#5b9bd5"/>
<rect x="36.11" y="534.64" width="0.91" height="1.72" fill="#5b9bd5"/>
<rect x="36.11" y="533.50" width="0.91" height="1.14" fill="#5b9bd5"/>
<rect x="37.23" y="537.42" width="0.91" height="8.88" fill="#4daf4a"/>
<rect x="37.23" y="536.36" width="0.91" height="1.06" fill="#5b9bd5"/>
<rect x="37.23" y="535.34" width="0.91" height="1.02" fill="#e41a1c"/>
<rect x="37.23" y="535.28" width="0.91" height="0.06" fill="#5b9bd5"/>
<rect x="38.34" y="534.06" width="0.91" height="12.24" fill="#4daf4a"/>
<rect x="39.46" y="541.69" width="0.91" height="4.61" fill="#4daf4a"/>
<rect x="39.46" y="540.62" width="0.91" height="1.07" fill="#984ea3"/>
<rect x="39.46" y="538.28" width="0.91" height="2.34" fill="#e41a1c"/>
<rect x="39.46" y="538.16" width="0.91" height="0.13" fill="#e41a1c"/>
<rect x="40.57" y="540.90" width="0.91" height="5.40" fill="#4daf4a"/>
<rect x="40.57" y="539.53" width="0.91" height="1.38" fill="#5b9bd5"/>
<rect x="40.57" y="537.59" width="0.91" height="1.94" fill="#ff7f00"/>
<rect x="41.69" y="540.38" width="0.91" height="5.92" fill="#4daf4a"/>
<rect x="41.69" y="539.58" width="0.91" height="0.81" fill="#984ea3"/>
<rect x="41.69" y="538.67" width="0.91" height="0.91" fill="#984ea3"/>
<rect x="41.69" y="538.32" width="0.91" height="0.36" fill="#e41a1c"/>
<rect x="42.80" y="534.33" width="0.91" height="11.97" fill="#4daf4a"/>
<rect x="43.91" y="535.32" width="0.91" height="10.98" fill="#4daf4a"/>
<rect x="45.03" y="540.47" width="0.91" height="5.83" fill="#4daf4a"/>
<rect x="45.03" y="539.68" width="0.91" height="0.80" fill="#5b9bd5"/>
<rect x="46.14" y="541.26" width="0.91" height="5.04" fill="#4daf4a"/>
<rect x="46.14" y="539.53" width="0.91" height="1.73" fill="#5b9bd5"/>
<rect x="46.14" y="538.50" width="0.91" height="1.03" fill="#5b9bd5"/>
<rect x="47.26" y="540.74" width="0.91" height="5.56" fill="#4daf4a"/>
<rect x="47.26" y="539.55" width="0.91" height="1.19" fill="#e41a1c"/>
<rect x="47.26" y="538.20" width="0.91" height="1.35" fill="#984ea3"/>
<rect x="47.26" y="536.16" width="0.91" height="2.04" fill="#ff7f00"/>
<rect x="48.37" y="539.44" width="0.91" height="6.86" fill="#4daf4a"/>
<rect x="49.49" y="539.99" width="0.91" height="6.31" fill="#4daf4a"/>
<rect x="49.49" y="539.13" width="0.91" height="0.86" fill="#5b9bd5"/>
<rect x="49.49" y="538.82" width="0.91" height="0.31" fill="#984ea3"/>
<rect x="50.60" y="536.49" width="0.91" height="9.81" fill="#4daf4a"/>
<rect x="50.60" y="535.02" width="0.91" height="1.47" fill="#ff7f00"/>
<rect x="51.72" y="537.79" width="0.91" height="8.51" fill="#4daf4a"/>
<rect x="51.72" y="535.99" width="0.91" height="1.80" fill="#ff7f00"/>
<rect x="51.72" y="535.91" width="0.91" height="0.07" fill="#5b9bd5"/>
<rect x="52.83" y="539.58" width="0.91" height="6.72" fill="#4daf4a"/>
<rect x="53.94" y="543.01" width="0.91" height="3.29" fill="#4daf4a"/>
<rect x="53.94" y="541.02" width="0.91" height="1.98" fill="#984ea3"/>
<rect x="53.94" y="539.88" width="0.91" height="1.15" fill="#e41a1c"/>
<rect x="55.06" y="540.99" width="0.91" height="5.31" fill="#4daf4a"/>
<rect x="56.17" y="541.40" width="0.91" height="4.90" fill="#4daf4a"/>
<rect x="56.17" y="540.33" width="0.91" height="1.07" fill="#e41a1c"/>
<rect x="57.29" y="543.82" width="0.91" height="2.48" fill="#4daf4a"/>
<rect x="57.29" y="543.48" width="0.91" height="0.34" fill="#5b9bd5"/>
<rect x="58.40" y="544.74" width="0.91" height="1.56" fill="#4daf4a"/>
<rect x="58.40" y="543.51" width="0.91" height="1.23" fill="#ff7f00"/>
<rect x="59.52" y="544.18" width="0.91" height="2.12" fill="#4daf4a"/>
<rect x="59.52" y="543.46" width="0.91" height="0.71" fill="#e41a1c"/>
<rect x="60.63" y="544.51" width="0.91" height="1.79" fill="#4daf4a"/>
<rect x="60.63" y="543.44" width="0.91" height="1.07" fill="#e41a1c"/>
<rect x="61.74" y="543.98" width="0.91" height="2.32" fill="#4daf4a"/>
<rect x="62.86" y="539.61" width="0.91" height="6.69" fill="#4daf4a"/>
<rect x="62.86" y="538.73" width="0.91" height="0.88" fill="#e41a1c"/>
<rect x="63.97" y="537.16" width="0.91" height="9.14" fill="#4daf4a"/>
<rect x="65.09" y="543.54" width="0.91" height="2.76" fill="#4daf4a"/>
<rect x="65.09" y="542.46" width="0.91" height="1.08" fill="#5b9bd5"/>
<rect x="66.20" y="542.96" width="0.91" height="3.34" fill="#4daf4a"/>
<rect x="66.20" y="542.01" width="0.91" height="0.95" fill="#ff7f00"/>
<rect x="67.32" y="544.07" width="0.91" height="2.23" fill="#4daf4a"/>
<rect x="67.32" y="542.66" width="0.91" height="1.41" fill="#ff7f00"/>
<rect x="68.43" y="541.70" width="0.91" height="4.60" fill="#4daf4a"/>
<rect x="68.43" y="539.54" width="0.91" height="2.16" fill="#e41a1c"/>
<rect x="68.43" y="538.25" width="0.91" height="1.28" fill="#ff7f00"/>
<rect x="69.54" y="542.40" width="0.91" height="3.90" fill="#4daf4a"/>
<rect x="69.54" y="540.80" width="0.91" height="1.60" fill="#984ea3"/>
<rect x="69.54" y="539.97" width="0.91" height="0.83" fill="#984ea3"/>
<rect x="70.66" y="542.54" width="0.91" height="3.76" fill="#4daf4a"/>
<rect x="70.66" y="540.42" width="0.91" height="2.12" fill="#e41a1c"/>
<rect x="71.77" y="541.78" width="0.91" height="4.52" fill="#4daf4a"/>
<rect x="71.77" y="540.13" width="0.91" height="1.65" fill="#5b9bd5"/>
<rect x="71.77" y="539.91" width="0.91" height="0.22" fill="#984ea3"/>
<rect x="72.89" y="541.40" width="0.91" height="4.90" fill="#4daf4a"/>
<rect x="72.89" y="539.99" width="0.91" height="1.41" fill="#5b9bd5"/>
<rect x="74.00" y="542.88" width="0.91" height="3.42" fill="#4daf4a"/>
<rect x="74.00" y="541.63" width="0.91" height="1.25" fill="#5b9bd5"/>
<rect x="75.12" y="542.81" width="0.91" height="3.49" fill="#4daf4a"/>
<rect x="75.12" y="542.18" width="0.91" height="0.63" fill="#5b9bd5"/>
<rect x="76.23" y="543.35" width="0.91" height="2.95" fill="#4daf4a"/>
<rect x="76.23" y="542.37" width="0.91" height="0.98" fill="#5b9bd5"/>
<rect x="77.35" y="541.59" width="0.91" height="4.71" fill="#4daf4a"/>
<rect x="78.46" y="542.50" width="0.91" height="3.80" fill="#4daf4a"/>
<rect x="79.57" y="543.14" width="0.91" height="3.16" fill="#4daf4a"/>
<rect x="80.69" y="542.15" width="0.91" height="4.15" fill="#4daf4a"/>
<rect x="81.80" y="542.37" width="0.91" height="3.93" fill="#4daf4a"/>
<rect x="82.92" y="544.33" width="0.91" height="1.97" fill="#4daf4a"/>
<rect x="82.92" y="543.65" width="0.91" height="0.68" fill="#e41a1c"/>
<rect x="84.03" y="544.43" width="0.91" height="1.87" fill="#4daf4a"/>
<rect x="84.03" y="543.38" width="0.91" height="1.05" fill="#5b9bd5"/>
<rect x="85.15" y="544.09" width="0.91" height="2.21" fill="#4daf4a"/>
<rect x="85.15" y="543.22" width="0.91" height="0.87" fill="#ff7f00"/>
<rect x="86.26" y="544.25" width="0.91" height="2.05" fill="#4daf4a"/>
<rect x="86.26" y="543.08" width="0.91" height="1.17" fill="#984ea3"/>
<rect x="87.37" y="542.72" width="0.91" height="3.58" fill="#4daf4a"/>
<rect x="87.37" y="541.96" width="0.91" height="0.76" fill="#984ea3"/>
<rect x="88.49" y="543.03" width="0.91" height="3.27" fill="#4daf4a"/>
<rect x="89.60" y="544.47" width="0.91" height="1.83" fill="#4daf4a"/>
<rect x="89.60" y="543.46" width="0.91" height="1.01" fill="#5b9bd5"/>
<rect x="89.60" y="543.14" width="0.91" height="0.31" fill="#5b9bd5"/>
<rect x="90.72" y="544.08" width="0.91" height="2.22" fill="#4daf4a"/>
<rect x="90.72" y="543.74" width="0.91" height="0.34" fill="#984ea3"/>
<rect x="91.83" y="544.46" width="0.91" height="1.84" fill="#4daf4a"/>
<rect x="91.83" y="543.48" width="0.91" height="0.99" fill="#e41a1c"/>
<rect x="92.95" y="544.62" width="0.91" height="1.68" fill="#4daf4a"/>
<rect x="92.95" y="544.16" width="0.91" height="0.46" fill="#5b9bd5"/>
<rect x="94.06" y="544.31" width="0.91" height="1.99" fill="#4daf4a"/>
<rect x="94.06" y="544.07" width="0.91" height="0.24" fill="#5b9bd5"/>
<rect x="95.18" y="545.22" width="0.91" height="1.08" fill="#4daf4a"/>
<rect x="95.18" y="544.56" width="0.91" height="0.65" fill="#5b9bd5"/>
<rect x="96.29" y="544.79" width="0.91" height="1.51" fill="#4daf4a"/>
<rect x="97.40" y="545.32" width="0.91" height="0.98" fill="#4daf4a"/>
<rect x="97.40" y="544.70" width="0.91" height="0.61" fill="#5b9bd5"/>
<rect x="98.52" y="545.55" width="0.91" height="0.75" fill="#4daf4a"/>
<rect x="98.52" y="545.07" width="0.91" height="0.48" fill="#5b9bd5"/>
<rect x="99.63" y="545.53" width="0.91" height="0.77" fill="#4daf4a"/>
<rect x="99.63" y="544.93" width="0.91" height="0.60" fill="#ff7f00"/>
<rect x="100.75" y="539.04" width="0.91" height="7.26" fill="#4daf4a"/>
<rect x="100.75" y="536.86" width="0.91" height="2.18" fill="#5b9bd5"/>
<rect x="100.75" y="536.04" width="0.91" height="0.82" fill="#5b9bd5"/>
<rect x="101.86" y="540.29" width="0.91" height="6.01" fill="#4daf4a"/>
<rect x="101.86" y="539.02" width="0.91" height="1.27" fill="#5b9bd5"/>
<rect x="101.86" y="537.47" width="0.91" height="1.54" fill="#984ea3"/>
<rect x="101.86" y="536.83" width="0.91" height="0.64" fill="#5b9bd5"/>
<rect x="102.98" y="540.58" width="0.91" height="5.72" fill="#4daf4a"/>
<rect x="102.98" y="538.31" width="0.91" height="2.27" fill="#e41a1c"/>
<rect x="102.98" y="537.92" width="0.91" height="0.40" fill="#5b9bd5"/>
<rect x="104.09" y="538.52" width="0.91" height="7.78" fill="#4daf4a"/>
<rect x="104.09" y="537.47" width="0.91" height="1.05" fill="#5b9bd5"/>
<rect x="105.20" y="539.67" width="0.91" height="6.63" fill="#4daf4a"/>
<rect x="105.20" y="537.88" width="0.91" height="1.79" fill="#e41a1c"/>
<rect x="106.32" y="536.68" width="0.91" height="9.62" fill="#4daf4a"/>
<rect x="107.43" y="537.69" width="0.91" height="8.61" fill="#4daf4a"/>
<rect x="107.43" y="536.43" width="0.91" height="1.26" fill="#e41a1c"/>
<rect x="107.43" y="534.17" width="0.91" height="2.26" fill="#5b9bd5"/>
<rect x="107.43" y="533.51" width="0.91" height="0.67" fill="#e41a1c"/>
<rect x="108.55" y="537.31" width="0.91" height="8.99" fill="#4daf4a"/>
<rect x="108.55" y="535.65" width="0.91" height="1.67" fill="#5b9bd5"/>
<rect x="108.55" y="534.74" width="0.91" height="0.91" fill="#e41a1c"/>
<rect x="108.55" y="533.51" width="0.91" height="1.23" fill="#5b9bd5"/>
<rect x="108.55" y="532.89" width="0.91" height="0.62" fill="#5b9bd5"/>
<rect x="109.66" y="540.75" width="0.91" height="5.55" fill="#4daf4a"/>
<rect x="109.66" y="539.30" width="0.91" height="1.45" fill="#e41a1c"/>
<rect x="109.66" y="538.42" width="0.91" height="0.88" fill="#5b9bd5"/>
<rect x="109.66" y="537.27" width="0.91" height="1.15" fill="#5b9bd5"/>
<rect x="109.66" y="535.78" width="0.91" height="1.50" fill="#5b9bd5"/>
<rect x="110.78" y="539.86" width="0.91" height="6.44" fill="#4daf4a"/>
<rect x="110.78" y="538.77" width="0.91" height="1.09" fill="#5b9bd5"/>
<rect x="110.78" y="537.30" width="0.91" height="1.46" fill="#5b9bd5"/>
<rect x="110.78" y="536.76" width="0.91" height="0.54" fill="#e41a1c"/>
<rect x="111.89" y="539.79" width="0.91" height="6.51" fill="#4daf4a"/>
<rect x="113.00" y="538.72" width="0.91" height="7.58" fill="#4daf4a"/>
<rect x="114.12" y="541.08" width="0.91" height="5.22" fill="#4daf4a"/>
<rect x="114.12" y="539.74" width="0.91" height="1.33" fill="#5b9bd5"/>
<rect x="115.23" y="540.40" width="0.91" height="5.90" fill="#4daf4a"/>
<rect x="116.35" y="541.24" width="0.91" height="5.06" fill="#4daf4a"/>
<rect x="116.35" y="539.39" width="0.91" height="1.85" fill="#5b9bd5"/>
<rect x="116.35" y="538.42" width="0.91" height="0.98" fill="#ff7f00"/>
<rect x="117.46" y="541.86" width="0.91" height="4.44" fill="#4daf4a"/>
<rect x="117.46" y="539.99" width="0.91" height="1.88" fill="#e41a1c"/>
<rect x="118.58" y="542.30" width="0.91" height="4.00" fill="#4daf4a"/>
<rect x="118.58" y="540.30" width="0.91" height="2.00" fill="#5b9bd5"/>
<rect x="118.58" y="539.66" width="0.91" height="0.65" fill="#984ea3"/>
<rect x="119.69" y="542.32" width="0.91" height="3.98" fill="#4daf4a"/>
<rect x="119.69" y="541.49" width="0.91" height="0.83" fill="#984ea3"/>
<rect x="119.69" y="540.55" width="0.91" height="0.94" fill="#5b9bd5"/>
<rect x="119.69" y="539.61" width="0.91" height="0.95" fill="#5b9bd5"/>
<rect x="119.69" y="539.10" width="0.91" height="0.51" fill="#e41a1c"/>
<rect x="120.81" y="541.75" width="0.91" height="4.55" fill="#4daf4a"/>
<rect x="120.81" y="540.43" width="0.91" height="1.32" fill="#5b9bd5"/>
<rect x="120.81" y="539.73" width="0.91" height="0.71" fill="#5b9bd5"/>
<rect x="121.92" y="540.27" width="0.91" height="6.03" fill="#4daf4a"/>
<rect x="123.03" y="541.69" width="0.91" height="4.61" fill="#4daf4a"/>
<rect x="123.03" y="540.71" width="0.91" height="0.99" fill="#e41a1c"/>
<rect x="123.03" y="538.59" width="0.91" height="2.11" fill="#5b9bd5"/>
<rect x="123.03" y="538.48" width="0.91" height="0.11" fill="#5b9bd5"/>
<rect x="124.15" y="540.06" width="0.91" height="6.24" fill="#4daf4a"/>
<rect x="125.26" y="542.35" width="0.91" height="3.95" fill="#4daf4a"/>
<rect x="125.26" y="540.93" width="0.91" height="1.42" fill="#5b9bd5"/>
<rect x="125.26" y="540.12" width="0.91" height="0.81" fill="#984ea3"/>
<rect x="126.38" y="543.11" width="0.91" height="3.19" fill="#4daf4a"/>
<rect x="126.38" y="541.56" width="0.91" height="1.55" fill="#5b9bd5"/>
<rect x="127.49" y="542.61" width="0.91" height="3.69" fill="#4daf4a"/>
<rect x="127.49" y="541.66" width="0.91" height="0.95" fill="#5b9bd5"/>
<rect x="128.61" y="542.65" width="0.91" height="3.65" fill="#4daf4a"/>
<rect x="129.72" y="542.86" width="0.91" height="3.44" fill="#4daf4a"/>
<rect x="129.72" y="542.37" width="0.91" height="0.49" fill="#984ea3"/>
<rect x="130.83" y="541.64" width="0.91" height="4.66" fill="#4daf4a"/>
<rect x="130.83" y="540.86" width="0.91" height="0.78" fill="#5b9bd5"/>
<rect x="131.95" y="542.65" width="0.91" height="3.65" fill="#4daf4a"/>
<rect x="131.95" y="540.81" width="0.91" height="1.85" fill="#5b9bd5"/>
<rect x="131.95" y="539.98" width="0.91" height="0.83" fill="#5b9bd5"/>
<rect x="133.06" y="540.67" width="0.91" height="5.63" fill="#4daf4a"/>
<rect x="133.06" y="539.70" width="0.91" height="0.98" fill="#5b9bd5"/>
<rect x="133.06" y="538.49" width="0.91" height="1.20" fill="#e41a1c"/>
<rect x="134.18" y="542.77" width="0.91" height="3.53" fill="#4daf4a"/>
<rect x="134.18" y="540.77" width="0.91" height="2.00" fill="#984ea3"/>
<rect x="135.29" y="541.77" width="0.91" height="4.53" fill="#4daf4a"/>
<rect x="135.29" y="540.41" width="0.91" height="1.36" fill="#5b9bd5"/>
<rect x="136.41" y="543.68" width="0.91" height="2.62" fill="#4daf4a"/>
<rect x="136.41" y="542.05" width="0.91" height="1.63" fill="#5b9bd5"/>
<rect x="137.52" y="543.32" width="0.91" height="2.98" fill="#4daf4a"/>
<rect x="137.52" y="542.22" width="0.91" height="1.10" fill="#5b9bd5"/>
<rect x="138.63" y="542.84" width="0.91" height="3.46" fill="#4daf4a"/>
<rect x="138.63" y="541.82" width="0.91" height="1.02" fill="#984ea3"/>
<rect x="139.75" y="543.53" width="0.91" height="2.77" fill="#4daf4a"/>
<rect x="139.75" y="542.79" width="0.91" height="0.75" fill="#e41a1c"/>
<rect x="140.86" y="542.95" width="0.91" height="3.35" fill="#4daf4a"/>
<rect x="141.98" y="540.05" width="0.91" height="6.25" fill="#4daf4a"/>
<rect x="141.98" y="538.82" width="0.91" height="1.23" fill="#e41a1c"/>
<rect x="141.98" y="538.40" width="0.91" height="0.42" fill="#5b9bd5"/>
<rect x="143.09" y="537.91" width="0.91" height="8.39" fill="#4daf4a"/>
<rect x="144.21" y="541.21" width="0.91" height="5.09" fill="#4daf4a"/>
<rect x="144.21" y="539.30" width="0.91" height="1.92" fill="#5b9bd5"/>
<rect x="145.32" y="543.33" width="0.91" height="2.97" fill="#4daf4a"/>
<rect x="145.32" y="541.78" width="0.91" height="1.55" fill="#e41a1c"/>
<rect x="145.32" y="540.77" width="0.91" height="1.01" fill="#e41a1c"/>
<rect x="146.44" y="540.38" width="0.91" height="5.92" fill="#4daf4a"/>
<rect x="147.55" y="542.83" width="0.91" height="3.47" fill="#4daf4a"/>
<rect x="147.55" y="541.95" width="0.91" height="0.88" fill="#5b9bd5"/>
<rect x="147.55" y="540.73" width="0.91" height="1.22" fill="#e41a1c"/>
<rect x="148.66" y="542.74" width="0.91" height="3.56" fill="#4daf4a"/>
<rect x="148.66" y="541.09" width="0.91" height="1.65" fill="#5b9bd5"/>
<rect x="148.66" y="540.92" width="0.91" height="0.18" fill="#5b9bd5"/>
<rect x="149.78" y="543.39" width="0.91" height="2.91" fill="#4daf4a"/>
<rect x="149.78" y="542.47" width="0.91" height="0.92" fill="#e41a1c"/>
<rect x="149.78" y="541.15" width="0.91" height="1.32" fill="#e41a1c"/>
<rect x="150.89" y="541.73" width="0.91" height="4.57" fill="#4daf4a"/>
<rect x="150.89" y="540.33" width="0.91" height="1.40" fill="#5b9bd5"/>
<rect x="150.89" y="540.03" width="0.91" height="0.30" fill="#ff7f00"/>
<rect x="152.01" y="542.58" width="0.91" height="3.72" fill="#4daf4a"/>
<rect x="152.01" y="542.16" width="0.91" height="0.41" fill="#5b9bd5"/>
<rect x="153.12" y="542.74" width="0.91" height="3.56" fill="#4daf4a"/>
<rect x="154.24" y="543.63" width="0.91" height="2.67" fill="#4daf4a"/>
<rect x="154.24" y="542.62" width="0.91" height="1.01" fill="#5b9bd5"/>
<rect x="154.24" y="542.03" width="0.91" height="0.59" fill="#5b9bd5"/>
<rect x="155.35" y="544.46" width="0.91" height="1.84" fill="#4daf4a"/>
<rect x="155.35" y="543.90" width="0.91" height="0.56" fill="#e41a1c"/>
<rect x="156.46" y="543.98" width="0.91" height="2.32" fill="#4daf4a"/>
<rect x="157.58" y="545.07" width="0.91" height="1.23" fill="#4daf4a"/>
<rect x="157.58" y="544.41" width="0.91" height="0.66" fill="#5b9bd5"/>
<rect x="158.69" y="544.38" width="0.91" height="1.92" fill="#4daf4a"/>
<rect x="158.69" y="543.92" width="0.91" height="0.46" fill="#ff7f00"/>
<rect x="159.81" y="541.51" width="0.91" height="4.79" fill="#4daf4a"/>
<rect x="159.81" y="540.01" width="0.91" height="1.51" fill="#5b9bd5"/>
<rect x="159.81" y="539.74" width="0.91" height="0.26" fill="#5b9bd5"/>
<rect x="160.92" y="542.64" width="0.91" height="3.66" fill="#4daf4a"/>
<rect x="160.92" y="541.63" width="0.91" height="1.01" fill="#5b9bd5"/>
<rect x="160.92" y="540.70" width="0.91" height="0.94" fill="#5b9bd5"/>
<rect x="162.04" y="542.87" width="0.91" height="3.43" fill="#4daf4a"/>
<rect x="162.04" y="541.97" width="0.91" height="0.90" fill="#5b9bd5"/>
<rect x="162.04" y="541.12" width="0.91" height="0.84" fill="#5b9bd5"/>
<rect x="162.04" y="540.71" width="0.91" height="0.41" fill="#984ea3"/>
<rect x="163.15" y="542.46" width="0.91" height="3.84" fill="#4daf4a"/>
<rect x="163.15" y="541.94" width="0.91" height="0.52" fill="#5b9bd5"/>
<rect x="164.27" y="542.50" width="0.91" height="3.80" fill="#4daf4a"/>
<rect x="165.38" y="542.67" width="0.91" height="3.63" fill="#4daf4a"/>
<rect x="166.49" y="542.27" width="0.91" height="4.03" fill="#4daf4a"/>
<rect x="167.61" y="542.89" width="0.91" height="3.41" fill="#4daf4a"/>
<rect x="167.61" y="541.71" width="0.91" height="1.18" fill="#5b9bd5"/>
<rect x="168.72" y="544.58" width="0.91" height="1.72" fill="#4daf4a"/>
<rect x="168.72" y="544.20" width="0.91" height="0.38" fill="#984ea3"/>
<rect x="169.84" y="544.20" width="0.91" height="2.10" fill="#4daf4a"/>
<rect x="170.95" y="544.07" width="0.91" height="2.23" fill="#4daf4a"/>
<rect x="172.07" y="545.31" width="0.91" height="0.99" fill="#4daf4a"/>
<rect x="172.07" y="544.54" width="0.91" height="0.77" fill="#e41a1c"/>
<rect x="173.18" y="544.07" width="0.91" height="2.23" fill="#4daf4a"/>
<rect x="174.29" y="545.04" width="0.91" height="1.26" fill="#4daf4a"/>
<rect x="174.29" y="543.88" width="0.91" height="1.16" fill="#5b9bd5"/>
<rect x="175.41" y="543.80" width="0.91" height="2.50" fill="#4daf4a"/>
<rect x="176.52" y="541.72" width="0.91" height="4.58" fill="#4daf4a"/>
<rect x="176.52" y="540.60" width="0.91" height="1.12" fill="#e41a1c"/>
<rect x="176.52" y="539.62" width="0.91" height="0.98" fill="#984ea3"/>
<rect x="177.64" y="541.88" width="0.91" height="4.42" fill="#4daf4a"/>
<rect x="177.64" y="539.79" width="0.91" height="2.09" fill="#5b9bd5"/>
<rect x="177.64" y="539.47" width="0.91" height="0.32" fill="#5b9bd5"/>
<rect x="178.75" y="542.68" width="0.91" height="3.62" fill="#4daf4a"/>
<rect x="179.87" y="544.45" width="0.91" height="1.85" fill="#4daf4a"/>
<rect x="179.87" y="543.01" width="0.91" height="1.44" fill="#ff7f00"/>
<rect x="179.87" y="542.85" width="0.91" height="0.16" fill="#e41a1c"/>
<rect x="180.98" y="543.33" width="0.91" height="2.97" fill="#4daf4a"/>
<rect x="180.98" y="542.00" width="0.91" height="1.33" fill="#5b9bd5"/>
<rect x="182.09" y="544.13" width="0.91" height="2.17" fill="#4daf4a"/>
<rect x="182.09" y="542.51" width="0.91" height="1.62" fill="#5b9bd5"/>
<rect x="182.09" y="541.99" width="0.91" height="0.52" fill="#5b9bd5"/>
<rect x="183.21" y="544.89" width="0.91" height="1.41" fill="#4daf4a"/>
<rect x="184.32" y="545.33" width="0.91" height="0.97" fill="#4daf4a"/>
<rect x="184.32" y="544.89" width="0.91" height="0.44" fill="#5b9bd5"/>
<rect x="185.44" y="545.21" width="0.91" height="1.09" fill="#4daf4a"/>
<rect x="185.44" y="544.81" width="0.91" height="0.40" fill="#5b9bd5"/>
<rect x="186.55" y="545.30" width="0.91" height="1.00" fill="#4daf4a"/>
<rect x="186.55" y="544.76" width="0.91" height="0.55" fill="#e41a1c"/>
<rect x="187.67" y="543.03" width="0.91" height="3.27" fill="#4daf4a"/>
<rect x="188.78" y="544.11" width="0.91" height="2.19" fill="#4daf4a"/>
<rect x="188.78" y="543.31" width="0.91" height="0.80" fill="#5b9bd5"/>
<rect x="189.90" y="544.29" width="0.91" height="2.01" fill="#4daf4a"/>
<rect x="189.90" y="543.00" width="0.91" height="1.29" fill="#5b9bd5"/>
<rect x="191.01" y="543.38" width="0.91" height="2.92" fill="#4daf4a"/>
<rect x="192.12" y="543.58" width="0.91" height="2.72" fill="#4daf4a"/>
<rect x="192.12" y="542.06" width="0.91" height="1.52" fill="#e41a1c"/>
<rect x="193.24" y="542.74" width="0.91" height="3.56" fill="#4daf4a"/>
<rect x="194.35" y="543.83" width="0.91" height="2.47" fill="#4daf4a"/>
<rect x="194.35" y="543.26" width="0.91" height="0.56" fill="#5b9bd5"/>
<rect x="195.47" y="542.86" width="0.91" height="3.44" fill="#4daf4a"/>
<rect x="195.47" y="542.00" width="0.91" height="0.86" fill="#e41a1c"/>
<rect x="196.58" y="543.23" width="0.91" height="3.07" fill="#4daf4a"/>
<rect x="196.58" y="542.26" width="0.91" height="0.97" fill="#984ea3"/>
<rect x="196.58" y="541.61" width="0.91" height="0.64" fill="#5b9bd5"/>
<rect x="197.70" y="544.14" width="0.91" height="2.16" fill="#4daf4a"/>
<rect x="197.70" y="542.74" width="0.91" height="1.40" fill="#5b9bd5"/>
<rect x="198.81" y="544.38" width="0.91" height="1.92" fill="#4daf4a"/>
<rect x="198.81" y="542.95" width="0.91" height="1.42" fill="#5b9bd5"/>
<rect x="199.92" y="544.64" width="0.91" height="1.66" fill="#4daf4a"/>
<rect x="199.92" y="543.96" width="0.91" height="0.67" fill="#ff7f00"/>
<rect x="201.04" y="543.96" width="0.91" height="2.34" fill="#4daf4a"/>
<rect x="202.15" y="544.43" width="0.91" height="1.87" fill="#4daf4a"/>
<rect x="202.15" y="543.51" width="0.91" height="0.93" fill="#ff7f00"/>
<rect x="203.27" y="544.88" width="0.91" height="1.42" fill="#4daf4a"/>
<rect x="203.27" y="543.82" width="0.91" height="1.06" fill="#5b9bd5"/>
<rect x="204.38" y="544.28" width="0.91" height="2.02" fill="#4daf4a"/>
<rect x="204.38" y="543.74" width="0.91" height="0.53" fill="#e41a1c"/>
<rect x="205.50" y="545.21" width="0.91" height="1.09" fill="#4daf4a"/>
<rect x="205.50" y="544.23" width="0.91" height="0.97" fill="#e41a1c"/>
<rect x="206.61" y="544.79" width="0.91" height="1.51" fill="#4daf4a"/>
<rect x="206.61" y="543.74" width="0.91" height="1.04" fill="#e41a1c"/>
<rect x="207.72" y="543.55" width="0.91" height="2.75" fill="#4daf4a"/>
<rect x="208.84" y="543.72" width="0.91" height="2.58" fill="#4daf4a"/>
<rect x="209.95" y="544.48" width="0.91" height="1.82" fill="#4daf4a"/>
<rect x="209.95" y="544.04" width="0.91" height="0.44" fill="#e41a1c"/>
<rect x="211.07" y="544.13" width="0.91" height="2.17" fill="#4daf4a"/>
<rect x="211.07" y="543.66" width="0.91" height="0.47" fill="#5b9bd5"/>
<rect x="212.18" y="545.81" width="0.91" height="0.49" fill="#4daf4a"/>
<rect x="212.18" y="545.45" width="0.91" height="0.36" fill="#5b9bd5"/>
<rect x="213.30" y="545.60" width="0.91" height="0.70" fill="#4daf4a"/>
<rect x="213.30" y="545.42" width="0.91" height="0.18" fill="#5b9bd5"/>
<rect x="214.41" y="545.77" width="0.91" height="0.53" fill="#4daf4a"/>
<rect x="214.41" y="545.25" width="0.91" height="0.52" fill="#984ea3"/>
<rect x="215.53" y="545.54" width="0.91" height="0.76" fill="#4daf4a"/>
<rect x="216.64" y="545.62" width="0.91" height="0.68" fill="#4daf4a"/>
<rect x="216.64" y="545.45" width="0.91" height="0.17" fill="#ff7f00"/>
<rect x="217.75" y="545.65" width="0.91" height="0.65" fill="#4daf4a"/>
<rect x="217.75" y="545.58" width="0.91" height="0.07" fill="#e41a1c"/>
<rect x="218.87" y="545.66" width="0.91" height="0.64" fill="#4daf4a"/>
<rect x="218.87" y="545.26" width="0.91" height="0.40" fill="#5b9bd5"/>
<rect x="219.98" y="542.20" width="0.91" height="4.10" fill="#4daf4a"/>
<rect x="219.98" y="540.05" width="0.91" height="2.16" fill="#5b9bd5"/>
<rect x="219.98" y="539.85" width="0.91" height="0.20" fill="#5b9bd5"/>
<rect x="221.10" y="540.40" width="0.91" height="5.90" fill="#4daf4a"/>
<rect x="221.10" y="539.37" width="0.91" height="1.03" fill="#5b9bd5"/>
<rect x="221.10" y="538.82" width="0.91" height="0.55" fill="#5b9bd5"/>
<rect x="222.21" y="541.40" width="0.91" height="4.90" fill="#4daf4a"/>
<rect x="222.21" y="539.11" width="0.91" height="2.29" fill="#5b9bd5"/>
<rect x="222.21" y="538.82" width="0.91" height="0.29" fill="#5b9bd5"/>
<rect x="223.33" y="542.58" width="0.91" height="3.72" fill="#4daf4a"/>
<rect x="224.44" y="544.44" width="0.91" height="1.86" fill="#4daf4a"/>
<rect x="224.44" y="543.24" width="0.91" height="1.20" fill="#e41a1c"/>
<rect x="224.44" y="542.64" width="0.91" height="0.61" fill="#5b9bd5"/>
<rect x="225.55" y="543.58" width="0.91" height="2.72" fill="#4daf4a"/>
<rect x="226.67" y="543.59" width="0.91" height="2.71" fill="#4daf4a"/>
<rect x="226.67" y="542.65" width="0.91" height="0.94" fill="#ff7f00"/>
<rect x="226.67" y="542.36" width="0.91" height="0.29" fill="#e41a1c"/>
<rect x="227.78" y="542.98" width="0.91" height="3.32" fill="#4daf4a"/>
<rect x="228.90" y="544.16" width="0.91" height="2.14" fill="#4daf4a"/>
<rect x="228.90" y="543.13" width="0.91" height="1.03" fill="#5b9bd5"/>
<rect x="230.01" y="543.98" width="0.91" height="2.32" fill="#4daf4a"/>
<rect x="230.01" y="543.37" width="0.91" height="0.62" fill="#5b9bd5"/>
<rect x="231.13" y="542.83" width="0.91" height="3.47" fill="#4daf4a"/>
<rect x="231.13" y="542.44" width="0.91" height="0.39" fill="#984ea3"/>
<rect x="232.24" y="544.40" width="0.91" height="1.90" fill="#4daf4a"/>
<rect x="232.24" y="543.45" width="0.91" height="0.94" fill="#984ea3"/>
<rect x="233.36" y="545.48" width="0.91" height="0.82" fill="#4daf4a"/>
<rect x="233.36" y="544.95" width="0.91" height="0.53" fill="#ff7f00"/>
<rect x="234.47" y="545.32" width="0.91" height="0.98" fill="#4daf4a"/>
<rect x="234.47" y="545.08" width="0.91" height="0.23" fill="#5b9bd5"/>
<rect x="235.58" y="543.94" width="0.91" height="2.36" fill="#4daf4a"/>
<rect x="235.58" y="543.55" width="0.91" height="0.39" fill="#e41a1c"/>
<rect x="236.70" y="543.85" width="0.91" height="2.45" fill="#4daf4a"/>
<rect x="236.70" y="542.79" width="0.91" height="1.06" fill="#e41a1c"/>
<rect x="237.81" y="543.47" width="0.91" height="2.83" fill="#4daf4a"/>
<rect x="238.93" y="544.32" width="0.91" height="1.98" fill="#4daf4a"/>
<rect x="238.93" y="543.22" width="0.91" height="1.10" fill="#5b9bd5"/>
<rect x="238.93" y="542.43" width="0.91" height="0.79" fill="#5b9bd5"/>
<rect x="240.04" y="544.70" width="0.91" height="1.60" fill="#4daf4a"/>
<rect x="240.04" y="544.33" width="0.91" height="0.37" fill="#5b9bd5"/>
<rect x="241.16" y="544.66" width="0.91" height="1.64" fill="#4daf4a"/>
<rect x="242.27" y="544.82" width="0.91" height="1.48" fill="#4daf4a"/>
<rect x="242.27" y="544.58" width="0.91" height="0.24" fill="#e41a1c"/>
<rect x="243.38" y="544.18" width="0.91" height="2.12" fill="#4daf4a"/>
<rect x="244.50" y="544.98" width="0.91" height="1.32" fill="#4daf4a"/>
<rect x="244.50" y="544.46" width="0.91" height="0.52" fill="#5b9bd5"/>
<rect x="245.61" y="545.46" width="0.91" height="0.84" fill="#4daf4a"/>
<rect x="245.61" y="544.70" width="0.91" height="0.77" fill="#e41a1c"/>
<rect x="246.73" y="545.01" width="0.91" height="1.29" fill="#4daf4a"/>
<rect x="246.73" y="544.57" width="0.91" height="0.44" fill="#5b9bd5"/>
<rect x="247.84" y="541.28" width="0.91" height="5.02" fill="#4daf4a"/>
<rect x="248.96" y="542.39" width="0.91" height="3.91" fill="#4daf4a"/>
<rect x="248.96" y="541.48" width="0.91" height="0.91" fill="#e41a1c"/>
<rect x="250.07" y="544.77" width="0.91" height="1.53" fill="#4daf4a"/>
<rect x="250.07" y="544.55" width="0.91" height="0.23" fill="#ff7f00"/>
<rect x="251.18" y="544.59" width="0.91" height="1.71" fill="#4daf4a"/>
<rect x="251.18" y="544.36" width="0.91" height="0.23" fill="#ff7f00"/>
<rect x="252.30" y="542.36" width="0.91" height="3.94" fill="#4daf4a"/>
<rect x="252.30" y="541.20" width="0.91" height="1.16" fill="#5b9bd5"/>
<rect x="253.41" y="543.09" width="0.91" height="3.21" fill="#4daf4a"/>
<rect x="253.41" y="541.40" width="0.91" height="1.69" fill="#ff7f00"/>
<rect x="254.53" y="542.95" width="0.91" height="3.35" fill="#4daf4a"/>
<rect x="254.53" y="541.42" width="0.91" height="1.53" fill="#5b9bd5"/>
<rect x="254.53" y="541.26" width="0.91" height="0.17" fill="#e41a1c"/>
<rect x="255.64" y="544.09" width="0.91" height="2.21" fill="#4daf4a"/>
<rect x="256.76" y="543.94" width="0.91" height="2.36" fill="#4daf4a"/>
<rect x="257.87" y="544.72" width="0.91" height="1.58" fill="#4daf4a"/>
<rect x="257.87" y="543.82" width="0.91" height="0.90" fill="#e41a1c"/>
<rect x="258.99" y="544.85" width="0.91" height="1.45" fill="#4daf4a"/>
<rect x="258.99" y="543.91" width="0.91" height="0.95" fill="#ff7f00"/>
<rect x="260.10" y="545.89" width="0.91" height="0.41" fill="#4daf4a"/>
<rect x="260.10" y="545.62" width="0.91" height="0.27" fill="#e41a1c"/>
<rect x="261.21" y="545.68" width="0.91" height="0.62" fill="#4daf4a"/>
<rect x="261.21" y="545.47" width="0.91" height="0.22" fill="#984ea3"/>
<rect x="262.33" y="545.57" width="0.91" height="0.73" fill="#4daf4a"/>
<rect x="263.44" y="545.89" width="0.91" height="0.41" fill="#4daf4a"/>
<rect x="263.44" y="545.71" width="0.91" height="0.18" fill="#5b9bd5"/>
<rect x="264.56" y="545.91" width="0.91" height="0.39" fill="#4daf4a"/>
<rect x="264.56" y="545.72" width="0.91" height="0.19" fill="#e41a1c"/>
<rect x="265.67" y="545.55" width="0.91" height="0.75" fill="#4daf4a"/>
<rect x="266.79" y="545.46" width="0.91" height="0.84" fill="#4daf4a"/>
<rect x="34.90" y="528.40" width="232.90" height="17.90" fill="none" stroke="#8a8a8a" stroke-width="0.55"/>
<line x1="33.70" y1="546.30" x2="34.90" y2="546.30" stroke="#777" stroke-width="0.4"/>
<text x="33.30" y="547.30" font-family='"Liberation Sans", sans-serif' font-size="2.7" font-weight="normal" text-anchor="end" fill="#555">0</text>
<line x1="33.70" y1="541.82" x2="34.90" y2="541.82" stroke="#777" stroke-width="0.4"/>
<text x="33.30" y="542.82" font-family='"Liberation Sans", sans-serif' font-size="2.7" font-weight="normal" text-anchor="end" fill="#555">5</text>
<line x1="33.70" y1="537.35" x2="34.90" y2="537.35" stroke="#777" stroke-width="0.4"/>
<text x="33.30" y="538.35" font-family='"Liberation Sans", sans-serif' font-size="2.7" font-weight="normal" text-anchor="end" fill="#555">10</text>
<line x1="33.70" y1="532.88" x2="34.90" y2="532.88" stroke="#777" stroke-width="0.4"/>
<text x="33.30" y="533.88" font-family='"Liberation Sans", sans-serif' font-size="2.7" font-weight="normal" text-anchor="end" fill="#555">15</text>
<line x1="33.70" y1="528.40" x2="34.90" y2="528.40" stroke="#777" stroke-width="0.4"/>
<text x="33.30" y="529.40" font-family='"Liberation Sans", sans-serif' font-size="2.7" font-weight="normal" text-anchor="end" fill="#555">20</text>
<text x="151.35" y="526.00" font-family='"Liberation Sans", sans-serif' font-size="4.28" font-weight="normal" text-anchor="middle" fill="#333">Top15 Mutation Gene of Group high (n=209)</text>
<text x="33.60" y="554.67" font-family='"Liberation Sans", sans-serif' font-size="2.9" font-weight="normal" text-anchor="end" fill="#555">TTN</text>
<text x="271.30" y="554.67" font-family='"Liberation Sans", sans-serif' font-size="3.0" font-weight="normal" text-anchor="middle" fill="#333">53%</text>
<text x="33.60" y="568.07" font-family='"Liberation Sans", sans-serif' font-size="2.9" font-weight="normal" text-anchor="end" fill="#555">TP53</text>
<text x="271.30" y="568.07" font-family='"Liberation Sans", sans-serif' font-size="3.0" font-weight="normal" text-anchor="middle" fill="#333">40%</text>
<text x="33.60" y="581.47" font-family='"Liberation Sans", sans-serif' font-size="2.9" font-weight="normal" text-anchor="end" fill="#555">MUC16</text>
<text x="271.30" y="581.47" font-family='"Liberation Sans", sans-serif' font-size="3.0" font-weight="normal" text-anchor="middle" fill="#333">28%</text>
<text x="33.60" y="594.88" font-family='"Liberation Sans", sans-serif' font-size="2.9" font-weight="normal" text-anchor="end" fill="#555">ARID1A</text>
<text x="271.30" y="594.88" font-family='"Liberation Sans", sans-serif' font-size="3.0" font-weight="normal" text-anchor="middle" fill="#333">27%</text>
<text x="33.60" y="608.27" font-family='"Liberation Sans", sans-serif' font-size="2.9" font-weight="normal" text-anchor="end" fill="#555">SYNE1</text>
<text x="271.30" y="608.27" font-family='"Liberation Sans", sans-serif' font-size="3.0" font-weight="normal" text-anchor="middle" fill="#333">24%</text>
<text x="33.60" y="621.67" font-family='"Liberation Sans", sans-serif' font-size="2.9" font-weight="normal" text-anchor="end" fill="#555">LRP1B</text>
<text x="271.30" y="621.67" font-family='"Liberation Sans", sans-serif' font-size="3.0" font-weight="normal" text-anchor="middle" fill="#333">22%</text>
<text x="33.60" y="635.07" font-family='"Liberation Sans", sans-serif' font-size="2.9" font-weight="normal" text-anchor="end" fill="#555">CSMD3</text>
<text x="271.30" y="635.07" font-family='"Liberation Sans", sans-serif' font-size="3.0" font-weight="normal" text-anchor="middle" fill="#333">20%</text>
<text x="33.60" y="648.47" font-family='"Liberation Sans", sans-serif' font-size="2.9" font-weight="normal" text-anchor="end" fill="#555">ACVR2A</text>
<text x="271.30" y="648.47" font-family='"Liberation Sans", sans-serif' font-size="3.0" font-weight="normal" text-anchor="middle" fill="#333">20%</text>
<text x="33.60" y="661.88" font-family='"Liberation Sans", sans-serif' font-size="2.9" font-weight="normal" text-anchor="end" fill="#555">FAT4</text>
<text x="271.30" y="661.88" font-family='"Liberation Sans", sans-serif' font-size="3.0" font-weight="normal" text-anchor="middle" fill="#333">17%</text>
<text x="33.60" y="675.27" font-family='"Liberation Sans", sans-serif' font-size="2.9" font-weight="normal" text-anchor="end" fill="#555">PCLO</text>
<text x="271.30" y="675.27" font-family='"Liberation Sans", sans-serif' font-size="3.0" font-weight="normal" text-anchor="middle" fill="#333">16%</text>
<text x="33.60" y="688.67" font-family='"Liberation Sans", sans-serif' font-size="2.9" font-weight="normal" text-anchor="end" fill="#555">ZFHX4</text>
<text x="271.30" y="688.67" font-family='"Liberation Sans", sans-serif' font-size="3.0" font-weight="normal" text-anchor="middle" fill="#333">16%</text>
<text x="33.60" y="702.07" font-family='"Liberation Sans", sans-serif' font-size="2.9" font-weight="normal" text-anchor="end" fill="#555">OBSCN</text>
<text x="271.30" y="702.07" font-family='"Liberation Sans", sans-serif' font-size="3.0" font-weight="normal" text-anchor="middle" fill="#333">16%</text>
<text x="33.60" y="715.47" font-family='"Liberation Sans", sans-serif' font-size="2.9" font-weight="normal" text-anchor="end" fill="#555">FLG</text>
<text x="271.30" y="715.47" font-family='"Liberation Sans", sans-serif' font-size="3.0" font-weight="normal" text-anchor="middle" fill="#333">15%</text>
<text x="33.60" y="728.88" font-family='"Liberation Sans", sans-serif' font-size="2.9" font-weight="normal" text-anchor="end" fill="#555">RYR2</text>
<text x="271.30" y="728.88" font-family='"Liberation Sans", sans-serif' font-size="3.0" font-weight="normal" text-anchor="middle" fill="#333">15%</text>
<text x="33.60" y="742.27" font-family='"Liberation Sans", sans-serif' font-size="2.9" font-weight="normal" text-anchor="end" fill="#555">KMT2D</text>
<text x="271.30" y="742.27" font-family='"Liberation Sans", sans-serif' font-size="3.0" font-weight="normal" text-anchor="middle" fill="#333">15%</text>
<line x1="275.40" y1="546.50" x2="275.40" y2="748.15" stroke="#8a8a8a" stroke-width="0.6"/>
<line x1="294.00" y1="546.50" x2="294.00" y2="748.15" stroke="#a8a8a8" stroke-width="0.7"/>
<line x1="275.40" y1="546.50" x2="294.00" y2="546.50" stroke="#8a8a8a" stroke-width="0.5"/>
<line x1="275.40" y1="748.15" x2="294.00" y2="748.15" stroke="#8a8a8a" stroke-width="0.5"/>
<line x1="275.40" y1="545.50" x2="275.40" y2="546.50" stroke="#777" stroke-width="0.4"/>
<text x="275.40" y="544.90" font-family='"Liberation Sans", sans-serif' font-size="2.6" font-weight="normal" text-anchor="middle" fill="#555">0</text>
<line x1="281.60" y1="545.50" x2="281.60" y2="546.50" stroke="#777" stroke-width="0.4"/>
<text x="281.60" y="544.90" font-family='"Liberation Sans", sans-serif' font-size="2.6" font-weight="normal" text-anchor="middle" fill="#555">50</text>
<line x1="287.80" y1="545.50" x2="287.80" y2="546.50" stroke="#777" stroke-width="0.4"/>
<text x="287.80" y="544.90" font-family='"Liberation Sans", sans-serif' font-size="2.6" font-weight="normal" text-anchor="middle" fill="#555">100</text>
<line x1="294.00" y1="545.50" x2="294.00" y2="546.50" stroke="#777" stroke-width="0.4"/>
<text x="294.00" y="544.90" font-family='"Liberation Sans", sans-serif' font-size="2.6" font-weight="normal" text-anchor="middle" fill="#555">150</text>
<rect x="275.40" y="550.10" width="12.00" height="7.65" fill="#4daf4a"/>
<rect x="287.40" y="550.10" width="1.20" height="7.65" fill="#377eb8"/>
<rect x="288.60" y="550.10" width="1.00" height="7.65" fill="#984ea3"/>
<rect x="275.40" y="563.50" width="5.80" height="7.65" fill="#4daf4a"/>
<rect x="281.20" y="563.50" width="1.50" height="7.65" fill="#e41a1c"/>
<rect x="282.70" y="563.50" width="1.20" height="7.65" fill="#377eb8"/>
<rect x="283.90" y="563.50" width="1.60" height="7.65" fill="#ff7f00"/>
<rect x="285.50" y="563.50" width="1.20" height="7.65" fill="#a65628"/>
<rect x="275.40" y="576.90" width="7.80" height="7.65" fill="#4daf4a"/>
<rect x="283.20" y="576.90" width="0.80" height="7.65" fill="#377eb8"/>
<rect x="284.00" y="576.90" width="0.60" height="7.65" fill="#984ea3"/>
<rect x="275.40" y="590.30" width="0.80" height="7.65" fill="#984ea3"/>
<rect x="276.20" y="590.30" width="1.60" height="7.65" fill="#e41a1c"/>
<rect x="277.80" y="590.30" width="5.20" height="7.65" fill="#377eb8"/>
<rect x="283.00" y="590.30" width="0.80" height="7.65" fill="#ff7f00"/>
<rect x="275.40" y="603.70" width="5.80" height="7.65" fill="#4daf4a"/>
<rect x="281.20" y="603.70" width="1.00" height="7.65" fill="#377eb8"/>
<rect x="282.20" y="603.70" width="0.80" height="7.65" fill="#a65628"/>
<rect x="275.40" y="617.10" width="6.20" height="7.65" fill="#4daf4a"/>
<rect x="281.60" y="617.10" width="0.80" height="7.65" fill="#377eb8"/>
<rect x="282.40" y="617.10" width="0.60" height="7.65" fill="#a65628"/>
<rect x="275.40" y="630.50" width="5.60" height="7.65" fill="#4daf4a"/>
<rect x="281.00" y="630.50" width="0.60" height="7.65" fill="#984ea3"/>
<rect x="275.40" y="643.90" width="6.40" height="7.65" fill="#377eb8"/>
<rect x="275.40" y="657.30" width="5.00" height="7.65" fill="#4daf4a"/>
<rect x="280.40" y="657.30" width="0.80" height="7.65" fill="#377eb8"/>
<rect x="281.20" y="657.30" width="0.80" height="7.65" fill="#a65628"/>
<rect x="275.40" y="670.70" width="4.20" height="7.65" fill="#4daf4a"/>
<rect x="279.60" y="670.70" width="1.20" height="7.65" fill="#377eb8"/>
<rect x="280.80" y="670.70" width="0.80" height="7.65" fill="#ff7f00"/>
<rect x="275.40" y="684.10" width="3.80" height="7.65" fill="#4daf4a"/>
<rect x="279.20" y="684.10" width="2.00" height="7.65" fill="#377eb8"/>
<rect x="275.40" y="697.50" width="2.80" height="7.65" fill="#4daf4a"/>
<rect x="278.20" y="697.50" width="1.40" height="7.65" fill="#e41a1c"/>
<rect x="279.60" y="697.50" width="1.40" height="7.65" fill="#ff7f00"/>
<rect x="275.40" y="710.90" width="5.60" height="7.65" fill="#4daf4a"/>
<rect x="275.40" y="724.30" width="3.80" height="7.65" fill="#4daf4a"/>
<rect x="279.20" y="724.30" width="1.40" height="7.65" fill="#377eb8"/>
<rect x="275.40" y="737.70" width="3.20" height="7.65" fill="#4daf4a"/>
<rect x="278.60" y="737.70" width="1.20" height="7.65" fill="#377eb8"/>
<rect x="279.80" y="737.70" width="0.80" height="7.65" fill="#984ea3"/>
<text x="296.00" y="637.20" font-family='"Liberation Sans", sans-serif' font-size="3.8" font-weight="bold" text-anchor="start" fill="#222" font-style="italic">Alterations</text>
<rect x="296.00" y="639.00" width="3.80" height="2.80" fill="#4daf4a"/>
<text x="300.70" y="641.30" font-family='"Liberation Sans", sans-serif' font-size="3.3" font-weight="normal" text-anchor="start" fill="#555">Missense_Mutation</text>
<rect x="296.00" y="642.62" width="3.80" height="2.80" fill="#e41a1c"/>
<text x="300.70" y="644.92" font-family='"Liberation Sans", sans-serif' font-size="3.3" font-weight="normal" text-anchor="start" fill="#555">Nonsense_Mutation</text>
<rect x="296.00" y="646.24" width="3.80" height="2.80" fill="#377eb8"/>
<text x="300.70" y="648.54" font-family='"Liberation Sans", sans-serif' font-size="3.3" font-weight="normal" text-anchor="start" fill="#555">Frame_Shift_Del</text>
<rect x="296.00" y="649.86" width="3.80" height="2.80" fill="#984ea3"/>
<text x="300.70" y="652.16" font-family='"Liberation Sans", sans-serif' font-size="3.3" font-weight="normal" text-anchor="start" fill="#555">Frame_Shift_Ins</text>
<rect x="296.00" y="653.48" width="3.80" height="2.80" fill="#ff7f00"/>
<text x="300.70" y="655.78" font-family='"Liberation Sans", sans-serif' font-size="3.3" font-weight="normal" text-anchor="start" fill="#555">Splice_Site</text>
<rect x="296.00" y="657.10" width="3.80" height="2.80" fill="#a65628"/>
<text x="300.70" y="659.40" font-family='"Liberation Sans", sans-serif' font-size="3.3" font-weight="normal" text-anchor="start" fill="#555">In_Frame_Del</text>
<text x="350.50" y="553.10" font-family='"Liberation Serif", serif' font-size="22.5" font-weight="normal" text-anchor="start" fill="#000" stroke="#000" stroke-width="0.5">G</text>
<rect x="387.10" y="548.30" width="233.10" height="12.75" fill="#d0d0d0"/>
<rect x="388.24" y="548.30" width="5.69" height="12.75" fill="#4daf4a"/>
<rect x="393.92" y="548.30" width="1.14" height="12.75" fill="#ff7f00"/>
<rect x="395.06" y="548.30" width="1.14" height="12.75" fill="#4daf4a"/>
<rect x="396.20" y="548.30" width="1.14" height="12.75" fill="#e41a1c"/>
<rect x="397.33" y="548.30" width="1.14" height="12.75" fill="#984ea3"/>
<rect x="398.47" y="548.30" width="5.69" height="12.75" fill="#4daf4a"/>
<rect x="405.29" y="548.30" width="1.14" height="12.75" fill="#4daf4a"/>
<rect x="406.43" y="548.30" width="1.14" height="12.75" fill="#e41a1c"/>
<rect x="407.57" y="548.30" width="2.27" height="12.75" fill="#4daf4a"/>
<rect x="410.98" y="548.30" width="1.14" height="12.75" fill="#4daf4a"/>
<rect x="412.12" y="548.30" width="1.14" height="12.75" fill="#ff7f00"/>
<rect x="413.25" y="548.30" width="2.27" height="12.75" fill="#4daf4a"/>
<rect x="415.53" y="548.30" width="1.14" height="12.75" fill="#ff7f00"/>
<rect x="416.66" y="548.30" width="1.14" height="12.75" fill="#4daf4a"/>
<rect x="417.80" y="548.30" width="1.14" height="12.75" fill="#a65628"/>
<rect x="418.94" y="548.30" width="3.41" height="12.75" fill="#4daf4a"/>
<rect x="422.35" y="548.30" width="1.14" height="12.75" fill="#ff7f00"/>
<rect x="423.49" y="548.30" width="3.41" height="12.75" fill="#4daf4a"/>
<rect x="426.90" y="548.30" width="1.14" height="12.75" fill="#e41a1c"/>
<rect x="428.03" y="548.30" width="5.69" height="12.75" fill="#4daf4a"/>
<rect x="433.72" y="548.30" width="1.14" height="12.75" fill="#e41a1c"/>
<rect x="434.86" y="548.30" width="3.41" height="12.75" fill="#4daf4a"/>
<rect x="438.27" y="548.30" width="1.14" height="12.75" fill="#e41a1c"/>
<rect x="439.41" y="548.30" width="1.14" height="12.75" fill="#4daf4a"/>
<rect x="440.54" y="548.30" width="1.14" height="12.75" fill="#e41a1c"/>
<rect x="441.68" y="548.30" width="2.27" height="12.75" fill="#4daf4a"/>
<rect x="443.95" y="548.30" width="1.14" height="12.75" fill="#ff7f00"/>
<rect x="445.09" y="548.30" width="1.14" height="12.75" fill="#4daf4a"/>
<rect x="446.23" y="548.30" width="1.14" height="12.75" fill="#e41a1c"/>
<rect x="447.36" y="548.30" width="2.27" height="12.75" fill="#4daf4a"/>
<rect x="450.78" y="548.30" width="3.41" height="12.75" fill="#4daf4a"/>
<rect x="455.32" y="548.30" width="3.41" height="12.75" fill="#4daf4a"/>
<rect x="458.74" y="548.30" width="2.27" height="12.75" fill="#ff7f00"/>
<rect x="461.01" y="548.30" width="1.14" height="12.75" fill="#e41a1c"/>
<rect x="462.15" y="548.30" width="3.41" height="12.75" fill="#4daf4a"/>
<rect x="465.56" y="548.30" width="1.14" height="12.75" fill="#e41a1c"/>
<rect x="466.70" y="548.30" width="2.27" height="12.75" fill="#4daf4a"/>
<rect x="468.97" y="548.30" width="1.14" height="12.75" fill="#e41a1c"/>
<rect x="470.11" y="548.30" width="9.10" height="12.75" fill="#4daf4a"/>
<rect x="479.20" y="548.30" width="1.14" height="12.75" fill="#ff7f00"/>
<rect x="480.34" y="548.30" width="1.14" height="12.75" fill="#984ea3"/>
<rect x="481.48" y="548.30" width="1.14" height="12.75" fill="#4daf4a"/>
<rect x="482.61" y="548.30" width="1.14" height="12.75" fill="#984ea3"/>
<rect x="483.75" y="548.30" width="4.55" height="12.75" fill="#4daf4a"/>
<rect x="489.44" y="548.30" width="1.14" height="12.75" fill="#4daf4a"/>
<rect x="490.57" y="548.30" width="1.14" height="12.75" fill="#e41a1c"/>
<rect x="491.71" y="548.30" width="1.14" height="12.75" fill="#984ea3"/>
<rect x="493.98" y="548.30" width="4.55" height="12.75" fill="#4daf4a"/>
<rect x="499.67" y="548.30" width="1.14" height="12.75" fill="#e41a1c"/>
<rect x="500.81" y="548.30" width="11.37" height="12.75" fill="#4daf4a"/>
<rect x="512.18" y="548.30" width="1.14" height="12.75" fill="#ff7f00"/>
<rect x="387.10" y="552.32" width="1.14" height="4.72" fill="#4a8cc6"/>
<rect x="404.16" y="552.32" width="1.14" height="4.72" fill="#4a8cc6"/>
<rect x="409.84" y="552.32" width="1.14" height="4.72" fill="#4a8cc6"/>
<rect x="449.64" y="552.32" width="1.14" height="4.72" fill="#4a8cc6"/>
<rect x="454.19" y="552.32" width="1.14" height="4.72" fill="#4a8cc6"/>
<rect x="488.30" y="552.32" width="1.14" height="4.72" fill="#4a8cc6"/>
<rect x="492.85" y="552.32" width="1.14" height="4.72" fill="#4a8cc6"/>
<rect x="498.53" y="552.32" width="1.14" height="4.72" fill="#4a8cc6"/>
<rect x="387.10" y="561.68" width="233.10" height="12.75" fill="#d0d0d0"/>
<rect x="387.10" y="561.68" width="25.02" height="12.75" fill="#4daf4a"/>
<rect x="412.12" y="561.68" width="1.14" height="12.75" fill="#e41a1c"/>
<rect x="413.25" y="561.68" width="19.33" height="12.75" fill="#4daf4a"/>
<rect x="432.58" y="561.68" width="1.14" height="12.75" fill="#e41a1c"/>
<rect x="433.72" y="561.68" width="17.06" height="12.75" fill="#4daf4a"/>
<rect x="450.78" y="561.68" width="1.14" height="12.75" fill="#e41a1c"/>
<rect x="451.91" y="561.68" width="5.69" height="12.75" fill="#4daf4a"/>
<rect x="515.59" y="561.68" width="19.33" height="12.75" fill="#4daf4a"/>
<rect x="538.33" y="561.68" width="28.43" height="12.75" fill="#4daf4a"/>
<rect x="513.32" y="565.70" width="1.14" height="4.72" fill="#4a8cc6"/>
<rect x="536.06" y="565.70" width="2.27" height="4.72" fill="#4a8cc6"/>
<rect x="387.10" y="575.06" width="233.10" height="12.75" fill="#d0d0d0"/>
<rect x="387.10" y="575.06" width="9.10" height="12.75" fill="#4daf4a"/>
<rect x="398.47" y="575.06" width="9.10" height="12.75" fill="#4daf4a"/>
<rect x="457.60" y="575.06" width="1.14" height="12.75" fill="#e41a1c"/>
<rect x="458.74" y="575.06" width="10.23" height="12.75" fill="#4daf4a"/>
<rect x="468.97" y="575.06" width="1.14" height="12.75" fill="#a65628"/>
<rect x="470.11" y="575.06" width="2.27" height="12.75" fill="#4daf4a"/>
<rect x="514.45" y="575.06" width="18.19" height="12.75" fill="#4daf4a"/>
<rect x="566.76" y="575.06" width="13.64" height="12.75" fill="#4daf4a"/>
<rect x="397.33" y="579.08" width="1.14" height="4.72" fill="#4a8cc6"/>
<rect x="387.10" y="588.44" width="233.10" height="12.75" fill="#d0d0d0"/>
<rect x="387.10" y="588.44" width="7.96" height="12.75" fill="#4daf4a"/>
<rect x="406.43" y="588.44" width="1.14" height="12.75" fill="#4daf4a"/>
<rect x="409.84" y="588.44" width="7.96" height="12.75" fill="#4daf4a"/>
<rect x="417.80" y="588.44" width="1.14" height="12.75" fill="#e41a1c"/>
<rect x="420.08" y="588.44" width="1.14" height="12.75" fill="#4daf4a"/>
<rect x="421.21" y="588.44" width="1.14" height="12.75" fill="#e41a1c"/>
<rect x="422.35" y="588.44" width="2.27" height="12.75" fill="#4daf4a"/>
<rect x="457.60" y="588.44" width="6.82" height="12.75" fill="#4daf4a"/>
<rect x="473.52" y="588.44" width="1.14" height="12.75" fill="#4daf4a"/>
<rect x="474.65" y="588.44" width="1.14" height="12.75" fill="#ff7f00"/>
<rect x="475.79" y="588.44" width="2.27" height="12.75" fill="#4daf4a"/>
<rect x="513.32" y="588.44" width="10.23" height="12.75" fill="#4daf4a"/>
<rect x="523.55" y="588.44" width="1.14" height="12.75" fill="#ff7f00"/>
<rect x="533.78" y="588.44" width="1.14" height="12.75" fill="#e41a1c"/>
<rect x="537.19" y="588.44" width="2.27" height="12.75" fill="#4daf4a"/>
<rect x="541.74" y="588.44" width="2.27" height="12.75" fill="#4daf4a"/>
<rect x="566.76" y="588.44" width="1.14" height="12.75" fill="#4daf4a"/>
<rect x="580.40" y="588.44" width="2.27" height="12.75" fill="#4daf4a"/>
<rect x="407.57" y="592.46" width="1.14" height="4.72" fill="#4a8cc6"/>
<rect x="534.92" y="592.46" width="1.14" height="4.72" fill="#4a8cc6"/>
<rect x="539.47" y="592.46" width="1.14" height="4.72" fill="#4a8cc6"/>
<rect x="387.10" y="601.82" width="233.10" height="12.75" fill="#d0d0d0"/>
<rect x="387.10" y="601.82" width="4.55" height="12.75" fill="#4daf4a"/>
<rect x="395.06" y="601.82" width="6.82" height="12.75" fill="#4daf4a"/>
<rect x="406.43" y="601.82" width="5.69" height="12.75" fill="#4daf4a"/>
<rect x="425.76" y="601.82" width="5.69" height="12.75" fill="#4daf4a"/>
<rect x="465.56" y="601.82" width="2.27" height="12.75" fill="#4daf4a"/>
<rect x="473.52" y="601.82" width="2.27" height="12.75" fill="#4daf4a"/>
<rect x="479.20" y="601.82" width="3.41" height="12.75" fill="#4daf4a"/>
<rect x="514.45" y="601.82" width="3.41" height="12.75" fill="#4daf4a"/>
<rect x="525.82" y="601.82" width="2.27" height="12.75" fill="#4daf4a"/>
<rect x="532.65" y="601.82" width="2.27" height="12.75" fill="#e41a1c"/>
<rect x="544.02" y="601.82" width="2.27" height="12.75" fill="#4daf4a"/>
<rect x="567.89" y="601.82" width="1.14" height="12.75" fill="#4daf4a"/>
<rect x="582.68" y="601.82" width="2.27" height="12.75" fill="#e41a1c"/>
<rect x="584.95" y="601.82" width="7.96" height="12.75" fill="#4daf4a"/>
<rect x="387.10" y="615.20" width="233.10" height="12.75" fill="#d0d0d0"/>
<rect x="388.24" y="615.20" width="1.14" height="12.75" fill="#e41a1c"/>
<rect x="403.02" y="615.20" width="1.14" height="12.75" fill="#4daf4a"/>
<rect x="406.43" y="615.20" width="1.14" height="12.75" fill="#4daf4a"/>
<rect x="430.31" y="615.20" width="1.14" height="12.75" fill="#984ea3"/>
<rect x="483.75" y="615.20" width="1.14" height="12.75" fill="#e41a1c"/>
<rect x="514.45" y="615.20" width="1.14" height="12.75" fill="#4daf4a"/>
<rect x="528.10" y="615.20" width="1.14" height="12.75" fill="#e41a1c"/>
<rect x="536.06" y="615.20" width="1.14" height="12.75" fill="#4daf4a"/>
<rect x="538.33" y="615.20" width="1.14" height="12.75" fill="#e41a1c"/>
<rect x="548.56" y="615.20" width="1.14" height="12.75" fill="#ff7f00"/>
<rect x="549.70" y="615.20" width="1.14" height="12.75" fill="#4daf4a"/>
<rect x="554.25" y="615.20" width="1.14" height="12.75" fill="#ff7f00"/>
<rect x="592.91" y="615.20" width="2.27" height="12.75" fill="#e41a1c"/>
<rect x="598.60" y="615.20" width="2.27" height="12.75" fill="#e41a1c"/>
<rect x="600.87" y="615.20" width="2.27" height="12.75" fill="#984ea3"/>
<rect x="603.14" y="615.20" width="1.14" height="12.75" fill="#e41a1c"/>
<rect x="387.10" y="619.22" width="1.14" height="4.72" fill="#4a8cc6"/>
<rect x="432.58" y="619.22" width="1.14" height="4.72" fill="#4a8cc6"/>
<rect x="472.38" y="619.22" width="1.14" height="4.72" fill="#4a8cc6"/>
<rect x="482.61" y="619.22" width="1.14" height="4.72" fill="#4a8cc6"/>
<rect x="517.86" y="619.22" width="1.14" height="4.72" fill="#4a8cc6"/>
<rect x="532.65" y="619.22" width="1.14" height="4.72" fill="#4a8cc6"/>
<rect x="534.92" y="619.22" width="1.14" height="4.72" fill="#4a8cc6"/>
<rect x="546.29" y="619.22" width="1.14" height="4.72" fill="#4a8cc6"/>
<rect x="551.98" y="619.22" width="2.27" height="4.72" fill="#4a8cc6"/>
<rect x="555.39" y="619.22" width="1.14" height="4.72" fill="#4a8cc6"/>
<rect x="569.03" y="619.22" width="1.14" height="4.72" fill="#4a8cc6"/>
<rect x="584.95" y="619.22" width="1.14" height="4.72" fill="#4a8cc6"/>
<rect x="596.32" y="619.22" width="1.14" height="4.72" fill="#4a8cc6"/>
<rect x="605.42" y="619.22" width="1.14" height="4.72" fill="#4a8cc6"/>
<rect x="387.10" y="628.58" width="233.10" height="12.75" fill="#d0d0d0"/>
<rect x="390.51" y="628.58" width="2.27" height="12.75" fill="#4daf4a"/>
<rect x="396.20" y="628.58" width="1.14" height="12.75" fill="#4daf4a"/>
<rect x="407.57" y="628.58" width="1.14" height="12.75" fill="#4daf4a"/>
<rect x="412.12" y="628.58" width="2.27" height="12.75" fill="#4daf4a"/>
<rect x="425.76" y="628.58" width="2.27" height="12.75" fill="#4daf4a"/>
<rect x="431.45" y="628.58" width="1.14" height="12.75" fill="#4daf4a"/>
<rect x="433.72" y="628.58" width="1.14" height="12.75" fill="#4daf4a"/>
<rect x="457.60" y="628.58" width="1.14" height="12.75" fill="#4daf4a"/>
<rect x="465.56" y="628.58" width="1.14" height="12.75" fill="#4daf4a"/>
<rect x="474.65" y="628.58" width="1.14" height="12.75" fill="#4daf4a"/>
<rect x="479.20" y="628.58" width="1.14" height="12.75" fill="#4daf4a"/>
<rect x="486.03" y="628.58" width="1.14" height="12.75" fill="#4daf4a"/>
<rect x="514.45" y="628.58" width="2.27" height="12.75" fill="#4daf4a"/>
<rect x="520.14" y="628.58" width="3.41" height="12.75" fill="#4daf4a"/>
<rect x="525.82" y="628.58" width="1.14" height="12.75" fill="#4daf4a"/>
<rect x="528.10" y="628.58" width="3.41" height="12.75" fill="#4daf4a"/>
<rect x="533.78" y="628.58" width="1.14" height="12.75" fill="#4daf4a"/>
<rect x="540.60" y="628.58" width="1.14" height="12.75" fill="#4daf4a"/>
<rect x="547.43" y="628.58" width="1.14" height="12.75" fill="#4daf4a"/>
<rect x="556.52" y="628.58" width="1.14" height="12.75" fill="#4daf4a"/>
<rect x="571.31" y="628.58" width="1.14" height="12.75" fill="#4daf4a"/>
<rect x="580.40" y="628.58" width="1.14" height="12.75" fill="#4daf4a"/>
<rect x="586.09" y="628.58" width="1.14" height="12.75" fill="#4daf4a"/>
<rect x="548.56" y="632.60" width="1.14" height="4.72" fill="#4a8cc6"/>
<rect x="387.10" y="641.96" width="233.10" height="12.75" fill="#d0d0d0"/>
<rect x="387.10" y="641.96" width="1.14" height="12.75" fill="#4daf4a"/>
<rect x="390.51" y="641.96" width="1.14" height="12.75" fill="#4daf4a"/>
<rect x="396.20" y="641.96" width="2.27" height="12.75" fill="#4daf4a"/>
<rect x="403.02" y="641.96" width="1.14" height="12.75" fill="#4daf4a"/>
<rect x="406.43" y="641.96" width="1.14" height="12.75" fill="#4daf4a"/>
<rect x="412.12" y="641.96" width="5.69" height="12.75" fill="#4daf4a"/>
<rect x="425.76" y="641.96" width="1.14" height="12.75" fill="#4daf4a"/>
<rect x="434.86" y="641.96" width="5.69" height="12.75" fill="#4daf4a"/>
<rect x="458.74" y="641.96" width="3.41" height="12.75" fill="#4daf4a"/>
<rect x="467.83" y="641.96" width="1.14" height="12.75" fill="#e41a1c"/>
<rect x="487.16" y="641.96" width="1.14" height="12.75" fill="#4daf4a"/>
<rect x="525.82" y="641.96" width="1.14" height="12.75" fill="#4daf4a"/>
<rect x="531.51" y="641.96" width="2.27" height="12.75" fill="#4daf4a"/>
<rect x="534.92" y="641.96" width="2.27" height="12.75" fill="#4daf4a"/>
<rect x="540.60" y="641.96" width="1.14" height="12.75" fill="#4daf4a"/>
<rect x="567.89" y="641.96" width="1.14" height="12.75" fill="#4daf4a"/>
<rect x="572.44" y="641.96" width="1.14" height="12.75" fill="#4daf4a"/>
<rect x="592.91" y="641.96" width="1.14" height="12.75" fill="#4daf4a"/>
<rect x="605.42" y="641.96" width="4.55" height="12.75" fill="#4daf4a"/>
<rect x="520.14" y="645.98" width="1.14" height="4.72" fill="#4a8cc6"/>
<rect x="387.10" y="655.34" width="233.10" height="12.75" fill="#d0d0d0"/>
<rect x="388.24" y="655.34" width="1.14" height="12.75" fill="#4daf4a"/>
<rect x="396.20" y="655.34" width="1.14" height="12.75" fill="#e41a1c"/>
<rect x="398.47" y="655.34" width="1.14" height="12.75" fill="#4daf4a"/>
<rect x="403.02" y="655.34" width="1.14" height="12.75" fill="#4daf4a"/>
<rect x="406.43" y="655.34" width="1.14" height="12.75" fill="#4daf4a"/>
<rect x="409.84" y="655.34" width="1.14" height="12.75" fill="#4daf4a"/>
<rect x="417.80" y="655.34" width="1.14" height="12.75" fill="#4daf4a"/>
<rect x="441.68" y="655.34" width="4.55" height="12.75" fill="#4daf4a"/>
<rect x="465.56" y="655.34" width="1.14" height="12.75" fill="#4daf4a"/>
<rect x="468.97" y="655.34" width="1.14" height="12.75" fill="#4daf4a"/>
<rect x="475.79" y="655.34" width="5.69" height="12.75" fill="#4daf4a"/>
<rect x="489.44" y="655.34" width="2.27" height="12.75" fill="#4daf4a"/>
<rect x="515.59" y="655.34" width="1.14" height="12.75" fill="#4daf4a"/>
<rect x="519.00" y="655.34" width="2.27" height="12.75" fill="#4daf4a"/>
<rect x="537.19" y="655.34" width="1.14" height="12.75" fill="#4daf4a"/>
<rect x="544.02" y="655.34" width="1.14" height="12.75" fill="#4daf4a"/>
<rect x="549.70" y="655.34" width="1.14" height="12.75" fill="#4daf4a"/>
<rect x="557.66" y="655.34" width="1.14" height="12.75" fill="#4daf4a"/>
<rect x="571.31" y="655.34" width="1.14" height="12.75" fill="#4daf4a"/>
<rect x="588.36" y="655.34" width="1.14" height="12.75" fill="#4daf4a"/>
<rect x="595.18" y="655.34" width="1.14" height="12.75" fill="#4daf4a"/>
<rect x="609.97" y="655.34" width="1.14" height="12.75" fill="#4daf4a"/>
<rect x="387.10" y="668.72" width="233.10" height="12.75" fill="#d0d0d0"/>
<rect x="387.10" y="668.72" width="1.14" height="12.75" fill="#4daf4a"/>
<rect x="396.20" y="668.72" width="1.14" height="12.75" fill="#4daf4a"/>
<rect x="403.02" y="668.72" width="1.14" height="12.75" fill="#4daf4a"/>
<rect x="413.25" y="668.72" width="1.14" height="12.75" fill="#4daf4a"/>
<rect x="415.53" y="668.72" width="1.14" height="12.75" fill="#4daf4a"/>
<rect x="420.08" y="668.72" width="2.27" height="12.75" fill="#4daf4a"/>
<rect x="428.03" y="668.72" width="1.14" height="12.75" fill="#4daf4a"/>
<rect x="434.86" y="668.72" width="1.14" height="12.75" fill="#4daf4a"/>
<rect x="440.54" y="668.72" width="1.14" height="12.75" fill="#4daf4a"/>
<rect x="446.23" y="668.72" width="1.14" height="12.75" fill="#4daf4a"/>
<rect x="467.83" y="668.72" width="1.14" height="12.75" fill="#4daf4a"/>
<rect x="473.52" y="668.72" width="1.14" height="12.75" fill="#4daf4a"/>
<rect x="489.44" y="668.72" width="1.14" height="12.75" fill="#4daf4a"/>
<rect x="491.71" y="668.72" width="3.41" height="12.75" fill="#4daf4a"/>
<rect x="515.59" y="668.72" width="1.14" height="12.75" fill="#4daf4a"/>
<rect x="520.14" y="668.72" width="1.14" height="12.75" fill="#4daf4a"/>
<rect x="532.65" y="668.72" width="1.14" height="12.75" fill="#4daf4a"/>
<rect x="537.19" y="668.72" width="1.14" height="12.75" fill="#4daf4a"/>
<rect x="550.84" y="668.72" width="1.14" height="12.75" fill="#4daf4a"/>
<rect x="581.54" y="668.72" width="1.14" height="12.75" fill="#4daf4a"/>
<rect x="592.91" y="668.72" width="1.14" height="12.75" fill="#4daf4a"/>
<rect x="609.97" y="668.72" width="5.69" height="12.75" fill="#4daf4a"/>
<rect x="529.23" y="672.74" width="1.14" height="4.72" fill="#4a8cc6"/>
<rect x="582.68" y="672.74" width="1.14" height="4.72" fill="#4a8cc6"/>
<rect x="387.10" y="682.10" width="233.10" height="12.75" fill="#d0d0d0"/>
<rect x="395.06" y="682.10" width="2.27" height="12.75" fill="#4daf4a"/>
<rect x="403.02" y="682.10" width="1.14" height="12.75" fill="#4daf4a"/>
<rect x="406.43" y="682.10" width="1.14" height="12.75" fill="#4daf4a"/>
<rect x="413.25" y="682.10" width="1.14" height="12.75" fill="#e41a1c"/>
<rect x="420.08" y="682.10" width="1.14" height="12.75" fill="#4daf4a"/>
<rect x="426.90" y="682.10" width="1.14" height="12.75" fill="#4daf4a"/>
<rect x="433.72" y="682.10" width="1.14" height="12.75" fill="#4daf4a"/>
<rect x="437.13" y="682.10" width="1.14" height="12.75" fill="#4daf4a"/>
<rect x="447.36" y="682.10" width="1.14" height="12.75" fill="#4daf4a"/>
<rect x="482.61" y="682.10" width="1.14" height="12.75" fill="#4daf4a"/>
<rect x="495.12" y="682.10" width="1.14" height="12.75" fill="#4daf4a"/>
<rect x="514.45" y="682.10" width="1.14" height="12.75" fill="#4daf4a"/>
<rect x="520.14" y="682.10" width="1.14" height="12.75" fill="#4daf4a"/>
<rect x="525.82" y="682.10" width="1.14" height="12.75" fill="#4daf4a"/>
<rect x="530.37" y="682.10" width="1.14" height="12.75" fill="#984ea3"/>
<rect x="532.65" y="682.10" width="1.14" height="12.75" fill="#984ea3"/>
<rect x="534.92" y="682.10" width="2.27" height="12.75" fill="#4daf4a"/>
<rect x="549.70" y="682.10" width="2.27" height="12.75" fill="#4daf4a"/>
<rect x="582.68" y="682.10" width="2.27" height="12.75" fill="#4daf4a"/>
<rect x="595.18" y="682.10" width="1.14" height="12.75" fill="#4daf4a"/>
<rect x="612.24" y="682.10" width="2.27" height="12.75" fill="#4daf4a"/>
<rect x="387.10" y="686.12" width="1.14" height="4.72" fill="#4a8cc6"/>
<rect x="415.53" y="686.12" width="1.14" height="4.72" fill="#4a8cc6"/>
<rect x="517.86" y="686.12" width="1.14" height="4.72" fill="#4a8cc6"/>
<rect x="539.47" y="686.12" width="1.14" height="4.72" fill="#4a8cc6"/>
<rect x="387.10" y="695.48" width="233.10" height="12.75" fill="#d0d0d0"/>
<rect x="387.10" y="695.48" width="1.14" height="12.75" fill="#4daf4a"/>
<rect x="390.51" y="695.48" width="1.14" height="12.75" fill="#4daf4a"/>
<rect x="396.20" y="695.48" width="1.14" height="12.75" fill="#4daf4a"/>
<rect x="399.61" y="695.48" width="1.14" height="12.75" fill="#e41a1c"/>
<rect x="406.43" y="695.48" width="2.27" height="12.75" fill="#4daf4a"/>
<rect x="421.21" y="695.48" width="1.14" height="12.75" fill="#4daf4a"/>
<rect x="424.62" y="695.48" width="1.14" height="12.75" fill="#4daf4a"/>
<rect x="428.03" y="695.48" width="1.14" height="12.75" fill="#4daf4a"/>
<rect x="430.31" y="695.48" width="1.14" height="12.75" fill="#984ea3"/>
<rect x="434.86" y="695.48" width="1.14" height="12.75" fill="#4daf4a"/>
<rect x="438.27" y="695.48" width="1.14" height="12.75" fill="#4daf4a"/>
<rect x="440.54" y="695.48" width="1.14" height="12.75" fill="#4daf4a"/>
<rect x="458.74" y="695.48" width="1.14" height="12.75" fill="#4daf4a"/>
<rect x="467.83" y="695.48" width="1.14" height="12.75" fill="#4daf4a"/>
<rect x="514.45" y="695.48" width="1.14" height="12.75" fill="#4daf4a"/>
<rect x="520.14" y="695.48" width="1.14" height="12.75" fill="#984ea3"/>
<rect x="525.82" y="695.48" width="1.14" height="12.75" fill="#4daf4a"/>
<rect x="544.02" y="695.48" width="1.14" height="12.75" fill="#4daf4a"/>
<rect x="550.84" y="695.48" width="1.14" height="12.75" fill="#4daf4a"/>
<rect x="569.03" y="695.48" width="1.14" height="12.75" fill="#4daf4a"/>
<rect x="596.32" y="695.48" width="2.27" height="12.75" fill="#4daf4a"/>
<rect x="605.42" y="695.48" width="1.14" height="12.75" fill="#4daf4a"/>
<rect x="515.59" y="699.50" width="1.14" height="4.72" fill="#4a8cc6"/>
<rect x="387.10" y="708.86" width="233.10" height="12.75" fill="#d0d0d0"/>
<rect x="403.02" y="708.86" width="1.14" height="12.75" fill="#4daf4a"/>
<rect x="406.43" y="708.86" width="1.14" height="12.75" fill="#4daf4a"/>
<rect x="422.35" y="708.86" width="1.14" height="12.75" fill="#4daf4a"/>
<rect x="430.31" y="708.86" width="2.27" height="12.75" fill="#4daf4a"/>
<rect x="434.86" y="708.86" width="1.14" height="12.75" fill="#4daf4a"/>
<rect x="438.27" y="708.86" width="1.14" height="12.75" fill="#4daf4a"/>
<rect x="440.54" y="708.86" width="1.14" height="12.75" fill="#4daf4a"/>
<rect x="479.20" y="708.86" width="1.14" height="12.75" fill="#4daf4a"/>
<rect x="497.40" y="708.86" width="1.14" height="12.75" fill="#4daf4a"/>
<rect x="514.45" y="708.86" width="1.14" height="12.75" fill="#4daf4a"/>
<rect x="516.73" y="708.86" width="1.14" height="12.75" fill="#4daf4a"/>
<rect x="525.82" y="708.86" width="1.14" height="12.75" fill="#4daf4a"/>
<rect x="531.51" y="708.86" width="1.14" height="12.75" fill="#4daf4a"/>
<rect x="537.19" y="708.86" width="1.14" height="12.75" fill="#e41a1c"/>
<rect x="540.60" y="708.86" width="1.14" height="12.75" fill="#4daf4a"/>
<rect x="546.29" y="708.86" width="1.14" height="12.75" fill="#4daf4a"/>
<rect x="550.84" y="708.86" width="1.14" height="12.75" fill="#4daf4a"/>
<rect x="556.52" y="708.86" width="1.14" height="12.75" fill="#4daf4a"/>
<rect x="558.80" y="708.86" width="1.14" height="12.75" fill="#e41a1c"/>
<rect x="582.68" y="708.86" width="2.27" height="12.75" fill="#4daf4a"/>
<rect x="586.09" y="708.86" width="1.14" height="12.75" fill="#4daf4a"/>
<rect x="609.97" y="708.86" width="1.14" height="12.75" fill="#4daf4a"/>
<rect x="615.65" y="708.86" width="2.27" height="12.75" fill="#4daf4a"/>
<rect x="532.65" y="712.88" width="1.14" height="4.72" fill="#4a8cc6"/>
<rect x="387.10" y="722.24" width="233.10" height="12.75" fill="#d0d0d0"/>
<rect x="387.10" y="722.24" width="4.55" height="12.75" fill="#4daf4a"/>
<rect x="403.02" y="722.24" width="2.27" height="12.75" fill="#4daf4a"/>
<rect x="426.90" y="722.24" width="1.14" height="12.75" fill="#4daf4a"/>
<rect x="433.72" y="722.24" width="1.14" height="12.75" fill="#4daf4a"/>
<rect x="439.41" y="722.24" width="1.14" height="12.75" fill="#4daf4a"/>
<rect x="448.50" y="722.24" width="1.14" height="12.75" fill="#4daf4a"/>
<rect x="473.52" y="722.24" width="1.14" height="12.75" fill="#4daf4a"/>
<rect x="479.20" y="722.24" width="1.14" height="12.75" fill="#e41a1c"/>
<rect x="514.45" y="722.24" width="1.14" height="12.75" fill="#4daf4a"/>
<rect x="529.23" y="722.24" width="1.14" height="12.75" fill="#984ea3"/>
<rect x="532.65" y="722.24" width="1.14" height="12.75" fill="#4daf4a"/>
<rect x="534.92" y="722.24" width="2.27" height="12.75" fill="#4daf4a"/>
<rect x="539.47" y="722.24" width="1.14" height="12.75" fill="#984ea3"/>
<rect x="544.02" y="722.24" width="1.14" height="12.75" fill="#4daf4a"/>
<rect x="554.25" y="722.24" width="1.14" height="12.75" fill="#e41a1c"/>
<rect x="561.07" y="722.24" width="1.14" height="12.75" fill="#4daf4a"/>
<rect x="569.03" y="722.24" width="1.14" height="12.75" fill="#4daf4a"/>
<rect x="588.36" y="722.24" width="1.14" height="12.75" fill="#4daf4a"/>
<rect x="594.05" y="722.24" width="1.14" height="12.75" fill="#ff7f00"/>
<rect x="598.60" y="722.24" width="1.14" height="12.75" fill="#4daf4a"/>
<rect x="546.29" y="726.26" width="1.14" height="4.72" fill="#4a8cc6"/>
<rect x="387.10" y="735.62" width="233.10" height="12.75" fill="#d0d0d0"/>
<rect x="388.24" y="735.62" width="1.14" height="12.75" fill="#4daf4a"/>
<rect x="396.20" y="735.62" width="1.14" height="12.75" fill="#4daf4a"/>
<rect x="398.47" y="735.62" width="1.14" height="12.75" fill="#4daf4a"/>
<rect x="410.98" y="735.62" width="1.14" height="12.75" fill="#4daf4a"/>
<rect x="414.39" y="735.62" width="1.14" height="12.75" fill="#4daf4a"/>
<rect x="422.35" y="735.62" width="1.14" height="12.75" fill="#4daf4a"/>
<rect x="429.17" y="735.62" width="1.14" height="12.75" fill="#4daf4a"/>
<rect x="434.86" y="735.62" width="1.14" height="12.75" fill="#4daf4a"/>
<rect x="438.27" y="735.62" width="1.14" height="12.75" fill="#4daf4a"/>
<rect x="441.68" y="735.62" width="1.14" height="12.75" fill="#e41a1c"/>
<rect x="470.11" y="735.62" width="1.14" height="12.75" fill="#4daf4a"/>
<rect x="479.20" y="735.62" width="1.14" height="12.75" fill="#4daf4a"/>
<rect x="490.57" y="735.62" width="1.14" height="12.75" fill="#4daf4a"/>
<rect x="515.59" y="735.62" width="1.14" height="12.75" fill="#4daf4a"/>
<rect x="525.82" y="735.62" width="1.14" height="12.75" fill="#4daf4a"/>
<rect x="532.65" y="735.62" width="4.55" height="12.75" fill="#4daf4a"/>
<rect x="551.98" y="735.62" width="1.14" height="12.75" fill="#4daf4a"/>
<rect x="555.39" y="735.62" width="1.14" height="12.75" fill="#4daf4a"/>
<rect x="572.44" y="735.62" width="1.14" height="12.75" fill="#4daf4a"/>
<rect x="573.58" y="735.62" width="1.14" height="12.75" fill="#e41a1c"/>
<rect x="586.09" y="735.62" width="1.14" height="12.75" fill="#ff7f00"/>
<rect x="592.91" y="735.62" width="1.14" height="12.75" fill="#e41a1c"/>
<rect x="619.06" y="735.62" width="1.14" height="12.75" fill="#4daf4a"/>
<path d="M388.24 548.30V748.37 M389.37 548.30V748.37 M390.51 548.30V748.37 M391.65 548.30V748.37 M392.79 548.30V748.37 M393.92 548.30V748.37 M395.06 548.30V748.37 M396.20 548.30V748.37 M397.33 548.30V748.37 M398.47 548.30V748.37 M399.61 548.30V748.37 M400.74 548.30V748.37 M401.88 548.30V748.37 M403.02 548.30V748.37 M404.16 548.30V748.37 M405.29 548.30V748.37 M406.43 548.30V748.37 M407.57 548.30V748.37 M408.70 548.30V748.37 M409.84 548.30V748.37 M410.98 548.30V748.37 M412.12 548.30V748.37 M413.25 548.30V748.37 M414.39 548.30V748.37 M415.53 548.30V748.37 M416.66 548.30V748.37 M417.80 548.30V748.37 M418.94 548.30V748.37 M420.08 548.30V748.37 M421.21 548.30V748.37 M422.35 548.30V748.37 M423.49 548.30V748.37 M424.62 548.30V748.37 M425.76 548.30V748.37 M426.90 548.30V748.37 M428.03 548.30V748.37 M429.17 548.30V748.37 M430.31 548.30V748.37 M431.45 548.30V748.37 M432.58 548.30V748.37 M433.72 548.30V748.37 M434.86 548.30V748.37 M435.99 548.30V748.37 M437.13 548.30V748.37 M438.27 548.30V748.37 M439.41 548.30V748.37 M440.54 548.30V748.37 M441.68 548.30V748.37 M442.82 548.30V748.37 M443.95 548.30V748.37 M445.09 548.30V748.37 M446.23 548.30V748.37 M447.36 548.30V748.37 M448.50 548.30V748.37 M449.64 548.30V748.37 M450.78 548.30V748.37 M451.91 548.30V748.37 M453.05 548.30V748.37 M454.19 548.30V748.37 M455.32 548.30V748.37 M456.46 548.30V748.37 M457.60 548.30V748.37 M458.74 548.30V748.37 M459.87 548.30V748.37 M461.01 548.30V748.37 M462.15 548.30V748.37 M463.28 548.30V748.37 M464.42 548.30V748.37 M465.56 548.30V748.37 M466.70 548.30V748.37 M467.83 548.30V748.37 M468.97 548.30V748.37 M470.11 548.30V748.37 M471.24 548.30V748.37 M472.38 548.30V748.37 M473.52 548.30V748.37 M474.65 548.30V748.37 M475.79 548.30V748.37 M476.93 548.30V748.37 M478.07 548.30V748.37 M479.20 548.30V748.37 M480.34 548.30V748.37 M481.48 548.30V748.37 M482.61 548.30V748.37 M483.75 548.30V748.37 M484.89 548.30V748.37 M486.03 548.30V748.37 M487.16 548.30V748.37 M488.30 548.30V748.37 M489.44 548.30V748.37 M490.57 548.30V748.37 M491.71 548.30V748.37 M492.85 548.30V748.37 M493.98 548.30V748.37 M495.12 548.30V748.37 M496.26 548.30V748.37 M497.40 548.30V748.37 M498.53 548.30V748.37 M499.67 548.30V748.37 M500.81 548.30V748.37 M501.94 548.30V748.37 M503.08 548.30V748.37 M504.22 548.30V748.37 M505.36 548.30V748.37 M506.49 548.30V748.37 M507.63 548.30V748.37 M508.77 548.30V748.37 M509.90 548.30V748.37 M511.04 548.30V748.37 M512.18 548.30V748.37 M513.32 548.30V748.37 M514.45 548.30V748.37 M515.59 548.30V748.37 M516.73 548.30V748.37 M517.86 548.30V748.37 M519.00 548.30V748.37 M520.14 548.30V748.37 M521.27 548.30V748.37 M522.41 548.30V748.37 M523.55 548.30V748.37 M524.69 548.30V748.37 M525.82 548.30V748.37 M526.96 548.30V748.37 M528.10 548.30V748.37 M529.23 548.30V748.37 M530.37 548.30V748.37 M531.51 548.30V748.37 M532.65 548.30V748.37 M533.78 548.30V748.37 M534.92 548.30V748.37 M536.06 548.30V748.37 M537.19 548.30V748.37 M538.33 548.30V748.37 M539.47 548.30V748.37 M540.60 548.30V748.37 M541.74 548.30V748.37 M542.88 548.30V748.37 M544.02 548.30V748.37 M545.15 548.30V748.37 M546.29 548.30V748.37 M547.43 548.30V748.37 M548.56 548.30V748.37 M549.70 548.30V748.37 M550.84 548.30V748.37 M551.98 548.30V748.37 M553.11 548.30V748.37 M554.25 548.30V748.37 M555.39 548.30V748.37 M556.52 548.30V748.37 M557.66 548.30V748.37 M558.80 548.30V748.37 M559.94 548.30V748.37 M561.07 548.30V748.37 M562.21 548.30V748.37 M563.35 548.30V748.37 M564.48 548.30V748.37 M565.62 548.30V748.37 M566.76 548.30V748.37 M567.89 548.30V748.37 M569.03 548.30V748.37 M570.17 548.30V748.37 M571.31 548.30V748.37 M572.44 548.30V748.37 M573.58 548.30V748.37 M574.72 548.30V748.37 M575.85 548.30V748.37 M576.99 548.30V748.37 M578.13 548.30V748.37 M579.27 548.30V748.37 M580.40 548.30V748.37 M581.54 548.30V748.37 M582.68 548.30V748.37 M583.81 548.30V748.37 M584.95 548.30V748.37 M586.09 548.30V748.37 M587.22 548.30V748.37 M588.36 548.30V748.37 M589.50 548.30V748.37 M590.64 548.30V748.37 M591.77 548.30V748.37 M592.91 548.30V748.37 M594.05 548.30V748.37 M595.18 548.30V748.37 M596.32 548.30V748.37 M597.46 548.30V748.37 M598.60 548.30V748.37 M599.73 548.30V748.37 M600.87 548.30V748.37 M602.01 548.30V748.37 M603.14 548.30V748.37 M604.28 548.30V748.37 M605.42 548.30V748.37 M606.56 548.30V748.37 M607.69 548.30V748.37 M608.83 548.30V748.37 M609.97 548.30V748.37 M611.10 548.30V748.37 M612.24 548.30V748.37 M613.38 548.30V748.37 M614.51 548.30V748.37 M615.65 548.30V748.37 M616.79 548.30V748.37 M617.93 548.30V748.37 M619.06 548.30V748.37" stroke="#fff" stroke-width="0.32" stroke-opacity="0.9"/>
<rect x="387.20" y="542.39" width="0.94" height="5.31" fill="#4daf4a"/>
<rect x="387.20" y="540.20" width="0.94" height="2.19" fill="#5b9bd5"/>
<rect x="387.20" y="538.86" width="0.94" height="1.34" fill="#e41a1c"/>
<rect x="387.20" y="538.13" width="0.94" height="0.73" fill="#5b9bd5"/>
<rect x="388.34" y="541.97" width="0.94" height="5.73" fill="#4daf4a"/>
<rect x="388.34" y="540.36" width="0.94" height="1.61" fill="#5b9bd5"/>
<rect x="389.47" y="540.98" width="0.94" height="6.72" fill="#4daf4a"/>
<rect x="389.47" y="539.93" width="0.94" height="1.05" fill="#e41a1c"/>
<rect x="389.47" y="539.20" width="0.94" height="0.73" fill="#5b9bd5"/>
<rect x="390.61" y="542.78" width="0.94" height="4.92" fill="#4daf4a"/>
<rect x="390.61" y="541.02" width="0.94" height="1.76" fill="#5b9bd5"/>
<rect x="391.75" y="542.42" width="0.94" height="5.28" fill="#4daf4a"/>
<rect x="391.75" y="541.61" width="0.94" height="0.81" fill="#e41a1c"/>
<rect x="392.89" y="545.60" width="0.94" height="2.10" fill="#4daf4a"/>
<rect x="392.89" y="544.37" width="0.94" height="1.23" fill="#e41a1c"/>
<rect x="392.89" y="543.77" width="0.94" height="0.60" fill="#984ea3"/>
<rect x="394.02" y="543.65" width="0.94" height="4.05" fill="#4daf4a"/>
<rect x="395.16" y="542.46" width="0.94" height="5.24" fill="#4daf4a"/>
<rect x="395.16" y="541.05" width="0.94" height="1.41" fill="#e41a1c"/>
<rect x="395.16" y="540.03" width="0.94" height="1.02" fill="#e41a1c"/>
<rect x="395.16" y="538.55" width="0.94" height="1.48" fill="#5b9bd5"/>
<rect x="395.16" y="537.66" width="0.94" height="0.89" fill="#5b9bd5"/>
<rect x="396.30" y="541.37" width="0.94" height="6.33" fill="#4daf4a"/>
<rect x="396.30" y="540.32" width="0.94" height="1.05" fill="#5b9bd5"/>
<rect x="397.43" y="540.64" width="0.94" height="7.06" fill="#4daf4a"/>
<rect x="398.57" y="543.61" width="0.94" height="4.09" fill="#4daf4a"/>
<rect x="398.57" y="542.09" width="0.94" height="1.52" fill="#e41a1c"/>
<rect x="399.71" y="544.18" width="0.94" height="3.52" fill="#4daf4a"/>
<rect x="399.71" y="543.23" width="0.94" height="0.95" fill="#5b9bd5"/>
<rect x="399.71" y="543.04" width="0.94" height="0.19" fill="#5b9bd5"/>
<rect x="400.84" y="545.50" width="0.94" height="2.20" fill="#4daf4a"/>
<rect x="400.84" y="544.74" width="0.94" height="0.76" fill="#ff7f00"/>
<rect x="401.98" y="542.81" width="0.94" height="4.89" fill="#4daf4a"/>
<rect x="401.98" y="540.62" width="0.94" height="2.19" fill="#5b9bd5"/>
<rect x="401.98" y="538.30" width="0.94" height="2.32" fill="#e41a1c"/>
<rect x="401.98" y="538.18" width="0.94" height="0.12" fill="#5b9bd5"/>
<rect x="403.12" y="540.95" width="0.94" height="6.75" fill="#4daf4a"/>
<rect x="403.12" y="539.25" width="0.94" height="1.70" fill="#5b9bd5"/>
<rect x="403.12" y="538.18" width="0.94" height="1.07" fill="#5b9bd5"/>
<rect x="404.26" y="545.32" width="0.94" height="2.38" fill="#4daf4a"/>
<rect x="404.26" y="544.20" width="0.94" height="1.12" fill="#5b9bd5"/>
<rect x="405.39" y="543.08" width="0.94" height="4.62" fill="#4daf4a"/>
<rect x="405.39" y="542.10" width="0.94" height="0.98" fill="#e41a1c"/>
<rect x="405.39" y="540.59" width="0.94" height="1.51" fill="#984ea3"/>
<rect x="405.39" y="538.48" width="0.94" height="2.10" fill="#ff7f00"/>
<rect x="406.53" y="537.48" width="0.94" height="10.22" fill="#4daf4a"/>
<rect x="407.67" y="542.34" width="0.94" height="5.36" fill="#4daf4a"/>
<rect x="408.80" y="543.96" width="0.94" height="3.74" fill="#4daf4a"/>
<rect x="408.80" y="542.35" width="0.94" height="1.61" fill="#e41a1c"/>
<rect x="409.94" y="543.33" width="0.94" height="4.37" fill="#4daf4a"/>
<rect x="411.08" y="543.19" width="0.94" height="4.51" fill="#4daf4a"/>
<rect x="412.22" y="541.75" width="0.94" height="5.95" fill="#4daf4a"/>
<rect x="412.22" y="540.96" width="0.94" height="0.79" fill="#5b9bd5"/>
<rect x="413.35" y="541.19" width="0.94" height="6.51" fill="#4daf4a"/>
<rect x="414.49" y="544.09" width="0.94" height="3.61" fill="#4daf4a"/>
<rect x="414.49" y="541.73" width="0.94" height="2.36" fill="#5b9bd5"/>
<rect x="414.49" y="540.76" width="0.94" height="0.97" fill="#5b9bd5"/>
<rect x="415.63" y="545.53" width="0.94" height="2.17" fill="#4daf4a"/>
<rect x="415.63" y="544.63" width="0.94" height="0.90" fill="#e41a1c"/>
<rect x="415.63" y="543.39" width="0.94" height="1.24" fill="#ff7f00"/>
<rect x="416.76" y="545.28" width="0.94" height="2.42" fill="#4daf4a"/>
<rect x="416.76" y="544.26" width="0.94" height="1.03" fill="#ff7f00"/>
<rect x="416.76" y="543.93" width="0.94" height="0.32" fill="#5b9bd5"/>
<rect x="417.90" y="545.86" width="0.94" height="1.84" fill="#4daf4a"/>
<rect x="417.90" y="544.39" width="0.94" height="1.47" fill="#5b9bd5"/>
<rect x="419.04" y="545.54" width="0.94" height="2.16" fill="#4daf4a"/>
<rect x="419.04" y="544.40" width="0.94" height="1.14" fill="#5b9bd5"/>
<rect x="420.18" y="544.35" width="0.94" height="3.35" fill="#4daf4a"/>
<rect x="420.18" y="543.17" width="0.94" height="1.18" fill="#984ea3"/>
<rect x="421.31" y="544.13" width="0.94" height="3.57" fill="#4daf4a"/>
<rect x="422.45" y="543.40" width="0.94" height="4.30" fill="#4daf4a"/>
<rect x="423.59" y="545.17" width="0.94" height="2.53" fill="#4daf4a"/>
<rect x="424.72" y="545.03" width="0.94" height="2.67" fill="#4daf4a"/>
<rect x="425.86" y="543.60" width="0.94" height="4.10" fill="#4daf4a"/>
<rect x="427.00" y="544.42" width="0.94" height="3.28" fill="#4daf4a"/>
<rect x="427.00" y="543.35" width="0.94" height="1.08" fill="#e41a1c"/>
<rect x="427.00" y="542.70" width="0.94" height="0.65" fill="#ff7f00"/>
<rect x="428.13" y="545.83" width="0.94" height="1.87" fill="#4daf4a"/>
<rect x="428.13" y="544.04" width="0.94" height="1.79" fill="#5b9bd5"/>
<rect x="429.27" y="544.00" width="0.94" height="3.70" fill="#4daf4a"/>
<rect x="429.27" y="542.52" width="0.94" height="1.48" fill="#5b9bd5"/>
<rect x="430.41" y="542.53" width="0.94" height="5.17" fill="#4daf4a"/>
<rect x="430.41" y="541.84" width="0.94" height="0.69" fill="#e41a1c"/>
<rect x="431.55" y="542.16" width="0.94" height="5.54" fill="#4daf4a"/>
<rect x="432.68" y="546.31" width="0.94" height="1.39" fill="#4daf4a"/>
<rect x="432.68" y="545.70" width="0.94" height="0.61" fill="#5b9bd5"/>
<rect x="433.82" y="543.14" width="0.94" height="4.56" fill="#4daf4a"/>
<rect x="434.96" y="544.04" width="0.94" height="3.66" fill="#4daf4a"/>
<rect x="434.96" y="542.05" width="0.94" height="1.98" fill="#e41a1c"/>
<rect x="436.09" y="540.46" width="0.94" height="7.24" fill="#4daf4a"/>
<rect x="437.23" y="544.81" width="0.94" height="2.89" fill="#4daf4a"/>
<rect x="437.23" y="543.95" width="0.94" height="0.86" fill="#5b9bd5"/>
<rect x="438.37" y="543.47" width="0.94" height="4.23" fill="#4daf4a"/>
<rect x="439.51" y="543.73" width="0.94" height="3.97" fill="#4daf4a"/>
<rect x="440.64" y="545.59" width="0.94" height="2.11" fill="#4daf4a"/>
<rect x="440.64" y="544.77" width="0.94" height="0.82" fill="#5b9bd5"/>
<rect x="441.78" y="545.31" width="0.94" height="2.39" fill="#4daf4a"/>
<rect x="441.78" y="542.98" width="0.94" height="2.33" fill="#5b9bd5"/>
<rect x="442.92" y="545.31" width="0.94" height="2.39" fill="#4daf4a"/>
<rect x="442.92" y="544.84" width="0.94" height="0.48" fill="#984ea3"/>
<rect x="444.05" y="546.28" width="0.94" height="1.42" fill="#4daf4a"/>
<rect x="444.05" y="545.13" width="0.94" height="1.15" fill="#5b9bd5"/>
<rect x="445.19" y="545.67" width="0.94" height="2.03" fill="#4daf4a"/>
<rect x="446.33" y="545.87" width="0.94" height="1.83" fill="#4daf4a"/>
<rect x="446.33" y="544.87" width="0.94" height="0.99" fill="#e41a1c"/>
<rect x="447.46" y="545.17" width="0.94" height="2.53" fill="#4daf4a"/>
<rect x="448.60" y="545.57" width="0.94" height="2.13" fill="#4daf4a"/>
<rect x="449.74" y="546.55" width="0.94" height="1.15" fill="#4daf4a"/>
<rect x="449.74" y="546.22" width="0.94" height="0.34" fill="#ff7f00"/>
<rect x="450.88" y="545.52" width="0.94" height="2.18" fill="#4daf4a"/>
<rect x="452.01" y="546.89" width="0.94" height="0.81" fill="#4daf4a"/>
<rect x="452.01" y="546.14" width="0.94" height="0.74" fill="#984ea3"/>
<rect x="453.15" y="545.77" width="0.94" height="1.93" fill="#4daf4a"/>
<rect x="454.29" y="546.76" width="0.94" height="0.94" fill="#4daf4a"/>
<rect x="454.29" y="546.18" width="0.94" height="0.58" fill="#984ea3"/>
<rect x="455.42" y="545.90" width="0.94" height="1.80" fill="#4daf4a"/>
<rect x="455.42" y="545.64" width="0.94" height="0.26" fill="#ff7f00"/>
<rect x="456.56" y="545.50" width="0.94" height="2.20" fill="#4daf4a"/>
<rect x="457.70" y="544.36" width="0.94" height="3.34" fill="#4daf4a"/>
<rect x="458.84" y="545.30" width="0.94" height="2.40" fill="#4daf4a"/>
<rect x="458.84" y="543.94" width="0.94" height="1.36" fill="#5b9bd5"/>
<rect x="459.97" y="545.00" width="0.94" height="2.70" fill="#4daf4a"/>
<rect x="461.11" y="545.48" width="0.94" height="2.22" fill="#4daf4a"/>
<rect x="461.11" y="545.15" width="0.94" height="0.33" fill="#5b9bd5"/>
<rect x="462.25" y="546.17" width="0.94" height="1.53" fill="#4daf4a"/>
<rect x="462.25" y="545.27" width="0.94" height="0.90" fill="#5b9bd5"/>
<rect x="463.38" y="545.85" width="0.94" height="1.85" fill="#4daf4a"/>
<rect x="463.38" y="545.27" width="0.94" height="0.57" fill="#5b9bd5"/>
<rect x="464.52" y="545.77" width="0.94" height="1.93" fill="#4daf4a"/>
<rect x="464.52" y="545.10" width="0.94" height="0.67" fill="#5b9bd5"/>
<rect x="465.66" y="546.14" width="0.94" height="1.56" fill="#4daf4a"/>
<rect x="465.66" y="545.31" width="0.94" height="0.83" fill="#5b9bd5"/>
<rect x="465.66" y="545.25" width="0.94" height="0.07" fill="#984ea3"/>
<rect x="466.80" y="544.40" width="0.94" height="3.30" fill="#4daf4a"/>
<rect x="466.80" y="543.00" width="0.94" height="1.41" fill="#5b9bd5"/>
<rect x="467.93" y="545.64" width="0.94" height="2.06" fill="#4daf4a"/>
<rect x="467.93" y="544.83" width="0.94" height="0.82" fill="#984ea3"/>
<rect x="467.93" y="543.96" width="0.94" height="0.87" fill="#5b9bd5"/>
<rect x="467.93" y="543.81" width="0.94" height="0.15" fill="#5b9bd5"/>
<rect x="469.07" y="546.47" width="0.94" height="1.23" fill="#4daf4a"/>
<rect x="469.07" y="545.84" width="0.94" height="0.63" fill="#5b9bd5"/>
<rect x="470.21" y="546.52" width="0.94" height="1.18" fill="#4daf4a"/>
<rect x="470.21" y="545.56" width="0.94" height="0.95" fill="#984ea3"/>
<rect x="471.34" y="545.52" width="0.94" height="2.18" fill="#4daf4a"/>
<rect x="472.48" y="542.84" width="0.94" height="4.86" fill="#4daf4a"/>
<rect x="472.48" y="541.77" width="0.94" height="1.07" fill="#5b9bd5"/>
<rect x="473.62" y="542.47" width="0.94" height="5.23" fill="#4daf4a"/>
<rect x="474.75" y="545.12" width="0.94" height="2.58" fill="#4daf4a"/>
<rect x="475.89" y="545.86" width="0.94" height="1.84" fill="#4daf4a"/>
<rect x="475.89" y="545.32" width="0.94" height="0.55" fill="#5b9bd5"/>
<rect x="477.03" y="545.51" width="0.94" height="2.19" fill="#4daf4a"/>
<rect x="478.17" y="544.15" width="0.94" height="3.55" fill="#4daf4a"/>
<rect x="478.17" y="542.82" width="0.94" height="1.33" fill="#984ea3"/>
<rect x="478.17" y="541.71" width="0.94" height="1.11" fill="#5b9bd5"/>
<rect x="479.30" y="544.53" width="0.94" height="3.17" fill="#4daf4a"/>
<rect x="479.30" y="543.43" width="0.94" height="1.10" fill="#5b9bd5"/>
<rect x="479.30" y="541.90" width="0.94" height="1.53" fill="#984ea3"/>
<rect x="479.30" y="541.48" width="0.94" height="0.42" fill="#5b9bd5"/>
<rect x="480.44" y="545.55" width="0.94" height="2.15" fill="#4daf4a"/>
<rect x="481.58" y="546.61" width="0.94" height="1.09" fill="#4daf4a"/>
<rect x="481.58" y="546.07" width="0.94" height="0.54" fill="#5b9bd5"/>
<rect x="482.71" y="546.18" width="0.94" height="1.52" fill="#4daf4a"/>
<rect x="482.71" y="545.53" width="0.94" height="0.66" fill="#5b9bd5"/>
<rect x="483.85" y="546.01" width="0.94" height="1.69" fill="#4daf4a"/>
<rect x="483.85" y="545.56" width="0.94" height="0.45" fill="#5b9bd5"/>
<rect x="484.99" y="546.55" width="0.94" height="1.15" fill="#4daf4a"/>
<rect x="484.99" y="545.54" width="0.94" height="1.01" fill="#e41a1c"/>
<rect x="486.13" y="546.52" width="0.94" height="1.18" fill="#4daf4a"/>
<rect x="486.13" y="545.65" width="0.94" height="0.87" fill="#984ea3"/>
<rect x="487.26" y="546.57" width="0.94" height="1.13" fill="#4daf4a"/>
<rect x="487.26" y="545.72" width="0.94" height="0.85" fill="#e41a1c"/>
<rect x="488.40" y="546.16" width="0.94" height="1.54" fill="#4daf4a"/>
<rect x="488.40" y="545.73" width="0.94" height="0.43" fill="#5b9bd5"/>
<rect x="489.54" y="546.48" width="0.94" height="1.22" fill="#4daf4a"/>
<rect x="489.54" y="546.19" width="0.94" height="0.28" fill="#5b9bd5"/>
<rect x="490.67" y="546.24" width="0.94" height="1.46" fill="#4daf4a"/>
<rect x="490.67" y="545.99" width="0.94" height="0.25" fill="#5b9bd5"/>
<rect x="491.81" y="545.32" width="0.94" height="2.38" fill="#4daf4a"/>
<rect x="491.81" y="544.96" width="0.94" height="0.36" fill="#5b9bd5"/>
<rect x="492.95" y="546.61" width="0.94" height="1.09" fill="#4daf4a"/>
<rect x="492.95" y="545.74" width="0.94" height="0.87" fill="#5b9bd5"/>
<rect x="494.08" y="546.68" width="0.94" height="1.02" fill="#4daf4a"/>
<rect x="494.08" y="546.34" width="0.94" height="0.35" fill="#e41a1c"/>
<rect x="495.22" y="546.80" width="0.94" height="0.90" fill="#4daf4a"/>
<rect x="495.22" y="546.49" width="0.94" height="0.31" fill="#984ea3"/>
<rect x="496.36" y="546.73" width="0.94" height="0.97" fill="#4daf4a"/>
<rect x="496.36" y="546.48" width="0.94" height="0.25" fill="#e41a1c"/>
<rect x="497.50" y="547.05" width="0.94" height="0.65" fill="#4daf4a"/>
<rect x="497.50" y="546.59" width="0.94" height="0.46" fill="#e41a1c"/>
<rect x="498.63" y="546.89" width="0.94" height="0.81" fill="#4daf4a"/>
<rect x="498.63" y="546.39" width="0.94" height="0.50" fill="#5b9bd5"/>
<rect x="499.77" y="546.96" width="0.94" height="0.74" fill="#4daf4a"/>
<rect x="499.77" y="546.72" width="0.94" height="0.24" fill="#5b9bd5"/>
<rect x="500.91" y="546.85" width="0.94" height="0.85" fill="#4daf4a"/>
<rect x="502.04" y="546.79" width="0.94" height="0.91" fill="#4daf4a"/>
<rect x="503.18" y="547.02" width="0.94" height="0.68" fill="#4daf4a"/>
<rect x="504.32" y="547.09" width="0.94" height="0.61" fill="#4daf4a"/>
<rect x="504.32" y="546.75" width="0.94" height="0.34" fill="#5b9bd5"/>
<rect x="505.46" y="547.23" width="0.94" height="0.47" fill="#4daf4a"/>
<rect x="505.46" y="547.00" width="0.94" height="0.23" fill="#e41a1c"/>
<rect x="506.59" y="546.98" width="0.94" height="0.72" fill="#4daf4a"/>
<rect x="506.59" y="546.84" width="0.94" height="0.14" fill="#e41a1c"/>
<rect x="507.73" y="547.02" width="0.94" height="0.68" fill="#4daf4a"/>
<rect x="507.73" y="546.74" width="0.94" height="0.28" fill="#5b9bd5"/>
<rect x="508.87" y="547.26" width="0.94" height="0.44" fill="#4daf4a"/>
<rect x="508.87" y="546.98" width="0.94" height="0.28" fill="#5b9bd5"/>
<rect x="510.00" y="546.96" width="0.94" height="0.74" fill="#4daf4a"/>
<rect x="510.00" y="546.77" width="0.94" height="0.19" fill="#984ea3"/>
<rect x="511.14" y="547.15" width="0.94" height="0.55" fill="#4daf4a"/>
<rect x="511.14" y="546.76" width="0.94" height="0.39" fill="#e41a1c"/>
<rect x="512.28" y="547.05" width="0.94" height="0.65" fill="#4daf4a"/>
<rect x="512.28" y="546.91" width="0.94" height="0.14" fill="#5b9bd5"/>
<rect x="513.42" y="540.67" width="0.94" height="7.03" fill="#4daf4a"/>
<rect x="514.55" y="541.25" width="0.94" height="6.45" fill="#4daf4a"/>
<rect x="514.55" y="539.95" width="0.94" height="1.29" fill="#5b9bd5"/>
<rect x="514.55" y="538.53" width="0.94" height="1.42" fill="#e41a1c"/>
<rect x="514.55" y="538.45" width="0.94" height="0.08" fill="#e41a1c"/>
<rect x="515.69" y="541.36" width="0.94" height="6.34" fill="#4daf4a"/>
<rect x="516.83" y="541.00" width="0.94" height="6.70" fill="#4daf4a"/>
<rect x="517.96" y="545.33" width="0.94" height="2.37" fill="#4daf4a"/>
<rect x="517.96" y="543.62" width="0.94" height="1.71" fill="#5b9bd5"/>
<rect x="519.10" y="543.58" width="0.94" height="4.12" fill="#4daf4a"/>
<rect x="519.10" y="542.88" width="0.94" height="0.70" fill="#5b9bd5"/>
<rect x="520.24" y="543.48" width="0.94" height="4.22" fill="#4daf4a"/>
<rect x="520.24" y="541.49" width="0.94" height="1.99" fill="#5b9bd5"/>
<rect x="520.24" y="540.37" width="0.94" height="1.12" fill="#e41a1c"/>
<rect x="520.24" y="540.13" width="0.94" height="0.24" fill="#e41a1c"/>
<rect x="521.37" y="544.13" width="0.94" height="3.57" fill="#4daf4a"/>
<rect x="521.37" y="543.65" width="0.94" height="0.48" fill="#e41a1c"/>
<rect x="522.51" y="545.37" width="0.94" height="2.33" fill="#4daf4a"/>
<rect x="522.51" y="544.73" width="0.94" height="0.64" fill="#5b9bd5"/>
<rect x="523.65" y="544.96" width="0.94" height="2.74" fill="#4daf4a"/>
<rect x="523.65" y="544.23" width="0.94" height="0.73" fill="#e41a1c"/>
<rect x="524.79" y="542.64" width="0.94" height="5.06" fill="#4daf4a"/>
<rect x="524.79" y="540.90" width="0.94" height="1.74" fill="#e41a1c"/>
<rect x="525.92" y="540.27" width="0.94" height="7.43" fill="#4daf4a"/>
<rect x="525.92" y="539.22" width="0.94" height="1.05" fill="#5b9bd5"/>
<rect x="527.06" y="545.28" width="0.94" height="2.42" fill="#4daf4a"/>
<rect x="527.06" y="544.40" width="0.94" height="0.88" fill="#ff7f00"/>
<rect x="528.20" y="544.32" width="0.94" height="3.38" fill="#4daf4a"/>
<rect x="529.33" y="545.97" width="0.94" height="1.73" fill="#4daf4a"/>
<rect x="529.33" y="545.25" width="0.94" height="0.72" fill="#984ea3"/>
<rect x="530.47" y="544.86" width="0.94" height="2.84" fill="#4daf4a"/>
<rect x="531.61" y="543.64" width="0.94" height="4.06" fill="#4daf4a"/>
<rect x="531.61" y="542.51" width="0.94" height="1.12" fill="#5b9bd5"/>
<rect x="532.75" y="540.05" width="0.94" height="7.65" fill="#4daf4a"/>
<rect x="532.75" y="537.89" width="0.94" height="2.16" fill="#ff7f00"/>
<rect x="533.88" y="539.87" width="0.94" height="7.83" fill="#4daf4a"/>
<rect x="535.02" y="545.17" width="0.94" height="2.53" fill="#4daf4a"/>
<rect x="535.02" y="543.99" width="0.94" height="1.17" fill="#ff7f00"/>
<rect x="535.02" y="543.63" width="0.94" height="0.37" fill="#e41a1c"/>
<rect x="536.16" y="545.28" width="0.94" height="2.42" fill="#4daf4a"/>
<rect x="536.16" y="543.43" width="0.94" height="1.86" fill="#5b9bd5"/>
<rect x="537.29" y="541.41" width="0.94" height="6.29" fill="#4daf4a"/>
<rect x="538.43" y="544.29" width="0.94" height="3.41" fill="#4daf4a"/>
<rect x="538.43" y="542.72" width="0.94" height="1.57" fill="#ff7f00"/>
<rect x="538.43" y="542.16" width="0.94" height="0.56" fill="#e41a1c"/>
<rect x="539.57" y="542.24" width="0.94" height="5.46" fill="#4daf4a"/>
<rect x="540.70" y="546.79" width="0.94" height="0.91" fill="#4daf4a"/>
<rect x="540.70" y="546.00" width="0.94" height="0.78" fill="#5b9bd5"/>
<rect x="541.84" y="546.62" width="0.94" height="1.08" fill="#4daf4a"/>
<rect x="541.84" y="545.87" width="0.94" height="0.75" fill="#e41a1c"/>
<rect x="542.98" y="546.35" width="0.94" height="1.35" fill="#4daf4a"/>
<rect x="542.98" y="545.67" width="0.94" height="0.68" fill="#ff7f00"/>
<rect x="544.12" y="545.50" width="0.94" height="2.20" fill="#4daf4a"/>
<rect x="544.12" y="544.28" width="0.94" height="1.23" fill="#5b9bd5"/>
<rect x="544.12" y="543.59" width="0.94" height="0.68" fill="#5b9bd5"/>
<rect x="545.25" y="546.70" width="0.94" height="1.00" fill="#4daf4a"/>
<rect x="545.25" y="546.17" width="0.94" height="0.53" fill="#5b9bd5"/>
<rect x="546.39" y="546.75" width="0.94" height="0.95" fill="#4daf4a"/>
<rect x="546.39" y="546.26" width="0.94" height="0.50" fill="#984ea3"/>
<rect x="547.53" y="544.77" width="0.94" height="2.93" fill="#4daf4a"/>
<rect x="547.53" y="544.15" width="0.94" height="0.63" fill="#5b9bd5"/>
<rect x="548.66" y="545.98" width="0.94" height="1.72" fill="#4daf4a"/>
<rect x="549.80" y="546.12" width="0.94" height="1.58" fill="#4daf4a"/>
<rect x="549.80" y="545.61" width="0.94" height="0.50" fill="#5b9bd5"/>
<rect x="550.94" y="543.71" width="0.94" height="3.99" fill="#4daf4a"/>
<rect x="550.94" y="542.66" width="0.94" height="1.05" fill="#5b9bd5"/>
<rect x="550.94" y="542.26" width="0.94" height="0.40" fill="#e41a1c"/>
<rect x="552.08" y="544.68" width="0.94" height="3.02" fill="#4daf4a"/>
<rect x="553.21" y="543.94" width="0.94" height="3.76" fill="#4daf4a"/>
<rect x="554.35" y="544.72" width="0.94" height="2.98" fill="#4daf4a"/>
<rect x="555.49" y="546.78" width="0.94" height="0.92" fill="#4daf4a"/>
<rect x="555.49" y="546.09" width="0.94" height="0.69" fill="#5b9bd5"/>
<rect x="556.62" y="546.78" width="0.94" height="0.92" fill="#4daf4a"/>
<rect x="556.62" y="546.52" width="0.94" height="0.26" fill="#e41a1c"/>
<rect x="557.76" y="546.55" width="0.94" height="1.15" fill="#4daf4a"/>
<rect x="558.90" y="547.05" width="0.94" height="0.65" fill="#4daf4a"/>
<rect x="558.90" y="546.53" width="0.94" height="0.52" fill="#5b9bd5"/>
<rect x="560.04" y="546.74" width="0.94" height="0.96" fill="#4daf4a"/>
<rect x="560.04" y="546.39" width="0.94" height="0.36" fill="#5b9bd5"/>
<rect x="561.17" y="546.76" width="0.94" height="0.94" fill="#4daf4a"/>
<rect x="561.17" y="546.59" width="0.94" height="0.17" fill="#984ea3"/>
<rect x="562.31" y="546.78" width="0.94" height="0.92" fill="#4daf4a"/>
<rect x="562.31" y="546.07" width="0.94" height="0.71" fill="#5b9bd5"/>
<rect x="563.45" y="547.23" width="0.94" height="0.47" fill="#4daf4a"/>
<rect x="563.45" y="546.89" width="0.94" height="0.34" fill="#5b9bd5"/>
<rect x="564.58" y="546.89" width="0.94" height="0.81" fill="#4daf4a"/>
<rect x="565.72" y="547.03" width="0.94" height="0.67" fill="#4daf4a"/>
<rect x="565.72" y="546.85" width="0.94" height="0.17" fill="#ff7f00"/>
<rect x="566.86" y="547.10" width="0.94" height="0.60" fill="#4daf4a"/>
<rect x="566.86" y="546.87" width="0.94" height="0.23" fill="#e41a1c"/>
<rect x="567.99" y="545.79" width="0.94" height="1.91" fill="#4daf4a"/>
<rect x="567.99" y="544.86" width="0.94" height="0.93" fill="#984ea3"/>
<rect x="567.99" y="544.14" width="0.94" height="0.72" fill="#5b9bd5"/>
<rect x="569.13" y="545.03" width="0.94" height="2.67" fill="#4daf4a"/>
<rect x="569.13" y="544.08" width="0.94" height="0.95" fill="#ff7f00"/>
<rect x="570.27" y="545.77" width="0.94" height="1.93" fill="#4daf4a"/>
<rect x="570.27" y="544.39" width="0.94" height="1.38" fill="#5b9bd5"/>
<rect x="570.27" y="544.01" width="0.94" height="0.37" fill="#984ea3"/>
<rect x="571.41" y="544.57" width="0.94" height="3.13" fill="#4daf4a"/>
<rect x="571.41" y="544.11" width="0.94" height="0.47" fill="#5b9bd5"/>
<rect x="572.54" y="545.00" width="0.94" height="2.70" fill="#4daf4a"/>
<rect x="573.68" y="547.24" width="0.94" height="0.46" fill="#4daf4a"/>
<rect x="573.68" y="547.11" width="0.94" height="0.13" fill="#5b9bd5"/>
<rect x="574.82" y="547.16" width="0.94" height="0.54" fill="#4daf4a"/>
<rect x="574.82" y="546.91" width="0.94" height="0.25" fill="#e41a1c"/>
<rect x="575.95" y="546.93" width="0.94" height="0.77" fill="#4daf4a"/>
<rect x="577.09" y="547.32" width="0.94" height="0.38" fill="#4daf4a"/>
<rect x="577.09" y="546.97" width="0.94" height="0.35" fill="#5b9bd5"/>
<rect x="578.23" y="547.21" width="0.94" height="0.49" fill="#4daf4a"/>
<rect x="578.23" y="546.98" width="0.94" height="0.24" fill="#984ea3"/>
<rect x="579.37" y="546.97" width="0.94" height="0.73" fill="#4daf4a"/>
<rect x="580.50" y="546.04" width="0.94" height="1.66" fill="#4daf4a"/>
<rect x="581.64" y="546.34" width="0.94" height="1.36" fill="#4daf4a"/>
<rect x="581.64" y="545.77" width="0.94" height="0.57" fill="#ff7f00"/>
<rect x="582.78" y="543.64" width="0.94" height="4.06" fill="#4daf4a"/>
<rect x="583.91" y="544.84" width="0.94" height="2.86" fill="#4daf4a"/>
<rect x="583.91" y="543.41" width="0.94" height="1.43" fill="#984ea3"/>
<rect x="583.91" y="543.06" width="0.94" height="0.34" fill="#e41a1c"/>
<rect x="585.05" y="545.48" width="0.94" height="2.22" fill="#4daf4a"/>
<rect x="586.19" y="546.08" width="0.94" height="1.62" fill="#4daf4a"/>
<rect x="586.19" y="545.50" width="0.94" height="0.58" fill="#e41a1c"/>
<rect x="587.32" y="545.63" width="0.94" height="2.07" fill="#4daf4a"/>
<rect x="587.32" y="544.50" width="0.94" height="1.14" fill="#5b9bd5"/>
<rect x="588.46" y="546.18" width="0.94" height="1.52" fill="#4daf4a"/>
<rect x="589.60" y="546.91" width="0.94" height="0.79" fill="#4daf4a"/>
<rect x="589.60" y="546.19" width="0.94" height="0.72" fill="#ff7f00"/>
<rect x="590.74" y="546.34" width="0.94" height="1.36" fill="#4daf4a"/>
<rect x="591.87" y="546.84" width="0.94" height="0.86" fill="#4daf4a"/>
<rect x="591.87" y="546.04" width="0.94" height="0.79" fill="#984ea3"/>
<rect x="593.01" y="545.41" width="0.94" height="2.29" fill="#4daf4a"/>
<rect x="593.01" y="544.49" width="0.94" height="0.93" fill="#ff7f00"/>
<rect x="593.01" y="544.28" width="0.94" height="0.21" fill="#5b9bd5"/>
<rect x="594.15" y="544.70" width="0.94" height="3.00" fill="#4daf4a"/>
<rect x="594.15" y="543.83" width="0.94" height="0.88" fill="#984ea3"/>
<rect x="594.15" y="543.20" width="0.94" height="0.63" fill="#984ea3"/>
<rect x="595.28" y="546.75" width="0.94" height="0.95" fill="#4daf4a"/>
<rect x="595.28" y="545.83" width="0.94" height="0.91" fill="#5b9bd5"/>
<rect x="596.42" y="546.74" width="0.94" height="0.96" fill="#4daf4a"/>
<rect x="596.42" y="545.79" width="0.94" height="0.94" fill="#5b9bd5"/>
<rect x="597.56" y="545.80" width="0.94" height="1.90" fill="#4daf4a"/>
<rect x="597.56" y="545.29" width="0.94" height="0.51" fill="#5b9bd5"/>
<rect x="598.70" y="546.23" width="0.94" height="1.47" fill="#4daf4a"/>
<rect x="598.70" y="545.79" width="0.94" height="0.44" fill="#984ea3"/>
<rect x="599.83" y="546.41" width="0.94" height="1.29" fill="#4daf4a"/>
<rect x="600.97" y="546.72" width="0.94" height="0.98" fill="#4daf4a"/>
<rect x="600.97" y="546.56" width="0.94" height="0.16" fill="#5b9bd5"/>
<rect x="602.11" y="546.96" width="0.94" height="0.74" fill="#4daf4a"/>
<rect x="602.11" y="546.62" width="0.94" height="0.34" fill="#5b9bd5"/>
<rect x="603.24" y="547.04" width="0.94" height="0.66" fill="#4daf4a"/>
<rect x="603.24" y="546.72" width="0.94" height="0.32" fill="#984ea3"/>
<rect x="604.38" y="546.73" width="0.94" height="0.97" fill="#4daf4a"/>
<rect x="605.52" y="546.28" width="0.94" height="1.42" fill="#4daf4a"/>
<rect x="605.52" y="545.46" width="0.94" height="0.82" fill="#5b9bd5"/>
<rect x="606.66" y="545.43" width="0.94" height="2.27" fill="#4daf4a"/>
<rect x="607.79" y="546.99" width="0.94" height="0.71" fill="#4daf4a"/>
<rect x="607.79" y="546.51" width="0.94" height="0.48" fill="#984ea3"/>
<rect x="608.93" y="546.08" width="0.94" height="1.62" fill="#4daf4a"/>
<rect x="610.07" y="545.66" width="0.94" height="2.04" fill="#4daf4a"/>
<rect x="611.20" y="545.99" width="0.94" height="1.71" fill="#4daf4a"/>
<rect x="611.20" y="545.76" width="0.94" height="0.22" fill="#5b9bd5"/>
<rect x="612.34" y="546.71" width="0.94" height="0.99" fill="#4daf4a"/>
<rect x="613.48" y="546.70" width="0.94" height="1.00" fill="#4daf4a"/>
<rect x="613.48" y="546.43" width="0.94" height="0.27" fill="#e41a1c"/>
<rect x="614.61" y="546.95" width="0.94" height="0.75" fill="#4daf4a"/>
<rect x="614.61" y="546.43" width="0.94" height="0.52" fill="#ff7f00"/>
<rect x="615.75" y="546.48" width="0.94" height="1.22" fill="#4daf4a"/>
<rect x="616.89" y="546.67" width="0.94" height="1.03" fill="#4daf4a"/>
<rect x="618.03" y="546.57" width="0.94" height="1.13" fill="#4daf4a"/>
<rect x="618.03" y="546.43" width="0.94" height="0.15" fill="#ff7f00"/>
<rect x="619.16" y="547.20" width="0.94" height="0.50" fill="#4daf4a"/>
<rect x="619.16" y="546.71" width="0.94" height="0.48" fill="#e41a1c"/>
<rect x="387.10" y="529.20" width="233.10" height="18.50" fill="none" stroke="#8a8a8a" stroke-width="0.55"/>
<line x1="385.90" y1="547.70" x2="387.10" y2="547.70" stroke="#777" stroke-width="0.4"/>
<text x="385.50" y="548.70" font-family='"Liberation Sans", sans-serif' font-size="2.7" font-weight="normal" text-anchor="end" fill="#555">0</text>
<line x1="385.90" y1="543.08" x2="387.10" y2="543.08" stroke="#777" stroke-width="0.4"/>
<text x="385.50" y="544.08" font-family='"Liberation Sans", sans-serif' font-size="2.7" font-weight="normal" text-anchor="end" fill="#555">5</text>
<line x1="385.90" y1="538.45" x2="387.10" y2="538.45" stroke="#777" stroke-width="0.4"/>
<text x="385.50" y="539.45" font-family='"Liberation Sans", sans-serif' font-size="2.7" font-weight="normal" text-anchor="end" fill="#555">10</text>
<line x1="385.90" y1="533.83" x2="387.10" y2="533.83" stroke="#777" stroke-width="0.4"/>
<text x="385.50" y="534.83" font-family='"Liberation Sans", sans-serif' font-size="2.7" font-weight="normal" text-anchor="end" fill="#555">15</text>
<line x1="385.90" y1="529.20" x2="387.10" y2="529.20" stroke="#777" stroke-width="0.4"/>
<text x="385.50" y="530.20" font-family='"Liberation Sans", sans-serif' font-size="2.7" font-weight="normal" text-anchor="end" fill="#555">20</text>
<text x="503.65" y="526.40" font-family='"Liberation Sans", sans-serif' font-size="4.28" font-weight="normal" text-anchor="middle" fill="#333">Top15 Mutation Gene of Group low (n=205)</text>
<text x="385.80" y="555.67" font-family='"Liberation Sans", sans-serif' font-size="2.9" font-weight="normal" text-anchor="end" fill="#555">TP53</text>
<text x="623.60" y="555.67" font-family='"Liberation Sans", sans-serif' font-size="3.0" font-weight="normal" text-anchor="middle" fill="#333">65%</text>
<text x="385.80" y="569.05" font-family='"Liberation Sans", sans-serif' font-size="2.9" font-weight="normal" text-anchor="end" fill="#555">TTN</text>
<text x="623.60" y="569.05" font-family='"Liberation Sans", sans-serif' font-size="3.0" font-weight="normal" text-anchor="middle" fill="#333">46%</text>
<text x="385.80" y="582.43" font-family='"Liberation Sans", sans-serif' font-size="2.9" font-weight="normal" text-anchor="end" fill="#555">MUC16</text>
<text x="623.60" y="582.43" font-family='"Liberation Sans", sans-serif' font-size="3.0" font-weight="normal" text-anchor="middle" fill="#333">24%</text>
<text x="385.80" y="595.81" font-family='"Liberation Sans", sans-serif' font-size="2.9" font-weight="normal" text-anchor="end" fill="#555">LRP1B</text>
<text x="623.60" y="595.81" font-family='"Liberation Sans", sans-serif' font-size="3.0" font-weight="normal" text-anchor="middle" fill="#333">23%</text>
<text x="385.80" y="609.19" font-family='"Liberation Sans", sans-serif' font-size="2.9" font-weight="normal" text-anchor="end" fill="#555">CSMD3</text>
<text x="623.60" y="609.19" font-family='"Liberation Sans", sans-serif' font-size="3.0" font-weight="normal" text-anchor="middle" fill="#333">21%</text>
<text x="385.80" y="622.57" font-family='"Liberation Sans", sans-serif' font-size="2.9" font-weight="normal" text-anchor="end" fill="#555">ARID1A</text>
<text x="623.60" y="622.57" font-family='"Liberation Sans", sans-serif' font-size="3.0" font-weight="normal" text-anchor="middle" fill="#333">19%</text>
<text x="385.80" y="635.95" font-family='"Liberation Sans", sans-serif' font-size="2.9" font-weight="normal" text-anchor="end" fill="#555">FAT4</text>
<text x="623.60" y="635.95" font-family='"Liberation Sans", sans-serif' font-size="3.0" font-weight="normal" text-anchor="middle" fill="#333">18%</text>
<text x="385.80" y="649.33" font-family='"Liberation Sans", sans-serif' font-size="2.9" font-weight="normal" text-anchor="end" fill="#555">SYNE1</text>
<text x="623.60" y="649.33" font-family='"Liberation Sans", sans-serif' font-size="3.0" font-weight="normal" text-anchor="middle" fill="#333">18%</text>
<text x="385.80" y="662.71" font-family='"Liberation Sans", sans-serif' font-size="2.9" font-weight="normal" text-anchor="end" fill="#555">FLG</text>
<text x="623.60" y="662.71" font-family='"Liberation Sans", sans-serif' font-size="3.0" font-weight="normal" text-anchor="middle" fill="#333">17%</text>
<text x="385.80" y="676.09" font-family='"Liberation Sans", sans-serif' font-size="2.9" font-weight="normal" text-anchor="end" fill="#555">RYR2</text>
<text x="623.60" y="676.09" font-family='"Liberation Sans", sans-serif' font-size="3.0" font-weight="normal" text-anchor="middle" fill="#333">17%</text>
<text x="385.80" y="689.47" font-family='"Liberation Sans", sans-serif' font-size="2.9" font-weight="normal" text-anchor="end" fill="#555">PCLO</text>
<text x="623.60" y="689.47" font-family='"Liberation Sans", sans-serif' font-size="3.0" font-weight="normal" text-anchor="middle" fill="#333">16%</text>
<text x="385.80" y="702.86" font-family='"Liberation Sans", sans-serif' font-size="2.9" font-weight="normal" text-anchor="end" fill="#555">CSMD1</text>
<text x="623.60" y="702.86" font-family='"Liberation Sans", sans-serif' font-size="3.0" font-weight="normal" text-anchor="middle" fill="#333">15%</text>
<text x="385.80" y="716.23" font-family='"Liberation Sans", sans-serif' font-size="2.9" font-weight="normal" text-anchor="end" fill="#555">FAT3</text>
<text x="623.60" y="716.23" font-family='"Liberation Sans", sans-serif' font-size="3.0" font-weight="normal" text-anchor="middle" fill="#333">15%</text>
<text x="385.80" y="729.62" font-family='"Liberation Sans", sans-serif' font-size="2.9" font-weight="normal" text-anchor="end" fill="#555">DST</text>
<text x="623.60" y="729.62" font-family='"Liberation Sans", sans-serif' font-size="3.0" font-weight="normal" text-anchor="middle" fill="#333">15%</text>
<text x="385.80" y="743.00" font-family='"Liberation Sans", sans-serif' font-size="2.9" font-weight="normal" text-anchor="end" fill="#555">HMCN1</text>
<text x="623.60" y="743.00" font-family='"Liberation Sans", sans-serif' font-size="3.0" font-weight="normal" text-anchor="middle" fill="#333">15%</text>
<line x1="627.50" y1="547.50" x2="627.50" y2="748.87" stroke="#8a8a8a" stroke-width="0.6"/>
<line x1="646.40" y1="547.50" x2="646.40" y2="748.87" stroke="#a8a8a8" stroke-width="0.7"/>
<line x1="627.50" y1="547.50" x2="646.40" y2="547.50" stroke="#8a8a8a" stroke-width="0.5"/>
<line x1="627.50" y1="748.87" x2="646.40" y2="748.87" stroke="#8a8a8a" stroke-width="0.5"/>
<line x1="627.50" y1="546.50" x2="627.50" y2="547.50" stroke="#777" stroke-width="0.4"/>
<text x="627.50" y="545.90" font-family='"Liberation Sans", sans-serif' font-size="2.6" font-weight="normal" text-anchor="middle" fill="#555">0</text>
<line x1="633.80" y1="546.50" x2="633.80" y2="547.50" stroke="#777" stroke-width="0.4"/>
<text x="633.80" y="545.90" font-family='"Liberation Sans", sans-serif' font-size="2.6" font-weight="normal" text-anchor="middle" fill="#555">50</text>
<line x1="640.10" y1="546.50" x2="640.10" y2="547.50" stroke="#777" stroke-width="0.4"/>
<text x="640.10" y="545.90" font-family='"Liberation Sans", sans-serif' font-size="2.6" font-weight="normal" text-anchor="middle" fill="#555">100</text>
<line x1="646.40" y1="546.50" x2="646.40" y2="547.50" stroke="#777" stroke-width="0.4"/>
<text x="646.40" y="545.90" font-family='"Liberation Sans", sans-serif' font-size="2.6" font-weight="normal" text-anchor="middle" fill="#555">150</text>
<rect x="627.50" y="551.10" width="6.40" height="7.65" fill="#4daf4a"/>
<rect x="633.90" y="551.10" width="1.20" height="7.65" fill="#e41a1c"/>
<rect x="635.10" y="551.10" width="1.00" height="7.65" fill="#377eb8"/>
<rect x="636.10" y="551.10" width="0.80" height="7.65" fill="#984ea3"/>
<rect x="636.90" y="551.10" width="1.40" height="7.65" fill="#ff7f00"/>
<rect x="627.50" y="564.48" width="9.60" height="7.65" fill="#4daf4a"/>
<rect x="637.10" y="564.48" width="0.60" height="7.65" fill="#984ea3"/>
<rect x="627.50" y="577.86" width="5.00" height="7.65" fill="#4daf4a"/>
<rect x="632.50" y="577.86" width="0.50" height="7.65" fill="#ff7f00"/>
<rect x="627.50" y="591.24" width="4.90" height="7.65" fill="#4daf4a"/>
<rect x="632.40" y="591.24" width="0.50" height="7.65" fill="#ff7f00"/>
<rect x="627.50" y="604.62" width="4.40" height="7.65" fill="#4daf4a"/>
<rect x="631.90" y="604.62" width="0.50" height="7.65" fill="#e41a1c"/>
<rect x="627.50" y="618.00" width="1.40" height="7.65" fill="#e41a1c"/>
<rect x="628.90" y="618.00" width="2.40" height="7.65" fill="#377eb8"/>
<rect x="631.30" y="618.00" width="0.60" height="7.65" fill="#984ea3"/>
<rect x="627.50" y="631.38" width="3.60" height="7.65" fill="#4daf4a"/>
<rect x="627.50" y="644.76" width="3.60" height="7.65" fill="#4daf4a"/>
<rect x="627.50" y="658.14" width="3.60" height="7.65" fill="#4daf4a"/>
<rect x="627.50" y="671.52" width="3.40" height="7.65" fill="#4daf4a"/>
<rect x="627.50" y="684.90" width="2.00" height="7.65" fill="#4daf4a"/>
<rect x="629.50" y="684.90" width="1.40" height="7.65" fill="#377eb8"/>
<rect x="627.50" y="698.28" width="3.20" height="7.65" fill="#4daf4a"/>
<rect x="627.50" y="711.66" width="2.40" height="7.65" fill="#4daf4a"/>
<rect x="629.90" y="711.66" width="0.80" height="7.65" fill="#e41a1c"/>
<rect x="627.50" y="725.04" width="2.40" height="7.65" fill="#4daf4a"/>
<rect x="629.90" y="725.04" width="0.80" height="7.65" fill="#e41a1c"/>
<rect x="627.50" y="738.42" width="2.60" height="7.65" fill="#4daf4a"/>
<rect x="630.10" y="738.42" width="0.60" height="7.65" fill="#ff7f00"/>
<rect x="630.70" y="738.42" width="0.40" height="7.65" fill="#e41a1c"/>
<text x="648.10" y="637.70" font-family='"Liberation Sans", sans-serif' font-size="3.8" font-weight="bold" text-anchor="start" fill="#222" font-style="italic">Alterations</text>
<rect x="648.10" y="639.50" width="3.80" height="2.80" fill="#4daf4a"/>
<text x="652.80" y="641.80" font-family='"Liberation Sans", sans-serif' font-size="3.3" font-weight="normal" text-anchor="start" fill="#555">Missense_Mutation</text>
<rect x="648.10" y="643.12" width="3.80" height="2.80" fill="#e41a1c"/>
<text x="652.80" y="645.42" font-family='"Liberation Sans", sans-serif' font-size="3.3" font-weight="normal" text-anchor="start" fill="#555">Nonsense_Mutation</text>
<rect x="648.10" y="646.74" width="3.80" height="2.80" fill="#377eb8"/>
<text x="652.80" y="649.04" font-family='"Liberation Sans", sans-serif' font-size="3.3" font-weight="normal" text-anchor="start" fill="#555">Frame_Shift_Del</text>
<rect x="648.10" y="650.36" width="3.80" height="2.80" fill="#984ea3"/>
<text x="652.80" y="652.66" font-family='"Liberation Sans", sans-serif' font-size="3.3" font-weight="normal" text-anchor="start" fill="#555">Frame_Shift_Ins</text>
<rect x="648.10" y="653.98" width="3.80" height="2.80" fill="#ff7f00"/>
<text x="652.80" y="656.28" font-family='"Liberation Sans", sans-serif' font-size="3.3" font-weight="normal" text-anchor="start" fill="#555">Splice_Site</text>
<rect x="648.10" y="657.60" width="3.80" height="2.80" fill="#a65628"/>
<text x="652.80" y="659.90" font-family='"Liberation Sans", sans-serif' font-size="3.3" font-weight="normal" text-anchor="start" fill="#555">In_Frame_Del</text></svg>
</body></html>
